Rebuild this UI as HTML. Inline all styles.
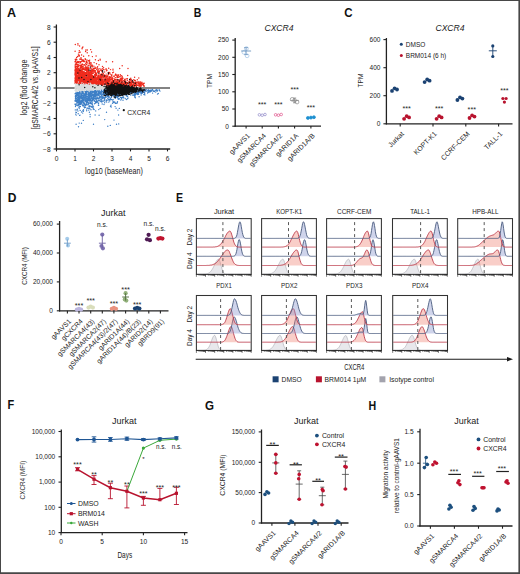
<!DOCTYPE html>
<html><head><meta charset="utf-8"><style>
html,body{margin:0;padding:0;background:#fff;}
svg{display:block;font-family:"Liberation Sans", sans-serif;}
</style></head><body>
<svg width="520" height="574" viewBox="0 0 520 574" fill="#222">
<rect x="0" y="0" width="520" height="574" fill="#fff"/>
<text x="7" y="17" font-size="12.2" font-weight="bold" fill="#111" textLength="9.1" lengthAdjust="spacingAndGlyphs">A</text>
<line x1="56.4" y1="88" x2="170" y2="88" stroke="#5a5a5a" stroke-width="1.4"/>
<path d="M85.6 75.9h0M77 70.3h0M95.9 83.4h0M94.3 82.9h0M76 79.4h0M77.6 81.8h0M90 82.5h0M81.9 79.2h0M101.9 76.3h0M88.7 80.6h0M76.3 77.5h0M79.2 76.7h0M78.4 76.3h0M80.4 65.4h0M98.7 80.5h0M96.6 79.1h0M76.8 76.4h0M106 84.5h0M90.2 79.9h0M91.4 73.7h0M84.7 79.9h0M82.6 68.5h0M98.2 68.9h0M110.6 84.2h0M84.2 79.1h0M89.7 84.1h0M113.5 82.2h0M76.1 72.7h0M105 85.4h0M131.7 81.5h0M85.2 79.7h0M98.6 75.2h0M91.6 73.1h0M92.5 66.6h0M104.7 75.5h0M103.3 81.7h0M121.9 85.2h0M105.1 79.2h0M75.6 76.6h0M78.4 82h0M76.7 82.8h0M82.7 78.6h0M88.5 81.9h0M91.2 82.1h0M96.7 73.7h0M129.3 81.3h0M83.9 75.8h0M133.7 84.7h0M79.5 80.2h0M82.2 77.2h0M93.1 79.1h0M75.1 78.5h0M89.8 76.4h0M106.9 79.6h0M94.7 75.5h0M76.5 72.1h0M137.5 85.2h0M118.5 75.3h0M88.6 81h0M102.4 83.8h0M76.7 76.4h0M79.8 80.7h0M86.3 84.2h0M79.5 83.6h0M77.9 81.9h0M131.4 85.7h0M100.9 82.2h0M86.6 78.4h0M87.3 70.9h0M92.1 72.6h0M93 81.5h0M86.4 82h0M83.4 81.2h0M75.6 77.4h0M95.4 78.7h0M75.7 72h0M95.4 68.2h0M107.4 84.4h0M83.2 79.9h0M115.2 83.6h0M95.7 83.9h0M81.9 74.7h0M120.4 76.1h0M119.6 85.3h0M121.4 86.1h0M94.8 79h0M87 82.2h0M83.9 83.7h0M83.2 74.9h0M91.1 63.2h0M87.3 83.2h0M81 76.4h0M81.2 67.7h0M124.9 79.3h0M92.8 75.8h0M77.4 67.2h0M104.4 75.2h0M112.7 80.4h0M92.7 78.1h0M86 68.5h0M118.9 80.9h0M89 83h0M110.1 84.6h0M79.5 78.8h0M139 85.8h0M122.7 83.7h0M104.1 80.6h0M78.8 72.5h0M75.4 67.1h0M95.3 83h0M90.5 72.7h0M81.4 69.6h0M82.9 82h0M99 79.8h0M83.2 79.3h0M140.5 85.7h0M86.9 71.9h0M138.8 85.4h0M89.8 75.1h0M95.6 80.3h0M95.2 76h0M80.5 82.5h0M75.1 81.1h0M92.5 79.7h0M110.1 80.8h0M94.9 82.5h0M97.1 84.6h0M97.4 81.6h0M82.8 81h0M94.3 70.2h0M97.4 84.3h0M90.9 64.4h0M100.8 76.3h0M107.1 86h0M91.4 74.6h0M107.7 84.7h0M131.9 83.6h0M97.3 83.2h0M124.9 84.8h0M90.9 81.3h0M77 83.2h0M105.1 83.4h0M116.7 83.7h0M109.3 84h0M104.4 76.6h0M81.7 66.9h0M88.8 55.7h0M123.6 85.2h0M79.8 71.9h0M86.3 79.4h0M80.9 76.7h0M75.5 66.8h0M97 83.9h0M86 83.7h0M101.6 83.1h0M117.2 86.2h0M78 83.3h0M116.1 84.7h0M83.6 76.7h0M140.9 84.4h0M121.5 86.2h0M143.4 85.1h0M98 84.4h0M76.6 78.8h0M106.7 83.9h0M102.4 84.6h0M119 77h0M76.9 72.4h0M129 82.8h0M96.9 83.2h0M83.5 75.4h0M82.4 74.7h0M78.2 81.7h0M81.1 81h0M85.2 78.5h0M84.3 68h0M93.9 81.5h0M75.5 73.9h0M82.8 67.3h0M96.8 84.1h0M80.7 59.2h0M78.1 79.5h0M121.5 80.9h0M124 84h0M88.6 70h0M86.4 83.8h0M123.6 84.5h0M89.1 71.6h0M86.6 79.5h0M77 81.5h0M111.7 86.2h0M77.4 76.9h0M125.1 81.6h0M84 73.1h0M82.5 80.9h0M79.7 72.2h0M91.1 82.9h0M96.5 63.7h0M82.6 75.3h0M87 82.6h0M75 73.7h0M94 78.3h0M81.1 82.8h0M83.3 84.1h0M77.6 80.9h0M75.6 81.4h0M84.9 82.8h0M95.5 73.9h0M112.8 80.8h0M132.5 81.5h0M88.4 71.8h0M79.4 55.9h0M110 85.1h0M124.1 85.2h0M135.5 82.7h0M120.5 80.2h0M79.1 70.9h0M124 85.5h0M119.4 83h0M135.8 82.6h0M106.2 84.5h0M75.9 75.7h0M78.9 80.4h0M124.2 84.6h0M97.2 77.3h0M106.1 79h0M93.3 69.1h0M112.5 86.1h0M94 72.5h0M76.9 79.9h0M111.3 86.3h0M83.4 80h0M110.6 83.3h0M93.5 71h0M88.1 70h0M114.6 85.1h0M101.1 83.9h0M79.3 80.3h0M83 83.7h0M97.8 78.4h0M75.3 74.9h0M105.3 84.1h0M107.1 83.7h0M94.8 78.7h0M92 80.5h0M136 86h0M81 59.2h0M75.5 79.7h0M91.7 74.7h0M91.2 62.9h0M83.5 77.9h0M81.4 59.2h0M98.7 79.3h0M78.9 73.3h0M121.7 75.7h0M108.1 85.5h0M82.2 74.3h0M75.7 75.5h0M75.1 70.8h0M84.8 83.7h0M79.1 78.4h0M124.9 83h0M75 83.2h0M78.5 62.6h0M109 81.7h0M87.7 79.9h0M88.6 71.8h0M87.2 84.4h0M90.2 84.3h0M77.9 80.1h0M124 83.8h0M82.8 60.3h0M83.4 77.4h0M87.7 84.1h0M133.7 84.5h0M141.6 83.2h0M96.7 84.9h0M110.9 84.3h0M91.3 84.7h0M84.2 69.5h0M76.4 78.1h0M92.4 82.9h0M86.5 79.6h0M83.2 67.9h0M104 83.1h0M88.6 73h0M80 79.9h0M139.3 84.8h0M93.7 81.5h0M91.3 65.1h0M79.1 82h0M86.4 80.4h0M77.6 82.9h0M97.9 79.1h0M134.4 86.3h0M89.5 74.9h0M95.2 79.6h0M76.7 76.3h0M83.8 78.9h0M94 84.2h0M102 82.4h0M83.6 78.7h0M82.8 74.9h0M126.4 83.5h0M131.1 85.4h0M108.6 86.1h0M136.5 82.3h0M75 80.7h0M88.5 68.5h0M127.6 82.8h0M82.8 79.4h0M95.1 82.1h0M106.2 75.6h0M103.4 81.7h0M114.4 78.9h0M76.1 79.6h0M116.5 84.9h0M103.2 69.1h0M84.9 78.9h0M102.5 81.8h0M107.6 84.3h0M95.2 83.1h0M98.8 81.2h0M100 82h0M75.3 79.3h0M103.1 78h0M133.6 83.8h0M82.7 82.9h0M108.2 85.8h0M93.8 83.4h0M105.5 81.4h0M104.9 83.5h0M82 74.6h0M89.8 82.9h0M106.2 82.2h0M111.6 75.4h0M94.1 78.7h0M85.2 58.7h0M121.7 85.9h0M113.9 82h0M84.5 72.9h0M80.6 80.1h0M81.9 70.5h0M79.3 75.7h0M88.6 78.6h0M79.2 55.1h0M76.4 73h0M137.1 85.2h0M133.5 85h0M85.9 50h0M80.6 67.5h0M75.9 76h0M104.7 81h0M86 77.7h0M80 75.1h0M86.8 84.3h0M78.6 76.3h0M87 83h0M121.9 84h0M76.4 72.6h0M92.5 70.8h0M80.8 66.7h0M87.3 82.6h0M89.4 83.3h0M120.4 86.2h0M76 80.1h0M76.8 75.9h0M112.4 84h0M137.3 85.1h0M101.1 80.5h0M83.3 82.2h0M83.8 75.4h0M75.1 82.4h0M102.3 68.8h0M75.7 82h0M88.3 73.7h0M82.9 73.1h0M80.5 78.5h0M119.1 85.6h0M115.3 75.3h0M100.4 82.5h0M87.2 76.9h0M116.5 82.9h0M113 84.3h0M82.7 81.5h0M96.9 84.6h0M85.7 63.8h0M83.4 81.5h0M77.4 72.8h0M108.7 81.7h0M91.1 83.9h0M101.3 77.8h0M105.5 86.1h0M104.7 71.9h0M78.5 78.7h0M97.8 79.7h0M87.7 84h0M82.7 77.1h0M82.7 71.7h0M98.5 71.5h0M85.7 59.5h0M94.3 68.4h0M82.2 78.5h0M77.9 68.6h0M92.5 77.7h0M141.9 82.2h0M76.1 81.8h0M80.7 78.7h0M98.8 78.5h0M129.7 84.7h0M91.2 83.9h0M78 64.5h0M99.7 81.6h0M87.5 79.8h0M79.1 81.3h0M99.9 79.8h0M103.7 85.8h0M85.8 82.9h0M105.9 83.8h0M81.2 75.5h0M118.2 84.4h0M77.9 82.4h0M88.7 71.6h0M77.6 78.6h0M79.9 80h0M84.1 74.3h0M85 75.9h0M97.7 83.4h0M87 67.5h0M87.3 74.7h0M81 82.9h0M75.2 75.6h0M138.1 81.6h0M89.2 76.5h0M133.3 84.3h0M75.4 81.7h0M96.8 73.6h0M77.5 64.7h0M101.5 79.5h0M79.3 74.4h0M84.1 61.1h0M78.1 80.3h0M93.3 77.2h0M81 57.7h0M78.7 55.7h0M92.9 76.5h0M76.5 73.5h0M138.8 85.1h0M101.3 83.8h0M116.9 83.3h0M81.8 67.1h0M123.1 81h0M80.5 81.7h0M94.8 76.6h0M88.2 79.4h0M110.1 82.8h0M136.9 82.6h0M113.5 84.3h0M76.1 80.4h0M99.9 82.3h0M96.7 80.4h0M89.8 79h0M98.8 74.9h0M91.1 78.8h0M90.7 72h0M93.3 83.3h0M82.3 82.4h0M91.7 69h0M80.4 78.8h0M78.7 82.8h0M90.3 76.3h0M94.4 80h0M76.1 80.3h0M111 84.3h0M115.9 84.4h0M94.1 84.9h0M87.9 79.6h0M127.9 85.6h0M110.8 84.6h0M93.4 79.7h0M142.4 84.3h0M76.8 66.5h0M86.8 84.2h0M136.7 84.5h0M83.7 81.8h0M94 80.6h0M143.7 85.9h0M94.2 78.5h0M85.5 78.1h0M79.8 82.2h0M106 82.8h0M116.8 84.2h0M78.3 68.3h0M87.1 81.8h0M131.1 81.6h0M133.3 84.7h0M78 68h0M88.6 84h0M118.5 84.8h0M98.4 60.5h0M87.2 83.5h0M80.3 72.3h0M112 75h0M83 78.3h0M102.7 75.9h0M104.6 85.2h0M85.2 81.6h0M79.4 83.7h0M101 77.2h0M136.5 84.8h0M78.9 81.4h0M75.6 67h0M75.1 80h0M87 80.8h0M81.9 71.8h0M81.2 76.8h0M101.6 81.7h0M82.6 83.1h0M79.4 71h0M130.8 83.2h0M116.5 82.6h0M75.3 78.1h0M103.2 79.5h0M103.2 83.4h0M91 70.9h0M82.8 77.5h0M138.6 83h0M89.2 81.5h0M82.4 67.1h0M75.3 76.2h0M96.8 81h0M81.1 81.7h0M100.5 74.4h0M120.7 86h0M80.2 80.5h0M76.4 74.5h0M134.9 85.2h0M75.2 65.6h0M125.6 86.2h0M111.8 79.1h0M91.4 84.2h0M82.2 79.1h0M76.1 73.8h0M107.3 76.2h0M125.8 85.5h0M97 79h0M90.6 82.1h0M83.4 71.9h0M102.9 80.8h0M132.7 85.8h0M75.4 82.8h0M112.1 81.6h0M112.3 80.2h0M85.8 66.2h0M82.4 71.7h0M107.1 80.8h0M104.8 78h0M124.8 85.6h0M107.5 81.6h0M110.1 80.7h0M98 83.5h0M101.5 80.8h0M77.2 78.2h0M75.7 80h0M78.1 74.4h0M79.2 79.4h0M75.8 66.5h0M102.3 82.9h0M107.5 86.1h0M99.3 82.7h0M87.3 77h0M135.4 80.9h0M76.9 66.7h0M78.1 65.5h0M81.3 81.8h0M126.2 85.6h0M120.5 79.8h0M102.2 75.2h0M84.2 80.4h0M113.5 84.7h0M81.2 79.2h0M75.6 72.5h0M83.1 80.7h0M87.5 69.4h0M85.5 72.8h0M126.9 85.2h0M101.2 77.9h0M90.6 83h0M115.3 81h0M96 74.3h0M81.6 80.9h0M121.6 84.6h0M80.1 76.5h0M114.1 86.3h0M75.1 70h0M118.4 85.9h0M80.5 74h0M123.5 86.2h0M83.2 76.2h0M81.6 80.9h0M107.7 82.9h0M102.5 86h0M77.3 79.4h0M117.1 77.7h0M101.9 81.1h0M88.7 77h0M135.2 80.5h0M75.7 71.1h0M81.3 82h0M93.9 66.1h0M88 79.3h0M91.8 80.5h0M95.6 84.9h0M103.3 73.4h0M86.7 81.8h0M125.4 84h0M104.5 86h0M90.7 79.2h0M115.4 83.6h0M91.9 82.7h0M133.9 86.2h0M84.8 77.7h0M108 84.1h0M79.6 78.5h0M82.7 78.2h0M79.8 72.1h0M85.8 74.2h0M110.5 69.6h0M77.9 78.6h0M88.2 83.5h0M118.1 85.7h0M80.9 72.6h0M102.6 81.9h0M88.4 80.5h0M75.9 67.2h0M107.2 78.9h0M93.9 78.5h0M79.2 74.7h0M100.2 74.9h0M139.9 83.9h0M90.3 70.9h0M89.9 77.7h0M82.1 80.2h0M115.5 74.3h0M107.8 80h0M102.9 76.8h0M91.5 79.9h0M77.8 69.2h0M89.8 81.7h0M102 73.9h0M82.8 73.9h0M101.4 81.9h0M89.3 74.8h0M80.5 61.8h0M103.9 84.8h0M93.3 76.3h0M76.1 76.9h0M116.4 85.4h0M94.9 76.1h0M96.2 78.7h0M109.4 76.7h0M123 85.8h0M95.1 67.3h0M81.4 70.2h0M106.4 76.8h0M78.6 72h0M86.9 77.1h0M88.9 82h0M75.4 72.9h0M107.6 82.7h0M86.8 83.8h0M111.8 81.8h0M95.4 82.3h0M88.5 67.7h0M81.5 71.3h0M120.1 79.7h0M102.4 76.2h0M82 81.4h0M86.9 72.8h0M121.1 79h0M92.2 81.8h0M78.6 70.4h0M123.8 80.6h0M83.5 68.2h0M87.8 84.3h0M80.6 72.6h0M75.1 81.6h0M82.6 75.7h0M84.8 73.6h0M102.6 85h0M104.3 75h0M127.4 78.8h0M76.6 72h0M116.7 75.3h0M79.1 76.1h0M75.4 69.2h0M75.3 67.4h0M82.8 79.5h0M77.9 78.5h0M115.7 83h0M86.6 72.1h0M117.7 76.3h0M80 72.3h0M116.4 81.3h0M105 76.1h0M124.7 81.2h0M81 79.3h0M111.8 78.9h0M90.7 76.1h0M83.4 75.3h0M82.3 76.2h0M76.6 73.4h0M92.1 78.4h0M93.8 77h0M96.1 84.7h0M125 85.9h0M92.2 72.5h0M125 83.7h0M87.8 63h0M77.1 69.6h0M102.6 84.8h0M100.6 84.4h0M106.2 80.5h0M94.4 81.9h0M93 83.2h0M109.5 85.3h0M101.7 77.7h0M87.4 68h0M92.5 69.7h0M81.4 81h0M90.5 74.3h0M122.7 83.4h0M84.4 79.4h0M94.1 77.2h0M83.6 56.2h0M103.9 85.3h0M117.7 83.9h0M84.7 76.5h0M99 76.2h0M76.1 68.6h0M109.9 80h0M76.4 74.1h0M84.7 77.7h0M144.2 86.3h0M100.5 78.1h0M140.5 82.6h0M100.7 77.5h0M107.4 79.7h0M99.7 83.4h0M104.9 81.6h0M91.7 84.6h0M80.4 78.9h0M76 79.5h0M104 69.7h0M87.5 77h0M97.5 72.3h0M83.1 80.6h0M85.4 74.4h0M90.3 71.1h0M76.5 63.1h0M97.8 81.5h0M120.2 85.7h0M98.3 77.7h0M75.4 77.2h0M88.3 65.6h0M92.6 73.4h0M89.5 73.8h0M81.5 74.8h0M79.5 82.7h0M106.3 86.3h0M78.5 79h0M130.4 86h0M78.8 66.3h0M82.5 82.2h0M111 85.5h0M115.5 84.6h0M109 79.5h0M77.4 69.3h0M101.9 83.7h0M83 72.9h0M109.4 85.2h0M103.6 86h0M121.3 82.4h0M110.6 83.6h0M79.9 75.8h0M76.7 73.5h0M87.5 75.2h0M105.7 82.8h0M79.3 80.7h0M103.2 79.1h0M102 79.3h0M117 83.5h0M116.8 81.9h0M76.7 79.6h0M108.1 83.4h0M100.3 79.4h0M123.4 83h0M90.2 80h0M134.6 82.7h0M100 77.2h0M136.6 85.4h0M75 74.5h0M83.3 72h0M121.1 83.1h0M134.4 80.2h0M120.4 83.7h0M129.9 83.5h0M126.8 84.8h0M119.8 81.6h0M86.6 64.4h0M77.4 64.8h0M81.1 77.6h0M112.7 82.1h0M100.4 83.4h0M105.8 81.5h0M83 82.5h0M112.8 84.5h0M77.5 71.6h0M119.7 85.8h0M98.6 79.7h0M136.8 83.6h0M92.6 77.7h0M99.2 83.7h0M80.4 77.3h0M107.9 80.5h0M89 75.3h0M94.8 83.7h0M87.7 82.2h0M78.1 70.5h0M79.6 69.6h0M99.7 80.2h0M75.6 71.9h0M75.9 60.7h0M93.1 84h0M97.8 84.5h0M90.1 68.5h0M114.7 79.8h0M83 59.9h0M76.1 81.2h0M77.4 76.8h0M76.4 62.1h0M91.7 78.4h0M140.5 83.2h0M88.8 79.6h0M78.5 75.4h0M97.6 83.9h0M102.8 75.1h0M88.6 80.8h0M91.2 72h0M81.8 60.9h0M76.1 83h0M138.4 83.7h0M138.9 85.9h0M117 84.8h0M108.6 74.3h0M76.6 57.4h0M79.3 82.9h0M105.7 69.1h0M84.7 69.9h0M78 73.5h0M85.6 84.1h0M92.9 80.4h0M80 83.3h0M105.8 82.3h0M75.3 81.8h0M76 76.1h0M81.8 64.6h0M134.7 83.6h0M79.1 79h0M125.2 85.6h0M101.9 79.2h0M122.1 85h0M92.7 81.5h0M81.8 79.7h0M76.6 80.2h0M79.3 70.3h0M130.7 85.9h0M79.6 72.6h0M83.6 79.2h0M80 75.5h0M93.4 77.1h0M78.3 62h0M76.6 70.2h0M81.5 74.3h0M92.7 83.4h0M81.1 75.9h0M87.3 50h0M77.8 81.3h0M84.3 81.4h0M110.3 84.9h0M84.5 82.4h0M119.8 86.2h0M86.3 84h0M123.6 86.1h0M95.3 81.6h0M141.1 83.9h0M81.7 78.8h0M80.4 81.3h0M115 85.4h0M77.2 76.3h0M77.5 73.4h0M83.7 76.6h0M81.3 71.3h0M120.4 81h0M98.8 84.7h0M110.9 84h0M89.3 84.1h0M120.3 84.6h0M86.1 73.5h0M93.5 70.1h0M75.4 72.4h0M130.9 84h0M83.4 76.5h0M87.4 67.6h0M79.9 73.7h0M75.1 72.2h0M95 75.3h0M78.5 79.2h0M109.1 80.8h0M85.5 66h0M108.8 77.9h0M76.7 70.8h0M131.1 82.1h0M94.6 82.3h0M95.6 83.6h0M81.9 83.5h0M80.5 77.3h0M121.2 84h0M75.8 68.9h0M80.9 74.5h0M75.5 71.2h0M95.1 78.6h0M108 75.1h0M109.4 78.1h0M76.3 74h0M93.9 77.9h0M83.9 76.6h0M79 76h0M99.4 82.7h0M98.1 82h0M112.3 80.2h0M88.4 69.1h0M89.8 78.6h0M88.7 74.7h0M115.8 84h0M86.1 78.1h0M90.6 68.1h0M141.4 85.8h0M120.9 85.3h0M94.8 82.9h0M82.8 71.1h0M87.3 78h0M95.6 77h0M94.1 81.2h0M75.6 64.1h0M115.8 74.3h0M102.3 80.1h0M133.8 79.7h0M76 77.8h0M105.9 81.9h0M83.7 61.6h0M101.4 81.2h0M82.8 73.1h0M84.2 82.8h0M84.9 81.2h0M99.5 82.4h0M94.6 84.1h0M95.8 75.7h0M79.4 79.6h0M84.5 80.4h0M89.2 83h0M77.5 75.5h0M96.5 79.2h0M98 75.9h0M103.6 82.5h0M91.8 71.2h0M96.6 78.1h0M85.1 76.9h0M82.5 81.8h0M88.1 73.2h0M99 78h0M128.9 86h0M82.4 72.6h0M84.1 80h0M84.5 83.4h0M76.9 76.9h0M130.8 85h0M88.4 83.3h0M90.8 84.4h0M81.9 78.9h0M111.5 83h0M86.8 77.1h0M105.6 75.7h0M121.8 79.7h0M94.8 84.2h0M113.8 76.2h0M92.5 81.9h0M142 82.8h0M78.7 82.9h0M114.5 85.9h0M99 64.7h0M98.1 85.3h0M89.7 80.7h0M100.4 69.9h0M88 74.3h0M109.9 84.1h0M84.4 74.2h0M88.2 76.8h0M85.6 79.8h0M93.8 68.3h0M91 81.7h0M79.3 75.2h0M98.3 82.5h0M143.8 85.9h0M85.6 73.8h0M81.2 67h0M90.1 83.6h0M76.3 82.5h0M97.6 66.7h0M115.4 86.1h0M96 75h0M94.8 85.1h0M106.4 81.1h0M99.6 80.8h0M86.8 70.4h0M95.3 81.1h0M77.8 75.7h0M97.4 79.5h0M98.2 70h0M93.1 69.2h0M90.8 62.9h0M86.4 61.2h0M95.5 83.2h0M85.4 78.7h0M122.6 83.9h0M136.2 86.2h0M106.9 77h0M134.6 77.2h0M89.9 80.4h0M94.5 79.1h0M94.1 83h0M102.1 81.4h0M100.1 70.3h0M102.5 66.4h0M76.2 66.5h0M85 74.9h0M106.9 80.3h0M125.2 86.2h0M99 83h0M93.7 80h0M96.9 84.2h0M95.6 72.9h0M98.2 82h0M79.6 80.8h0M113.8 84.1h0M80.1 80.7h0M95.1 79.9h0M119.7 79.7h0M76.7 64.3h0M85.6 83h0M109.2 83.8h0M83.4 79.1h0M77.8 71.5h0M86.7 77h0M91.3 82.5h0M135.2 85.6h0M98.8 77.1h0M101.3 83.8h0M82.8 61h0M127.5 83.6h0M85.3 69.4h0M84.8 73.2h0M100.1 76.7h0M82.6 81h0M88.4 83.3h0M85.1 77.3h0M131.6 79.7h0M82.6 82.2h0M80.2 79.4h0M84.3 79.1h0M97.4 77.7h0M88.3 76.7h0M89 80.2h0M122.5 85.3h0M86.8 84.2h0M84.1 77.5h0M82.4 68.9h0M86.4 81.2h0M79.6 82.4h0M83.5 79.8h0M124 82.7h0M124.2 82.6h0M119.5 83.6h0M109.9 81.1h0M87.9 78.1h0M94.1 83.6h0M82 78.6h0M108.3 85.2h0M83.2 73h0M87.5 76.9h0M82.7 78.4h0M131 84.7h0M78.6 70h0M83.6 83.1h0M115.2 79.8h0M97.8 77.4h0M85.1 81h0M80.3 80.9h0M126.8 83.5h0M78.1 68.9h0M97.5 79.1h0M84.6 75.1h0M76.9 80.4h0M78.7 76.4h0M109.3 84.9h0M140.2 83.8h0M115.6 77.6h0M78.9 69.1h0M83.8 68.9h0M104.6 84.1h0M86.8 72.1h0M107.7 81h0M82.8 78.5h0M102 80h0M80.5 66.1h0M111 76.8h0M108.9 84.4h0M79.8 83h0M81 80.5h0M76.1 72.9h0M85.1 80.2h0M124.8 84.1h0M98 84.2h0M90.5 77.8h0M106.4 86.1h0M123.9 86.1h0M115.8 85.9h0M127.4 85.1h0M100.4 80.1h0M78.2 81.2h0M117.6 83.2h0M112.7 72.7h0M77.5 79.7h0M112.5 80.4h0M123 85.9h0M90 80.8h0M107 85.4h0M101.9 71.3h0M91.4 71.5h0M90.2 79.9h0M94.5 81.1h0M114 84.9h0M76.2 77.4h0M83.2 66.2h0M96.5 73.5h0M96.4 83.1h0M82.8 74.9h0M89.4 81.4h0M81.1 81.7h0M108.4 82.8h0M105.2 85.8h0M94.7 78.7h0M91 76.9h0M84.7 80.5h0M133.8 83.5h0M86 74.4h0M121 77.9h0M80 78.3h0M104.9 79.5h0M114.5 82.4h0M123.4 83.3h0M87.2 79.1h0M81.3 75.9h0M81 80.7h0M107.9 83.1h0M85.7 82.8h0M92.2 81.4h0M77 78.3h0M75.3 64.3h0M77.4 82.6h0M109.4 77.7h0M78.1 81.8h0M93.3 79.8h0M96.3 83.2h0M75.2 68.9h0M101.9 80.5h0M103.8 86.1h0M79.1 75.5h0M75.8 80h0M84.6 65h0M80.6 70.5h0M80 67.9h0M116.8 81.7h0M85.8 70h0M80.6 79.5h0M87.5 76.9h0M96.8 74.5h0M82.4 69.6h0M76.1 68.9h0M121.6 83.4h0M108.3 72.5h0M93.6 73.1h0M93.8 81h0M98.7 79.8h0M77.3 81h0M90.9 79.7h0M77.6 72h0M80.8 81h0M109.9 73.5h0M127.6 86.2h0M117.1 82.2h0M104.5 83.4h0M94.7 78.2h0M90.7 80.8h0M104.8 78.9h0M79.9 63h0M84.5 72h0M86.6 80h0M80.9 75.8h0M91.8 80.8h0M140.1 81.7h0M101.3 69.9h0M120.3 79h0M100.6 81.4h0M84.6 61.6h0M92.8 75.4h0M103.4 84h0M133.9 83.3h0M75.8 76.9h0M91.1 71.9h0M77.4 77.8h0M98.7 78.9h0M89.7 72.7h0M88.7 82.3h0M78.3 73.8h0M96.6 69.2h0M78.2 78.1h0M77.7 77.1h0M95.6 85.2h0M97 75.6h0M82 79.3h0M94.6 83.3h0M99.2 78.3h0M77.1 78h0M90.8 77.1h0M109.1 79.8h0M113.5 72.1h0M109.8 72.8h0M77.9 78.2h0M80.1 74.4h0M97.5 84.8h0M115.7 83.2h0M76.6 82.5h0M75.4 72.4h0M99.5 84.1h0M108.4 80.7h0M90.1 74.8h0M131 82.9h0M97.5 70.8h0M80 73h0M112.2 80.4h0M106 76h0M122.5 82.9h0M111.4 81.9h0M109.8 77.5h0M77.9 79.5h0M96.7 84.1h0M105.6 82.9h0M83 80.1h0M124.5 81.5h0M98.7 84.3h0M78.2 82.1h0M118.9 83.6h0M84.3 72.3h0M106.6 83.4h0M131.7 84.9h0M96 79.6h0M75.4 64.1h0M86.4 77.6h0M131.2 82.7h0M118.8 82.9h0M121.4 85.6h0M106 79.9h0M79.7 76.1h0M125.7 79.1h0M100.7 75.8h0M77.1 79.8h0M136.1 84.4h0M99.2 80.9h0M87.2 82.9h0M92.2 77h0M86.9 79.9h0M75.2 74.2h0M75.6 78.4h0M91.7 82.1h0M79.3 83.4h0M105.2 85.4h0M93.9 78.1h0M83.3 72.6h0M75.9 77.5h0M97.4 83.3h0M115.5 74.4h0M102.3 81.1h0M84 76.9h0M118.2 77.1h0M106.1 74.1h0M84.9 82.9h0M94.3 70.8h0M102.4 80.2h0M89.2 75h0M76.7 78.3h0M92.9 78.2h0M87.5 84.2h0M86.7 77.2h0M79 61.6h0M91.4 84h0M91 77.7h0M80 79.9h0M76.9 80.4h0M110.3 80.9h0M96.8 78.3h0M144.1 85.6h0M98.8 81.1h0M98.6 83.1h0M87 82.9h0M130.2 82.2h0M76.9 59.6h0M83.8 82h0M83.1 77.9h0M83.5 83.2h0M108.2 84.9h0M81.1 73.4h0M100.1 78.1h0M81 72.3h0M111 77.7h0M77.2 80h0M120.1 82.9h0M79 76.6h0M80.7 62.6h0M102.8 82.4h0M81.5 75.8h0M103.5 74.9h0M89.1 80.9h0M76.6 74.2h0M89.6 72h0M86.1 80.4h0M93.6 79.5h0M91.9 80.9h0M75.4 70.2h0M76.6 76.9h0M100.9 84.7h0M77.7 73.8h0M79.6 72.2h0M77.6 68.7h0M120.8 80.6h0M99.2 81h0M97 79.1h0M85.9 73.1h0M111.8 85.8h0M114.2 76.7h0M115.7 82.6h0M91.4 70.1h0M83.9 60.1h0M78.8 79.9h0M75.2 66.8h0M115.5 85h0M87.2 77.5h0M113.4 86h0M77.6 77.7h0M76.7 82.4h0M94 79.9h0M87.4 82.4h0M79.4 75.9h0M144.2 83.3h0M79.8 65.3h0M82.6 80.7h0M93.8 79.8h0M118.9 82.5h0M91.8 76.1h0M78.1 62.3h0M111 77.7h0M89 79.2h0M129.3 81.5h0M89.4 80.2h0M143.4 83.5h0M81.9 78.9h0M82.9 83.2h0M82.2 72.8h0M81.2 83h0M84.6 69.7h0M81.6 78.3h0M129.1 85.3h0M130.4 85.6h0M122.1 78h0M84 78.4h0M135.3 83.1h0M79.8 77.8h0M91.4 73.6h0M98.6 81.4h0M133.5 84.7h0M87.2 80.8h0M80.5 62.8h0M129.3 82.9h0M75.7 83h0M78.2 82.1h0M141 86.3h0M79.4 83.3h0M80 78.9h0M106.2 80.8h0M143.2 85.3h0M109.3 72.4h0M75.9 62h0M82.3 79.8h0M76.1 66.7h0M94.1 84.1h0M78 71.9h0M75.5 73.4h0M132.4 86.1h0M78.5 77.7h0M90.2 84.4h0M80.4 81.4h0M111.5 83h0M93.9 78.8h0M93.7 79.7h0M143.3 85.4h0M133.4 84.3h0M110.8 85.7h0M83.4 77.7h0M76.9 70.6h0M89.3 81.6h0M97.1 84.7h0M106.7 85.5h0M103.8 77h0M106.9 83.9h0M131.4 85.6h0M85.4 74.4h0M89.8 75.5h0M88.2 83h0M89.4 63.5h0M75.1 51.3h0M100.5 80.3h0M100.7 83.1h0M87.9 84.2h0M78.4 76.3h0M125.4 84.2h0M76.4 59.3h0M107.2 81.7h0M96.7 74.5h0M85.3 83.9h0M112.3 86.3h0M127.3 80.5h0M82.3 83.1h0M102 85.6h0M108.9 79.7h0M88.6 71.6h0M105.8 84.7h0M85.6 75.7h0M81.9 74.4h0M100.8 84.2h0M92.4 65.2h0M109.8 78.8h0M81.8 82.3h0M79.2 71.7h0M95.2 80.6h0M95.4 82.8h0M80.1 76.5h0M121.9 79.3h0M122.8 84.6h0M136.1 85.7h0M88.1 82.4h0M123.5 85.3h0M79.5 78.7h0M82.9 76.3h0M119.2 83.3h0M95 81.7h0M88.7 83.4h0M107.3 78.7h0M118.6 84.4h0M113.7 80.8h0M87.4 72.6h0M95 84.6h0M86.3 74.9h0M88.1 78.1h0M98 84.9h0M76.6 75.7h0M83.7 69.4h0M85.7 83.4h0M77.6 62.5h0M102.5 82.7h0M90 79.9h0M117.8 82.3h0M76.2 76.1h0M90.9 75h0M84.5 72.3h0M89.3 74.3h0M86.8 70h0M88.2 65.3h0M80.8 72.3h0M108.9 79.3h0M85.9 73.7h0M77 83.1h0M95.3 76.8h0M93.7 72.9h0M75.7 72.2h0M99.4 76.9h0M124.8 85.1h0M89.6 65.1h0M90.8 81.6h0M93.4 68.4h0M105.2 85.2h0M111.7 84.8h0M106 85.1h0M97 83.7h0M78.4 64.9h0M81.8 66.8h0M77.9 74.1h0M77.5 83.2h0M76.5 68.9h0M106.1 84.3h0M76.5 70.9h0M107 78.1h0M121.2 83h0M130.9 84.2h0M94.9 79h0M75.2 74.2h0M83.3 83.5h0M85.2 83.7h0M97.1 68.8h0M94.5 82.7h0M84.9 82.7h0M129.8 83.8h0M83.1 64.8h0M81.1 71.4h0M87.7 80.7h0M92 72.9h0M87.4 83.6h0M119 82.6h0M97.1 67.4h0M76.4 78h0M89.3 73.9h0M97.6 82.5h0M118.3 82.3h0M84.4 79.7h0M99.4 71.5h0M91.5 75.7h0M132.2 84.7h0M76.6 68.8h0M76.4 76.9h0M129 81.4h0M80.4 77.5h0M97.4 82.4h0M105.5 78.1h0M105.6 84.9h0M124.6 83.2h0M79.3 77.3h0M77.9 79.8h0M77.7 77.7h0M89.6 62h0M104.3 85.4h0M106.5 70.8h0M79.6 68.1h0M76.2 77.3h0M124.2 85.4h0M98.7 79.9h0M85.4 78.9h0M141.1 85.8h0M85.7 81.2h0M118.7 83.7h0M88.5 75.4h0M102.9 84.5h0M81.9 79.5h0M92 83.8h0M110.4 77.3h0M78.3 76.5h0M123 78.3h0M95.3 71.6h0M84.3 74.4h0M93.7 73h0M77.7 61.5h0M99.8 84.2h0M96.2 81.4h0M83.6 81.1h0M135.8 85h0M75.9 76.6h0M99.8 78.5h0M104.1 84.7h0M76.4 77.3h0M82.7 74.2h0M111.9 81.4h0M84.6 68.1h0M77 78.8h0M96.8 84h0M117.2 81.1h0M75.9 76.2h0M94.6 74.8h0M78.9 74.6h0M98.5 80.8h0M104.6 80.5h0M79.9 71.3h0M86 63.6h0M125.3 82.6h0M79.4 74.8h0M77.7 79.5h0M93.6 82.1h0M95.9 78.2h0M79.9 75.6h0M95.9 77.1h0M81 83.4h0M89.1 83.2h0M82.5 78.8h0M130.8 78.2h0M75.4 83h0M93.2 82.1h0M106.8 77.4h0M82.1 84h0M83.3 78.1h0M75.9 72.6h0M84.4 76.6h0M135.2 82.6h0M82.2 77h0M99.6 83h0M76.7 66.2h0M82.7 59.9h0M76.1 64.6h0M101.2 80.7h0M86.4 67.4h0M120.3 74.8h0M75.3 77.2h0M89.4 81.3h0M82.6 81.6h0M111 84.7h0M86.5 79.3h0M79.1 81.2h0M85.9 77.7h0M117.7 79.8h0M116.1 85.4h0M139.9 86.3h0M81 68.8h0M101.7 78.1h0M77.6 67.5h0M109.4 84h0M105.4 82.7h0M112.2 78.4h0M139 82.5h0M112.2 80.6h0M99.3 72.9h0M90.5 77.4h0M130.7 80.3h0M84.7 72.1h0M78.3 80.3h0M117.1 86.2h0M82.2 64h0M81 76.3h0M93.5 83.4h0M139.9 84.7h0M88.5 70.7h0M116.7 84h0M122.5 79.1h0M89.2 72.9h0M124.2 82.7h0M86.3 68.8h0M117.8 80.3h0M75.1 81.2h0M78.2 83.4h0M120.5 80.1h0M91.6 78.8h0M86.1 82.3h0M125.6 82.2h0M101.3 85h0M83.6 79.9h0M107.9 76.7h0M119.8 83.5h0M78.5 82.3h0M122.1 85h0M80.5 80.2h0M87.2 60.1h0M81.9 72.8h0M136 83.6h0M88.6 60.7h0M94.2 85.1h0M80.7 80.8h0M95.4 80.8h0M75 70.8h0M91.5 65.1h0M120.1 86.3h0M77.9 73.3h0M96.9 78.8h0M87.9 75.7h0M136 85.7h0M101.6 83.2h0M91 76.4h0M104.4 84.3h0M102.2 79.3h0M105.7 80.1h0M139.7 83.8h0M76.6 83.3h0M124 83.8h0M91.2 74.1h0M112.8 78.4h0M112.7 79.9h0M76 80.6h0M135.4 84.8h0M79.2 71.5h0M76.3 75.7h0M88.5 84.4h0M84 69.5h0M114.1 84.4h0M89.9 73.3h0M103.5 82.2h0M88 70.9h0M108.6 84.3h0M79.8 75.6h0M98.3 78.8h0M86.6 68.8h0M79.1 61.5h0M79.8 81.5h0M111.5 83.6h0M76.5 74.9h0M84.6 64.6h0M80.6 65.1h0M85.1 78h0M85.5 82h0M90.7 79.2h0M88.6 79.9h0M88.2 77.2h0M81.2 82h0M140.1 81.6h0M102.6 81.5h0M116 85h0M113.5 83h0M92.3 72.3h0M113 82.9h0M83.8 69.2h0M95.5 70.6h0M84.3 78.8h0M115.1 82.9h0M76.1 76.6h0M86.9 73.2h0M83.4 83.9h0M96.6 82.2h0M113.1 83.5h0M119.9 81.4h0M78.2 78h0M102.3 75.6h0M107 85.2h0M111.9 80h0M86.4 70.4h0M86.7 73.3h0M80.6 74.7h0M95 77.5h0M105.1 83h0M86.3 81.3h0M76.9 72.2h0M127 83.6h0M105 79.6h0M98.2 81.6h0M83.7 74h0M124.6 79.5h0M79.5 75.1h0M93.9 72h0M137.2 82.4h0M121.8 81.4h0M103.5 83.2h0M108.1 83.8h0M108.1 82.1h0M76.9 77.6h0M100.2 82.9h0M81.5 76.4h0M81.9 70.8h0M119.1 81.8h0M87.1 83.3h0M124.6 84.6h0M85.7 70.3h0M79.1 83.3h0M83.8 73.8h0M97 82.1h0M119.8 76.6h0M78.2 78.5h0M81.9 77.4h0M85.9 77.8h0M97.9 82.6h0M81.4 65.5h0M124.8 84.2h0M75.8 70.2h0M116 79.5h0M90 82.8h0M76.8 71.1h0M98.9 76.1h0M88.9 71.9h0M82 82.9h0M130 79.2h0M85.9 83.9h0M77 77.5h0M91.5 84.2h0M106.2 84.3h0M86.4 73.9h0M80.7 76.7h0M80.9 78.9h0M111.2 79.4h0M81 82.7h0M108.1 84.5h0M97.4 79.2h0M107.9 74.9h0M143.7 85.7h0M109.9 85.9h0M81.3 80.1h0M75.4 71.4h0M102.1 76.6h0M83.3 80.3h0M102.2 82.3h0M84.9 78.2h0M86.9 82.8h0M137.4 85.2h0M77.9 72.1h0M78.1 72.7h0M92.3 72h0M141 85.5h0M121.9 80.8h0M78.7 72.7h0M94.3 78h0M81.4 83.9h0M140.2 85.8h0M108.7 68.2h0M90.6 76h0M110.9 77.4h0M125.1 80.7h0M78.9 76.1h0M98.9 85.2h0M88 66.3h0M117 85.7h0M92 66.5h0M95.8 80.5h0M77 76.5h0M133.9 82h0M93 81.1h0M82.6 78.6h0M139.3 85.4h0M99.3 83.1h0M78.7 79.9h0M99 77h0M102.5 83.8h0M76.9 71.9h0M110.1 79.2h0M88.9 81.1h0M105.4 85.1h0M103.5 80.6h0M107 82.5h0M140.2 86.1h0M99.9 80.2h0M82.1 81h0M88.6 80.4h0M102.3 72h0M111.8 83.5h0M119.2 85.7h0M76.1 75.4h0M81.7 81.6h0M105.3 76.8h0M143.5 85h0M83.3 83h0M113.5 85.3h0M78 66.4h0M80.6 81h0M119.8 83h0M78 72.3h0M117.1 76.5h0M75.1 67h0M126.9 78.7h0M94 79.5h0M101.3 74.2h0M77.2 72.3h0M76.5 74.5h0M88.8 82.4h0M75.2 83.2h0M123.2 85.2h0M120.4 83.7h0M103.6 85.1h0M81.3 79.3h0M96.5 83.6h0M86.8 71.2h0M126.6 82.3h0M126.3 82.9h0M84.8 78.5h0M114.1 81.3h0M114.8 79.7h0M75.2 78.3h0M107.1 84.7h0M99.8 76.9h0M89.2 83.4h0M100.7 75.3h0M110.9 74.6h0M118.3 77.3h0M109.3 79.6h0M75.8 74.1h0M90.3 68.3h0M132.3 82.6h0M90.9 64.8h0M108.4 86.2h0M86.7 76.1h0M85.7 75.4h0M103.9 81.6h0M114.1 76.1h0M113 69.1h0M83.7 84.1h0M75.6 71.6h0M82.1 66.2h0M85.8 69.6h0M115 84.4h0M118.1 74.7h0M95.7 72.6h0M85.2 72.8h0M101.8 79.4h0M79.8 73.8h0M95.6 79h0M89.2 75.1h0M141.7 84h0M77.6 56.5h0M81.5 78.6h0M75.4 59.2h0M83.2 77.4h0M80.3 52.1h0M90.7 79.3h0M112.3 77.3h0M113.1 86.3h0M75.8 74.6h0M107 84.9h0M103 80.3h0M99.3 79.6h0M107.3 78.4h0M84.9 80.8h0M75.4 81.7h0M87.2 81.5h0M93.5 81.7h0M106.6 84.5h0M80.3 65.6h0M77.9 79.8h0M106.8 79.4h0M91 84.3h0M137.3 79.8h0M116.3 81.7h0M115.8 79.4h0M119.7 68.4h0M100.7 77.3h0M75.2 78h0M129.4 80.9h0M99.9 68.6h0M100 79.3h0M78.6 80.4h0M86.2 62.7h0M94.5 78.1h0M76.5 81.8h0M119.3 80.8h0M85.5 59.5h0M78.4 54.1h0M81.7 72.8h0M92.1 80.4h0M81.6 54.9h0M82.8 72.4h0M108.5 79h0M80 77.4h0M86.2 73.4h0M98.7 71.9h0M122.1 81.6h0M100.2 60.1h0M81.2 81.6h0M88.3 80.2h0M89.2 61.2h0M77.3 79.9h0M90.1 79.1h0M81.1 70h0M77.9 81h0M85.4 69.7h0M138.8 78h0M76.7 77.1h0M106.5 70.8h0M122.2 65.7h0M120.1 81.1h0M92.2 77.6h0M79.3 50.7h0M80.5 80.7h0M82.1 48.8h0M89.3 60.4h0M76.8 68.8h0M83.8 78h0M100.1 75.2h0M77.9 43.8h0M90.2 78.9h0M75.3 59.7h0M91.7 81.7h0M89.7 60.1h0M92.8 77.8h0M91 65.8h0M99.4 80h0M112.6 61.7h0M106.2 61.7h0M85.6 51.4h0M79.6 77.1h0M96.1 55.9h0M77 77.2h0M75.8 69.3h0M78.5 78.1h0M107 70.3h0M86.9 61.8h0M75.3 44.5h0M81.1 68.6h0M91.6 52h0M90.7 49.6h0M97.4 78.5h0M116.5 79.8h0M89.1 77.7h0M84 71.7h0M84.7 61.6h0M75.5 71.8h0M79.1 52.4h0M75 61.8h0M81.9 69.6h0M94.1 62.6h0M78.4 76.6h0M78 45.1h0M78.7 79.5h0M92.1 66.9h0M125.3 81.6h0M81.2 78.8h0M95.4 71.9h0M87.2 52.7h0M100.1 59.2h0M82.2 48h0M87.1 81.4h0M131.9 81.4h0M75.4 74.8h0M82.9 47h0M122.3 76.8h0M92.4 56.6h0M113 70h0M91.6 80.3h0M81.5 61.2h0M95.4 59.7h0M128 68.4h0M79.9 80.9h0M127.7 75.4h0M79.6 59.1h0M81.8 77h0M85.5 67.7h0M101.2 81.2h0M106.3 69h0M89.8 62.9h0M112.2 81.9h0M89.9 62.7h0M103.6 67.6h0M79.6 45.9h0M110.6 78.9h0" stroke="#ee2a1c" stroke-width="1.45" stroke-linecap="round" fill="none"/>
<path d="M95.8 93.6h0M83.6 110.1h0M84.8 103.1h0M124.2 93.9h0M128.9 94.3h0M80 92.8h0M86.4 96.9h0M76.3 98.4h0M95.2 96.2h0M78 111.1h0M106.8 97.1h0M91.3 93.1h0M82.1 100.6h0M99.3 100.6h0M81.5 93.1h0M92.1 103.7h0M141.8 90.7h0M113 95.5h0M83.1 101.7h0M128.8 90.5h0M138.8 91.9h0M109 96.9h0M107.9 99.9h0M83.2 102.2h0M122.9 90.1h0M86.8 91.9h0M82 91.9h0M119 93.3h0M86.4 91.3h0M120.9 90.5h0M79.5 91.9h0M81 97.2h0M89.3 99.4h0M95 96.2h0M77.1 93h0M78.2 94h0M111.2 91.7h0M119.1 90.3h0M123.3 97.9h0M90.5 96h0M105.4 89.7h0M76.9 100.2h0M93 100.4h0M121.7 90.7h0M134.9 95.9h0M78.7 97h0M120.5 91.2h0M135.3 90.2h0M78.6 98.3h0M115.3 92.3h0M82.9 93.4h0M107.3 96.5h0M85.2 98.9h0M86.1 100.4h0M122.7 92.3h0M76.2 93.2h0M87.7 96.8h0M112.8 92.4h0M83.5 102.6h0M88.8 94.3h0M81.3 97.5h0M84.5 93.5h0M121.6 98.7h0M133.5 90.7h0M122.3 93.5h0M77.1 95.1h0M76.9 94.6h0M101.7 99.1h0M152.6 93.1h0M97.9 91.3h0M101.2 93.1h0M102.3 96.8h0M102.9 97.8h0M130.3 90.7h0M93.1 92.4h0M99.4 90.2h0M84.3 104.2h0M89.2 103.6h0M129.4 90.5h0M92.2 107.6h0M110.7 94h0M79.1 104.3h0M87.1 94.4h0M76.4 112.5h0M80.1 94.1h0M98.2 94.6h0M77.6 97.3h0M126.4 90.1h0M78.3 101.7h0M93.5 107h0M76.9 105.4h0M87.6 91.6h0M79.2 96.7h0M77.7 97.8h0M141.2 92.7h0M81.9 98.5h0M95.5 101.7h0M90.3 95.1h0M79.6 96.5h0M86.1 92.2h0M98.7 105.2h0M109.3 91.2h0M121.6 94.9h0M124 91.6h0M79.2 96.2h0M137.1 90.9h0M85.9 96.6h0M98.4 94.2h0M146.3 89.6h0M89.3 97.2h0M90.5 102.5h0M82.7 105.7h0M148.6 91.6h0M106.7 100.4h0M109.5 90.2h0M160 91.1h0M144.8 90.2h0M138.2 89.8h0M92.4 98h0M91.1 93.5h0M84.5 94.2h0M94.6 100.9h0M127.1 96.4h0M85.4 104.7h0M123.2 93.7h0M127 90.8h0M114.5 93.5h0M92.7 92.8h0M103.7 92.6h0M90.2 94h0M143.7 91.8h0M144.7 90.6h0M125.5 91.2h0M116.8 90.5h0M150.5 90.1h0M104.4 95.3h0M131.5 90.5h0M131.4 91.4h0M90.4 94.9h0M85.6 97.3h0M76 97.1h0M133.9 89.7h0M77.6 95.5h0M125 91.2h0M94 98.6h0M135 92.5h0M112 91h0M158.3 93.5h0M124 91.4h0M88.8 98.4h0M79.1 100.3h0M107.8 93.2h0M99.5 97.5h0M94.9 98.6h0M83.6 100.2h0M91.6 103.7h0M119 99.4h0M79.9 93.8h0M108.1 90.4h0M96 91.9h0M78.6 101.4h0M102.4 94.9h0M91.3 103.3h0M84.3 91.9h0M84.1 106.9h0M154.4 91.6h0M92.7 91h0M120.8 92.6h0M88.3 93.3h0M89.8 91.4h0M104.3 93.8h0M100.7 91.8h0M105.5 92.7h0M133.7 92.9h0M104.7 102.8h0M127.7 92.3h0M83.6 97.5h0M75.9 112.3h0M101.5 90h0M105.4 95.2h0M135.2 93.5h0M95.4 95h0M87 95h0M95.2 98.8h0M78.6 92.7h0M75.2 100.3h0M126.1 95.5h0M85 91.7h0M82.1 102.2h0M109.2 92.9h0M107.6 91.9h0M122.2 89.6h0M120.9 97.4h0M86.8 101.2h0M77 110.1h0M96.6 92.6h0M134 90.3h0M116.9 93.3h0M112.7 94.5h0M90.2 91.4h0M83.2 98h0M81.5 102h0M88.4 97.1h0M81.5 92.3h0M82.9 95.1h0M89 96.1h0M99.2 90.1h0M96.4 98.7h0M98.6 91.5h0M83.2 95.5h0M81.9 94.3h0M77.8 99.2h0M94.1 109.5h0M91.2 97.3h0M118.4 91.7h0M93.4 99.4h0M106.4 100h0M75.2 101.2h0M91.2 101.1h0M111.8 94.8h0M96 93.9h0M88.1 102.5h0M124.1 91.8h0M80.8 103.3h0M132.9 95.1h0M108 92h0M104.5 94.9h0M94.1 92h0M159.3 90.4h0M134.6 92.7h0M99.2 91.1h0M100.3 99.7h0M90.9 103.5h0M103.1 98.4h0M99 94.4h0M90 99.2h0M132 93h0M86.2 96.9h0M91.7 96.4h0M103.6 90.6h0M138.7 92.4h0M81.5 92.3h0M82.9 93.2h0M77.3 93.8h0M84.6 95.9h0M77.2 93.3h0M122.1 97.4h0M104.6 92.1h0M96.1 91.8h0M82.9 91.7h0M93 105.9h0M78.6 102.6h0M108.6 97h0M76.4 96.6h0M75.8 93.8h0M120.6 91.2h0M81.5 94.8h0M82.4 101.7h0M91.5 98.2h0M96.1 94.7h0M84.8 95.5h0M120.3 91h0M81.1 96.7h0M91 91h0M103 92h0M117.2 95.2h0M132.9 90.4h0M106.7 102.1h0M109 93.3h0M90.2 106.1h0M147.6 93h0M105.4 92.1h0M92.9 94.3h0M118.4 99h0M132 89.7h0M101.8 102.1h0M94.8 90.9h0M115.9 97.5h0M94.4 95.7h0M110.3 91.9h0M86.6 98.6h0M133.1 91.2h0M118.1 99h0M89.2 91.2h0M109.9 94.3h0M81.4 98.1h0M86.9 98.7h0M78.2 105.9h0M81 98h0M128 97.9h0M107.7 95.6h0M95.6 93.3h0M130.5 90.2h0M79 92.6h0M150.9 90.5h0M96.6 91.1h0M123.5 93.1h0M113.7 95h0M122.3 92.8h0M83.9 95.3h0M92.1 95.9h0M95.6 102.6h0M127.6 93h0M97.5 95h0M98.7 95.6h0M79.7 91.8h0M117.1 92.5h0M77 103.6h0M124.9 89.9h0M80.2 97.4h0M85.6 97.5h0M137.4 93.3h0M78.4 94.1h0M145.5 90.1h0M98.1 91.3h0M98.4 92.4h0M90.6 103.5h0M82.6 102.1h0M79.7 104.4h0M82.6 99.5h0M81.6 91.6h0M98.8 91.3h0M84.2 97.7h0M110.1 99.8h0M111.9 91.4h0M103.2 94.1h0M78.8 99.7h0M135.6 91.9h0M84.8 104.2h0M98 98.3h0M81.5 112h0M117.6 94.6h0M81.8 94.6h0M80.5 102h0M86.5 93h0M92 103.2h0M107.9 93.1h0M81.5 98h0M80.6 97.3h0M107.3 95.6h0M104.3 90.9h0M88.9 96.4h0M79.9 92.8h0M87.4 98.4h0M117.8 94.5h0M91.6 101.3h0M104 92.5h0M148.4 90.6h0M109.4 94.6h0M88.2 97h0M77.5 93.3h0M75.4 98.3h0M101.2 91.4h0M79.7 98.8h0M117.7 96.3h0M117 89.6h0M76.9 92.6h0M95.6 96.7h0M106.1 90.6h0M75.3 109.9h0M107.9 96.4h0M139.4 91.7h0M82.3 92h0M141.1 95.1h0M86.5 102.8h0M153.6 91.2h0M94.2 91.1h0M119.2 98.4h0M79.3 98.8h0M125.7 89.9h0M91.8 95.1h0M115.1 106.6h0M111.1 95h0M114.2 94.3h0M104.6 98.5h0M91.5 95.6h0M80.7 95.7h0M81.4 98.6h0M134.7 93.4h0M81.5 103.2h0M105.4 89.7h0M94.7 91.7h0M77.2 92.4h0M95.3 91.4h0M85.2 105.6h0M139.3 89.6h0M99 93.2h0M93.1 97.3h0M84.3 104h0M116 92.6h0M100.9 96.4h0M109.3 90.5h0M78.2 95.1h0M89.9 100.7h0M95.4 96.1h0M88.7 110.1h0M85.4 92.8h0M81.2 94.3h0M120.3 93.7h0M95.7 91.5h0M79.8 94.1h0M144.6 90.5h0M111.3 92.3h0M77.2 100.4h0M79 92.2h0M125.2 90.7h0M81.8 101.9h0M116 96.9h0M78.5 97.4h0M75.1 93.8h0M83.2 100.1h0M78.4 103.1h0M90.1 114.5h0M86.5 94h0M93.9 95.3h0M118.1 92.3h0M77.7 94.2h0M104 104.5h0M78.9 93.1h0M100.8 94.4h0M116 89.8h0M100.3 92h0M137.3 92.1h0M98.7 95.3h0M80 99.8h0M117.8 91.8h0M76.7 103.7h0M121.5 90.3h0M89.4 94.7h0M77 105h0M90.8 97.1h0M119 95h0M87 100.9h0M96.3 93.5h0M122.9 89.6h0M149 90.4h0M151.1 90.4h0M121.7 93.1h0M116.2 93.1h0M75.1 100.8h0M151.8 90h0M89.2 102.9h0M149.1 91.6h0M107.8 98.4h0M105.9 91.3h0M83.1 101.4h0M90.2 91.9h0M92.3 101h0M84.3 92.1h0M87 101h0M95.1 90.5h0M115.4 92.2h0M86.9 100.6h0M129.4 91.6h0M102 101.2h0M85.6 100.3h0M92.4 94.8h0M87.7 101.7h0M138.2 92.5h0M99.4 90.6h0M97.3 95.2h0M91.4 93.3h0M127 93.4h0M123.9 90.4h0M131.8 92.3h0M114.3 93.1h0M118.8 96.1h0M86.8 98.5h0M76.2 95.4h0M102.5 98.2h0M135.4 97.7h0M84.6 93.5h0M133.8 91.1h0M124.4 94h0M86.6 91.8h0M99.7 93.5h0M144.9 94.9h0M149.8 91.6h0M88.9 94.1h0M82.5 95.4h0M145.9 91.2h0M89.9 101h0M95.6 103h0M82.9 92.7h0M79.7 100.5h0M96.4 98.2h0M85.9 98h0M75.8 99.3h0M75.4 98.1h0M92.2 91.1h0M117.1 94.3h0M111.2 90h0M116.5 90.5h0M109.9 90.6h0M146.5 91.1h0M84.8 100.9h0M89.4 96.3h0M76.4 98.2h0M109.1 97.4h0M101.4 93.2h0M88.8 94.9h0M94.9 101h0M79.6 106.6h0M85.2 95.2h0M107.7 93.2h0M92.5 104.1h0M136.5 91h0M86.6 92.7h0M77.1 102.5h0M92.7 92.1h0M130.7 95.1h0M143.3 92.1h0M134.5 90.6h0M79.1 92.8h0M96.5 102.6h0M78.5 98h0M75.1 93.8h0M78.6 99.3h0M96 94.2h0M101.2 92.5h0M101.9 100.1h0M81.9 101.9h0M92.2 91.2h0M148.1 90.7h0M91.4 106.4h0M90.1 98.6h0M87.4 98.1h0M78.3 100.4h0M79.5 94.2h0M114.5 94.4h0M89.7 92.3h0M144 91h0M91.6 97.7h0M94 96.4h0M115.4 96.5h0M96.9 94.7h0M132.7 91.1h0M97.6 93.6h0M123.9 93.5h0M76.1 96.6h0M117.4 102.9h0M116.7 95.6h0M83.1 91.6h0M82 99.9h0M86.1 101.5h0M113.3 94.7h0M82 100.8h0M101.4 93.2h0M80.3 102.2h0M99.4 92.8h0M88.7 93.9h0M117 96.7h0M131 91.1h0M106.4 90.7h0M140.6 92.8h0M105.9 89.6h0M97 97.2h0M138.9 90.4h0M110 91.9h0M76.2 115.1h0M123.2 94.7h0M86.5 94.1h0M140.1 91.1h0M102.2 104h0M96.5 91.8h0M140.6 90.9h0M148.4 92.1h0M83.4 97.8h0M76 97.2h0M90.2 93.7h0M111.2 90.5h0M79.8 95.8h0M87.1 97h0M150.5 91.7h0M133.8 89.8h0M87.2 104.7h0M123.7 93.4h0M84.6 107.7h0M104.7 97.7h0M110.1 91.7h0M119.5 91.7h0M98.1 91.9h0M83.1 100.9h0M87.2 91.6h0M85.5 107.3h0M118.9 92.5h0M84.1 95.1h0M92 99.9h0M76 92.8h0M126.8 89.8h0M91.3 106.9h0M83.7 99.5h0M114.7 97h0M94.3 94.8h0M98.6 90.7h0M101.2 90.9h0M122.4 92.7h0M91.1 92.1h0M86.9 94.5h0M112.4 95.2h0M107 90.2h0M84.1 91.9h0M134.3 89.6h0M85.8 96.4h0M109 96.4h0M111.4 96.8h0M87.8 101.2h0M148.5 90.3h0M137.5 94.4h0M96.2 98.8h0M82.8 110.7h0M78.9 101.1h0M81 97.3h0M84.2 97.1h0M81 98.2h0M82.5 96.6h0M98.8 92.2h0M103.5 97h0M142.1 90.8h0M75.6 97.9h0M76.4 94.7h0M129 94.2h0M84.1 95.9h0M131.2 91.7h0M84.6 104.3h0M106.5 93.2h0M99.2 95.5h0M77.5 100.8h0M81.2 102.4h0M104.6 89.8h0M142.6 90.8h0M150.6 91h0M78.2 94.1h0M85.8 99.6h0M85.7 96.3h0M88.2 98.7h0M132.5 90.4h0M122.5 92.1h0M75.3 96.6h0M89.8 100.6h0M131.1 93.4h0M83.7 105.6h0M94.6 93.3h0M93.4 91.7h0M101.6 92.3h0M96.5 101.9h0M140.7 91.5h0M98.9 93.2h0M157.1 91.3h0M94.4 95.6h0M97.9 98h0M106.6 89.8h0M149 92.3h0M78.1 104.9h0M75.5 106.5h0M111.5 97.2h0M98.5 100.3h0M80.2 96.1h0M123.2 96.7h0M83.5 99.4h0M114.7 95.9h0M75.8 99.9h0M108.6 91.5h0M90.2 99.1h0M87.5 100h0M132.9 91.2h0M136.1 93.6h0M79.5 92.2h0M75.9 95.6h0M122.6 91.6h0M93.6 94.1h0M100.7 92.9h0M102.4 91.5h0M88.2 98.9h0M96.1 91.8h0M84.6 98.8h0M113.4 90.5h0M141.1 93.5h0M87.1 99.8h0M79.3 101.4h0M151.6 90.1h0M83.4 105.2h0M87 96.3h0M81.1 101h0M159.2 89.8h0M85.1 99.5h0M76.3 95.7h0M96.7 95.6h0M107.6 92.2h0M120.8 100h0M79.3 99.8h0M88.3 91.3h0M92.4 92.1h0M80 93.3h0M81.1 91.9h0M84.3 94.6h0M83 93.3h0M102 98.1h0M95 101h0M85.7 92.1h0M76.8 109.9h0M125.2 98.5h0M94.4 101h0M108.7 91.4h0M77.4 95.2h0M118.8 96.6h0M87 98.1h0M100.4 92.8h0M87.2 99.3h0M107.6 91.1h0M113.1 93.9h0M78.3 95.3h0M84.6 100.9h0M79.5 102.5h0M122 89.8h0M92.3 104.7h0M86.8 100.4h0M157.5 94.1h0M86 92.4h0M137.3 91.3h0M113.6 92h0M136.4 90.8h0M148.6 89.9h0M82.1 92.2h0M83 103.6h0M98 90.9h0M115 92h0M79.1 104.9h0M118 90.7h0M76.6 100.7h0M93.4 108.8h0M95.5 98.5h0M124.9 94.6h0M113.9 95.6h0M101.8 94.9h0M82.7 113.1h0M130.6 92.8h0M98.2 92.9h0M125.2 92.4h0M121.4 98.2h0M153.2 90.9h0M86.5 93.4h0M88.9 100h0M92 95.2h0M143.9 94.5h0M116 91.1h0M106.1 92.8h0M83.8 93.5h0M81.2 95.2h0M121.7 91.1h0M89.8 106.3h0M144.9 90.2h0M93.6 96.3h0M75.4 100.7h0M75.5 95.8h0M148.2 89.6h0M84.6 91.5h0M85.8 95.1h0M120.8 89.9h0M107.3 94.3h0M87.5 91.2h0M92.2 106.9h0M79.9 93h0M144.7 93.6h0M136.4 90.2h0M119 98.6h0M81.2 96.7h0M103.7 90.3h0M82.9 100.3h0M120.6 97.4h0M111.6 94.1h0M108.8 99.5h0M105.9 95.1h0M89.6 97.9h0M79 95.7h0M90 95.9h0M113.4 102.3h0M115.2 98.4h0M96.8 95.1h0M97.9 90.5h0M79.3 99.8h0M110.8 91.2h0M117.6 93.3h0M157.5 90.2h0M100.1 92.7h0M90.1 116.7h0M96.8 98h0M133.3 91.1h0M82.1 95.6h0M77.9 93.6h0M99.2 90.4h0M94.7 97.9h0M145.1 90.3h0M131 92h0M88.5 94.1h0M100 98h0M101 96h0M89.4 112.3h0M83.4 109.7h0M90.1 94.4h0M77.1 92.3h0M95.3 96.4h0M142.1 93.4h0M107.6 90.4h0M92.9 91.2h0M86.2 93.4h0M103.9 91.3h0M92.4 98.6h0M79 92.3h0M123.7 91.5h0M79.6 103.4h0M108.8 102.1h0M127.6 98.7h0M76.7 102h0M87 99.7h0M139.7 91.4h0M106.8 92.5h0M92.6 94.4h0M110.5 99.3h0M89.9 108.7h0M105.9 93.5h0M105.9 91.1h0M97.8 90.2h0M104.7 92h0M111.1 105.1h0M99.1 95.9h0M120.2 94.2h0M75.5 100.5h0M77.3 109.2h0M132.8 94.9h0M134.6 90.5h0M85.1 95.8h0M120.1 92h0M102.8 94.4h0M107.7 93h0M130.9 92.4h0M101.9 91.3h0M93 98.5h0M82.1 104.7h0M105.3 91.8h0M75.7 114.1h0M86.7 110.8h0M81.6 92.5h0M143 92.4h0M77.5 99h0M89.8 93.3h0M88.4 94.6h0M119.6 91.8h0M134.8 90.4h0M101.2 97.8h0M138.6 94.2h0M84 106h0M84.6 97.1h0M75 104.2h0M78.8 104.5h0M128.8 90.4h0M141.1 93.7h0M89.7 100h0M88.9 106.8h0M117.6 93.7h0M106 101.1h0M86.9 91.2h0M80.4 103h0M147.6 90.9h0M119.2 92h0M116.4 96.3h0M128.8 94.6h0M88.5 96.4h0M129.6 91.5h0M98.3 91.8h0M79.2 96.8h0M90.9 94.2h0M77.8 95.7h0M126.7 95h0M78.2 99.3h0M85.5 100.2h0M94.5 103.7h0M97.1 96.8h0M85.3 92.8h0M132.5 91h0M103.1 101.2h0M119.5 93.1h0M87.8 96.9h0M87.3 91.5h0M89.6 96.5h0M87.3 98.9h0M99.2 97.7h0M92.7 106.8h0M97.1 98.4h0M106 92.8h0M86.1 96.1h0M79 107.5h0M81.3 91.8h0M96 98.8h0M92.8 91.1h0M142.7 91.7h0M79.9 97.3h0M112.4 90.3h0M114.9 102.2h0M88.6 97.7h0M96.9 90.8h0M98.4 103.5h0M99.1 98.2h0M80.5 103h0M151.2 90.9h0M94.7 92.1h0M144.7 89.6h0M138.3 93.8h0M83.9 102.9h0M126.7 94h0M83.1 93.2h0M134.6 89.7h0M84.3 95.1h0M92.4 99.4h0M156.8 90.8h0M112.1 91.4h0M77.6 95.3h0M102.1 96.2h0M94.8 94.5h0M91 95h0M108.1 91.4h0M104 94.1h0M89 93.7h0M100.2 108.4h0M105.6 95.5h0M83.6 96.2h0M90.7 92.3h0M131.4 91.8h0M131.1 91.4h0M96.6 99.1h0M76.6 94.8h0M77.5 99h0M92.7 100.9h0M138.4 89.9h0M104.8 91.8h0M114.3 89.8h0M99.7 92.1h0M76.3 93.2h0M87.1 102.7h0M96.8 90.7h0M82.4 97.1h0M137.6 94.6h0M90.8 94.4h0M135.8 93.7h0M93.5 96.9h0M105.5 95.9h0M116.3 103.2h0M103.1 91.6h0M90.1 93.7h0M84.7 92.1h0M96.8 91.2h0M150.1 90.2h0M88.3 103.8h0M84.8 93.4h0M122.5 93.4h0M90.9 91.4h0M137.5 93.9h0M92.6 91.7h0M152.6 89.5h0M76.1 101.1h0M129.4 90.7h0M89 94.6h0M104.6 100.7h0M127.1 90.7h0M129.6 89.6h0M84.1 91.7h0M86.1 91.2h0M115.5 90.2h0M96.7 100.7h0M123.8 91.1h0M103.3 93.6h0M108.7 90.1h0M88.8 96.3h0M90.5 96.9h0M123.4 92h0M106.9 94.3h0M79.6 104.8h0M126.5 90.7h0M85.7 94.3h0M101.8 91.6h0M87.3 108.2h0M126.3 91.4h0M85.9 101.4h0M75.5 96.2h0M83.2 98.2h0M95.8 91.6h0M141.8 89.9h0M88.7 108.4h0M86.8 92.7h0M83.8 97.6h0M79.7 97.6h0M82.3 91.5h0M96.9 99.9h0M88.5 104.9h0M122.6 90.9h0M90.6 103.1h0M105.5 95.2h0M98.9 91.9h0M155.2 90.4h0M109.7 100.9h0M155.7 92.1h0M76.3 94.2h0M103.4 94.3h0M141.5 91.6h0M115.5 94.8h0M82.9 97.9h0M82.7 98.1h0M120.9 93.4h0M79.6 93.6h0M81 97.1h0M133.6 89.9h0M78.7 104.9h0M80 104.3h0M84.1 92.3h0M90.3 99.8h0M93.8 97.3h0M157 90h0M83.3 111.4h0M79.6 97.9h0M144.9 90.2h0M109 99.7h0M78.9 96h0M131.6 90h0M122.5 92.5h0M94.6 101h0M126.4 99.5h0M93 95.4h0M135.1 96h0M88.3 93.7h0M104.1 97.2h0M78.1 93.6h0M147.5 90.6h0M78.2 100.6h0M120.1 90.5h0M75.6 105h0M96.4 101.5h0M86.9 99.7h0M76.1 98.7h0M76.6 95.5h0M80.4 106.5h0M83.7 91.9h0M80.9 102.3h0M107.4 95.1h0M80.2 110.4h0M75.1 104.1h0M95.1 115h0M79.1 103h0M143.1 89.6h0M119 91h0M100.1 93.9h0M101.6 90h0M134.9 94.5h0M95.2 101.7h0M86.4 91.8h0M113.6 95.9h0M106.2 95.5h0M101.6 95.1h0M84 99.1h0M88.9 91.7h0M79.9 93.8h0M99.5 90.9h0M153.1 90.5h0M127.6 96.2h0M88.3 91.7h0M104.9 94h0M108.5 90.1h0M90.6 95.6h0M139.3 92.5h0M79.7 115.4h0M83.7 102.3h0M125.6 94h0M113.6 90.8h0M105.6 97.2h0M113.7 93.8h0M100.2 97.7h0M127.3 91.6h0M95.5 92.1h0M95.2 99.2h0M91.6 94.9h0M93.4 97.2h0M78.5 95.8h0M75.6 93.8h0M97 97.5h0M108.2 92.6h0M75.6 97.3h0M151.6 91h0M98.2 92.3h0M89.5 106.9h0M142 91.7h0M85.2 91.7h0M133.9 95.3h0M98.5 94.1h0M134.2 91.3h0M148.7 90.2h0M108.3 91.9h0M121.5 92.2h0M77.3 93.3h0M123.7 97.3h0M115.5 93.7h0M98.7 103h0M110.5 98.3h0M78.9 100h0M85.6 95.9h0M123.5 92h0M90.5 94.8h0M106.5 92.7h0M137.1 92.8h0M82.4 93h0M89.7 98h0M109.5 94.4h0M111.1 93.5h0M112.6 90.4h0M79.9 93.7h0M105.4 92.2h0M110.6 94h0M101.8 90h0M86.9 102.2h0M131.4 91.2h0M96.4 95.1h0M81.7 93.3h0M83.9 95.7h0M89.9 101.6h0M94.1 98.4h0M98.8 99.9h0M95.5 98.2h0M85.7 101.5h0M117.4 90.4h0M92.8 91.2h0M155.1 90.5h0M91.5 93.5h0M102.7 96.9h0M83.6 94.9h0M117.3 93.9h0M104 100.1h0M96 90.5h0M77.6 92.4h0M139 91.7h0M104.5 91.8h0M87.7 96.6h0M87.2 99.5h0M132.5 95.1h0M119.3 95.2h0M79.5 100.6h0M76.7 95.8h0M102.8 94.2h0M138.9 92.5h0M85.3 95.9h0M126.8 90.3h0M85.9 93.4h0M144.6 92.4h0M91.3 98.5h0M156.3 89.8h0M83.2 95.3h0M135.6 94.6h0M117.4 90.6h0M87.3 91.6h0M76.6 96h0M110.1 91.8h0M96.2 94.1h0M85.5 97.4h0M114.6 96.3h0M101.4 95.8h0M79.3 108.6h0M82.1 92.1h0M98.9 98.6h0M104.8 91.5h0M98.4 105.2h0M76.6 92.9h0M89.2 92.3h0M80.7 104.2h0M80.1 101.2h0M87.9 98.5h0M79.2 103h0M117.9 91h0M81.2 100.4h0M114.8 90.8h0M81.7 95.9h0M94.1 95.7h0M104.7 94.2h0M104.7 99.3h0M78.4 101.3h0M89.8 105.6h0M128.6 93h0M103.4 91.7h0M79.6 103.3h0M85.9 105.3h0M89.4 100.4h0M94.4 93.9h0M120.3 90.1h0M133.7 91.7h0M89.1 107h0M80.8 92.7h0M92.2 102.7h0M90.6 99.4h0M97.8 101.4h0M136.9 91.1h0M101.6 94.9h0M125.6 92.7h0M118.7 92.8h0M94.1 98.8h0M105 98h0M91.7 93.1h0M134.7 97h0M88.5 95.6h0M76.5 95.2h0M136.4 93.8h0M103.7 91.1h0M94.5 93.5h0M79 93.2h0M80.5 97.7h0M135.8 94h0M118.6 91.1h0M75.4 93.5h0M85 92.2h0M103 93.5h0M129.4 92.3h0M125.9 94.1h0M93.8 96.6h0M131.5 89.9h0M117.2 92.4h0M99.7 100.8h0M134.2 94.5h0M117.7 97.8h0M97.2 102.4h0M102.9 94.4h0M75.3 104.2h0M99.9 96.7h0M145.2 90.9h0M121.3 93.1h0M139.1 96.7h0M113.7 102.6h0M76.7 94.7h0M106.2 91.3h0M89.4 91.5h0M78 102h0M142.4 92.4h0M88.6 94.2h0M109.2 99.1h0M123 100.2h0M139.7 91h0M90.7 92.6h0M80 115.1h0M141.5 93.6h0M84.3 91.7h0M86.8 92.9h0M77.2 99.8h0M116.4 90.3h0M105.5 94h0M124.1 91.8h0M118.2 90.8h0M98.1 98.1h0M87.7 99.5h0M95.7 110.9h0M83.3 120.4h0M114 120.1h0M111.2 107h0M82.8 102.1h0M107.8 126.2h0M79.9 99.4h0M90.7 103.6h0M101.5 100h0M112.5 103.3h0M115.3 103.2h0M88.6 100.6h0M117.9 110.1h0M111.7 99.6h0M99.1 115.2h0M118.7 123.9h0M79.6 104.1h0M119.3 108.4h0M117.5 101.8h0M76.1 124.3h0M86.7 109.1h0M91 109.7h0M116.5 124.3h0M113.9 101.8h0M111.5 99.5h0M93.5 124.2h0M86.3 104h0M100.8 101.5h0M106.5 112.2h0M79.2 123.1h0M78.2 113.8h0M90.5 100.3h0M78.5 126.8h0M110.5 106.2h0M110.3 125.4h0M116.1 108.3h0M87.2 107.9h0M118.6 115h0M104.7 119.6h0M93.2 109.1h0M112.7 100.9h0M113.1 99.5h0M98.8 109.6h0M81.5 123.2h0" stroke="#3d7fc6" stroke-width="1.4" stroke-linecap="round" fill="none"/>
<path d="M105.4 88.6h0M102 88.1h0M88.6 86.7h0M99.2 88.9h0M106.2 87.1h0M98.6 89.1h0M90.5 87.6h0M93.3 89.9h0M106 86.6h0M92.9 87.9h0M92.8 87.6h0M104.2 87.3h0M83 84.5h0M97.4 87.7h0M99.4 86.1h0M76 86.1h0M82.7 89.1h0M84.7 89.8h0M80.6 88.4h0M77.2 87.1h0M87.7 85.3h0M99 87.5h0M93.5 88.5h0M79.6 89.4h0M82.4 88.9h0M96 85.5h0M92.2 84.8h0M104 87.7h0M98 88h0M94.3 88.7h0M98.9 86.3h0M96.4 86.8h0M103.6 85.3h0M88.7 83.4h0M85.8 89.6h0M81 87.3h0M79.5 85.3h0M82.5 87.4h0M94.2 87.6h0M87.8 87.7h0M90 88.4h0M81.7 84h0M86.5 87.1h0M84.3 86h0M92 87.9h0M79.4 90.5h0M100.9 86.4h0M100.7 86.8h0M76.7 88.1h0M79.1 88.7h0M86.6 88.9h0M97.4 87.1h0M88.1 85.5h0M79.4 87.2h0M100.2 88h0M98.9 88.4h0M81.4 86.7h0M79.4 88h0M92.7 88.5h0M86.6 87.5h0M99 86.8h0M88.6 85.7h0M79.8 84.4h0M82.2 86.2h0M99.5 86.3h0M76 84.7h0M101.1 88h0M88.3 88h0M83.3 87.1h0M102.4 87.8h0M101.2 85.5h0M104 86.9h0M101.2 86.7h0M84.8 87.4h0M91.8 87.1h0M92.3 87.2h0M94.9 86.5h0M80.4 86.6h0M88.2 90.2h0M79.1 88.8h0M78.3 88.1h0M97.3 88.2h0M82.8 87.9h0M97.8 86.5h0M93.4 88h0M81.9 89.6h0M84.6 86.9h0M94 87.7h0M78.7 87.5h0M88 86.3h0M93.7 86.2h0M94.7 86.2h0M99.3 88.3h0M78.6 84.4h0M93.6 89.4h0M101 88.3h0M80 88h0M90.1 87.9h0M103.1 88.8h0M91.3 86.2h0M75.6 88h0M88.4 89.8h0M82.3 88.1h0M75.8 87.6h0M101.8 88h0M92.8 86.4h0M99.3 86.5h0M82 86.8h0M79.7 87.6h0M93.7 88.1h0M104 88.3h0M81.3 85.3h0M86.1 86.8h0M87.5 89.8h0M84 85.4h0M96.8 88.2h0M103.7 87.7h0M83 87.7h0M97 86.7h0M96.8 87.7h0M93.7 86.9h0M85.6 89.5h0M75 88.3h0M76.4 85.8h0M77.7 90.8h0M82 90.3h0M84.7 86.1h0M105.1 86h0M76.8 85.1h0M93.9 85.5h0M103.7 87.6h0M86.1 84.2h0M83.6 88.4h0M99.3 86.8h0M87.3 87.9h0M99.2 89.4h0M88.6 88.8h0M89.1 86.8h0M102.5 86.8h0M83.2 85h0M92.9 88.7h0M84.5 86.6h0M101 87.4h0M105.1 86.8h0M104.5 87.5h0M88.8 89.5h0M100.8 85.9h0M96.3 87.5h0M80.8 86.6h0M83.3 86.6h0M84.9 85.5h0M81.8 86.2h0M75.1 88.7h0M75.3 87.8h0M92.5 87.5h0M75.8 90h0M92 87h0M81.8 85h0M100.6 89.5h0M104.3 86.7h0M92.1 87.6h0M88 87.2h0M82.1 88.4h0M89.2 91.5h0M85.6 88.7h0M75.1 90.5h0M78 84.9h0M91.3 89.4h0M85.3 89.1h0M94.1 84.3h0M92.8 88.4h0M85.6 88.9h0M96.4 88.8h0M96.2 88.7h0M86.1 85.8h0M82.3 85.7h0M80.4 86.1h0M83.9 87.8h0M88.1 86.1h0M105.7 88.3h0M87.6 87.7h0M92.2 86.8h0M91.1 88.9h0M86 87h0M77.8 86.2h0M83.9 85.8h0M93 87.1h0M78.6 87.3h0M94.6 88.7h0M88.5 86.8h0M78.8 90h0M92.3 87.6h0M86.7 84.9h0M82 82.6h0M78.7 86.3h0M82.9 86.9h0M87.9 87.6h0M88.6 88.4h0M105.6 88.5h0M85 86.4h0M75.2 86.7h0M83.5 89.9h0M78.1 90.1h0M83.4 85.7h0M87.6 88.6h0M77.3 86.1h0M94.4 87.1h0M76.8 90.9h0M75.1 87.5h0M84 89.3h0M98.1 86.7h0M96.3 88.3h0M94.7 87h0M89.5 85.9h0M93.4 88h0M95.9 88.7h0M95.9 87.2h0M93.9 86.4h0M90.5 87.4h0M105.6 87h0M84.6 89.2h0M80.6 89h0M88.6 86.6h0M83.1 89.5h0M78.2 87.1h0M95.7 87.6h0M82.8 88.5h0M76.2 90.2h0M88 87h0M93.5 87.7h0M76.7 87.7h0M90.9 85.5h0M89 88.4h0M83.2 85.8h0M99 86.3h0M87.4 86.4h0M97.2 87h0M99.2 89.1h0M87.3 85.6h0M75.7 86.2h0M97.2 85.2h0M77.7 87.8h0M90.1 86.1h0M75.8 85.3h0M83.3 88.3h0M76 91.5h0M97.6 88.4h0M102 86.5h0M76.8 89.4h0M84.8 88.8h0M81.8 88.3h0M77.1 85.5h0M84.4 89.2h0M89.8 86.9h0M94.8 87.9h0M82.3 84.9h0M104.8 88.2h0M87 88.7h0M86 87.5h0M105 85h0M103.6 87.9h0M90.4 89h0M88.5 90h0M103.9 87.2h0M86.3 88.6h0M96.7 87h0M81.1 86.2h0M78.4 82h0M100.8 89.1h0M90.8 87.4h0M88.9 89.5h0M91.4 86.7h0M85.8 86.6h0M86.2 88h0M82.5 88.4h0M102.5 87h0M99.5 89.6h0M81.1 90.7h0M100.4 87.3h0M82.2 89.6h0M75.3 87.1h0M82.7 87.5h0M89.1 89.5h0M93 88.5h0M77.7 87.7h0M98.3 87.2h0M99.2 88.4h0M101 88h0M105.4 88.6h0M76.3 85.4h0M99.5 87.8h0M98.2 86.3h0M77.8 85.9h0M98 87.9h0M83.6 86h0M100.5 87.9h0M98.3 88.1h0M80.8 86.6h0M99.1 88.7h0M94.4 85.6h0M89.6 87.6h0M93.6 88.3h0M84.6 87.9h0M100.1 86.4h0M96.6 90h0M90.9 89h0M95.4 86.3h0M104.7 87.4h0M83.8 89h0M76.4 87h0M87.4 88.9h0M76.7 91.5h0M83.7 87.3h0M98.4 87.3h0M93.7 89.2h0M82.8 88.4h0M105.4 88.2h0M91.2 89.1h0M94.6 85.4h0M85.7 87.9h0M80.9 88.2h0M102.8 88.9h0M81.8 86.7h0M89.8 87.2h0M93.8 85.2h0M87.4 88.1h0M81.6 86.6h0M96.7 87.6h0M87.1 86.7h0M89.2 86h0M87.7 87.5h0M105.6 87.5h0M87.5 89h0M82.1 86.3h0M95.1 86.3h0M78.3 88.5h0M93.9 87.3h0M85.8 88.7h0M87.7 89.6h0M87 86.5h0M94.5 87h0M100.4 85.7h0M103.8 85.7h0M86.5 89.6h0M85.4 88h0M86.5 87.7h0M88.7 89h0M92.7 86.3h0M84.3 86.2h0M80.3 90.1h0M91.5 87.7h0M90.7 88.1h0M105.9 88h0M81.7 85.2h0M96.9 87.3h0M87 88.5h0M82.6 86.5h0M99.9 86.9h0M92.8 88.2h0M89.5 85.9h0M91.7 85.8h0M106.2 86.1h0M83.2 89.3h0M78.5 87.1h0M96.6 87.9h0M80.5 87.6h0M77.8 88h0M102.3 88.3h0M105.6 87.5h0M99.7 87.2h0M87.1 85.1h0M89.6 87.8h0M84.5 86.3h0M83.6 86.1h0M86.9 84.6h0M92.6 86.7h0M79.9 89.9h0M105 86.1h0M85.4 88.6h0M101.1 87.5h0M86.9 87.7h0M97 89.9h0M99.9 88h0M101.3 86.6h0M103.6 87.5h0M75.1 87.1h0M90.7 87.9h0M88.9 85.6h0M99.8 86.8h0M82 87.3h0M91.6 85.2h0M75.6 89h0M83.7 83.7h0M84.1 90.6h0M100.5 86.8h0M87.1 87.6h0M77 87.8h0M86.7 87.9h0M76.3 88.2h0M101.8 87.3h0M77.7 86.8h0M77.5 87.9h0M95.6 85.9h0M84 88.8h0M93.2 87.5h0M78.4 87.4h0M104 87.4h0M81.6 88.4h0M89 87.7h0M83.3 89.2h0M101.6 88.6h0M105.6 88.3h0M86.1 86.9h0M84.1 91.7h0M76.8 87.7h0M98.5 88h0M83.4 85.4h0M97.6 88.3h0M89.1 87.4h0M75.1 83.9h0M77.6 85h0M87.5 87.6h0M104.3 87.6h0M81.5 85.6h0M93.4 87.7h0M94 86.2h0M98.6 86.8h0M99.8 87.5h0M79 90.1h0M87.9 87.8h0M99.1 87.4h0M78.2 88.7h0M80.1 87.9h0M105 88.3h0M94.1 88.7h0M92.7 87.1h0M86.9 87.8h0M81.9 88.8h0M104 87.8h0M82.3 87.8h0M97.7 85.1h0M88.5 89h0M79.7 85.3h0M97.7 87.1h0M77.3 84h0M103.8 87.3h0M80 87.7h0M103.8 87.1h0M100.2 88.1h0M93.2 87.4h0M88 85.2h0M79.5 85.7h0M82.7 89.5h0M88.4 88h0M83.1 88.8h0M91.6 86.8h0M82.9 87.6h0M90.2 83.2h0M75.3 88h0M95.2 86.9h0M79.3 86.4h0M90.7 83.9h0M86.5 87.5h0M103.3 87.5h0M103.3 87.7h0M83.6 86.5h0M103.3 87.4h0M91.1 88.2h0M90.4 87.5h0M98.9 90h0M91.8 88.6h0M103.4 86.5h0M93.9 85.9h0M102.8 87.9h0M100.6 86.5h0M83 89.6h0M95.4 85.8h0M90.4 85.1h0M88.1 87.1h0M82.5 88.1h0M101.4 87.1h0M100.1 86h0M80.1 88h0M88.3 87.3h0M85.8 87.4h0M79.7 86.7h0M94.5 86.6h0M77.1 86h0M80.4 88.8h0M78.2 89.1h0M90.8 87.6h0M78.4 88.7h0M77.6 85.6h0M90.8 86.4h0M79.1 89.4h0M94.9 86.8h0M75.3 86.8h0M91.7 86.9h0M78.8 86.1h0M103.2 86.6h0M100.4 86.3h0M89.1 88.5h0M100.7 87.8h0M96.6 85.9h0M79.4 86.1h0M90.1 86.8h0M95.6 86.2h0M98.1 87.5h0M89.2 87h0M103.8 88.4h0M99.1 87.8h0M95.1 84.7h0M98.2 88.2h0M100.4 86.9h0M97.4 86.7h0M93.3 86h0M85.4 89.4h0M80.4 87.9h0M90.6 87.9h0M83.7 89.3h0M94.9 86.4h0M94.4 85.1h0M97.2 86.5h0M103.5 88.3h0M102.9 88.2h0M98.5 87.6h0M75.8 87.8h0M97.5 86.8h0M81.6 88.8h0M88.9 86.1h0M79.1 89.9h0M81.3 86.6h0M82.9 84.7h0M102.9 87.9h0M88.1 86.9h0M79.4 87.1h0M88.1 87.6h0M86.9 86.4h0M106.1 87.3h0M102 88.9h0M103.6 86.6h0M102 87.6h0M91.1 89.1h0M97.5 89.7h0M80.7 90.2h0M103.3 87.4h0M101.7 88.3h0M84 89h0M105.5 86.8h0M82.6 86h0M103.9 88.3h0M84.4 89.1h0M102.8 88.9h0M97 86.6h0M92.4 88.9h0M81 92.1h0M104.8 87.6h0M76.3 87.9h0M101.5 86.8h0M80.7 87.3h0M85.7 88.4h0M105.6 86.7h0M83.6 85.9h0M98.8 86h0M83.1 86.4h0M105.1 87.9h0M75.9 84.8h0M104.5 88.5h0M98.4 89.1h0M76.9 87.5h0M81.3 89.1h0M103 87.8h0M77.3 88.9h0M95.4 86.6h0M76.5 86.9h0M80.4 87.4h0M106 87.9h0M83.8 86.6h0M95.2 89.2h0M94 86h0M104 86.3h0M91.7 87.2h0M83 86.7h0M105.6 87.6h0M91.5 86.4h0M76.1 86.6h0M84.7 90.1h0M75.9 84.5h0M99 88.5h0M81.6 85h0M76 88.2h0M105.9 87.5h0M103 87.9h0M93.8 87.6h0M81.7 87.7h0M99.9 86.8h0M77.2 87.3h0M93.3 86h0M89.2 85.5h0M99.6 85.2h0M81 89.8h0M86.5 87h0M104.5 88.1h0M85.6 88.2h0M97.7 88h0M83.9 89.7h0M101 86.7h0M79.4 86.8h0M99.1 86.8h0M96.2 87.8h0M82.4 90.4h0M90.6 86.1h0M93.9 87.4h0M83.2 87.1h0M88.9 88.3h0M96.5 87.1h0M87.6 85.3h0M76.5 85.2h0M100.9 86.6h0M96.4 86.3h0M99.5 88.5h0M101.4 88.3h0M80.1 88.6h0M82.4 86.7h0M87.3 87h0M84.2 90.2h0M83.5 88.6h0M103.1 87.1h0M93.5 88.1h0M81.2 86.3h0M81.4 86.9h0M75.2 83.9h0M102.2 87.1h0M102.2 87.2h0M102 87.3h0M86.8 88.7h0M91.7 85.7h0M85.4 86.9h0M97.4 87h0M103.5 86.8h0M91.5 87.2h0M83.4 89.3h0M83.3 87.3h0M78.7 90.3h0M79.4 85.8h0M91.9 86.8h0M85.9 89.2h0M104.2 86.9h0M84.4 92.7h0M90.2 89.9h0M94.5 86.7h0M92.3 90.1h0M86.1 87.7h0M79.1 86.8h0M78 86.1h0M105.7 88.6h0M89.3 88.2h0M91.4 87h0M88.2 84.4h0M87.8 87.5h0M106.4 88.8h0M90.1 89.6h0M88.4 86.2h0M81.4 88.8h0M83.1 87.2h0M99.3 88.2h0M84.5 85.6h0M78.6 86.8h0M97.2 89.2h0M94.2 86.7h0M101.2 86.4h0M99.7 88.5h0M80.4 88.7h0M76.7 87.2h0M83 87.7h0M87.6 88.1h0M102.3 88.7h0M104.2 87.5h0M78.8 86h0M85.4 84.2h0M93.1 85.5h0M90.4 84.6h0M82.7 86.1h0M99.2 87.2h0M79.3 86h0M91.8 87.7h0M97.5 86h0M82.1 86h0M87.6 86.1h0M89.1 88h0M78.9 86.6h0M97.9 88.4h0M95.1 88.7h0M91.1 86.4h0M91.8 84.7h0M89.4 87.5h0M105.8 86.7h0M87.8 87.1h0M93.8 88h0M83.5 87.3h0" stroke="#d9dcdc" stroke-width="1.3" stroke-linecap="round" fill="none"/>
<path d="M113.9 89.3h0M108.9 87.8h0M118.8 89.8h0M131.6 88.5h0M124.2 88.7h0M125.9 93.6h0M123.6 90.8h0M134.9 89.8h0M112.2 91.5h0M129.2 89.7h0M120.4 86.8h0M125.7 90.1h0M132.1 88.8h0M124.5 89h0M129.5 90.7h0M129 89h0M127.4 90.4h0M111.6 89.4h0M113.7 86.8h0M127.1 93.9h0M125.4 87.3h0M128.8 90.7h0M111.6 87.2h0M128.6 89.8h0M108.9 94.4h0M121.8 91.7h0M113.2 88.7h0M128.9 93.5h0M113.3 86.4h0M119 90.7h0M125.2 92.2h0M108.3 89.8h0M133.6 88.4h0M119.4 87.6h0M115.7 92.9h0M104.2 95.3h0M141.4 89.1h0M122.6 93.5h0M121.7 93.4h0M123 89.9h0M129 89.5h0M130.5 89.6h0M115.2 91.2h0M125.3 91.5h0M127.8 90.3h0M111 92.4h0M118.1 85.7h0M126.4 89.9h0M111.2 84.5h0M116.9 89.9h0M115.6 86.5h0M121 90.9h0M121.1 92.1h0M109.8 90.4h0M130.1 87.5h0M112 90.4h0M114.5 85h0M123.2 91.3h0M107.8 90.7h0M140.1 90.1h0M119 91.1h0M126.6 85.1h0M129.9 87.3h0M109.7 86.8h0M119.7 87h0M129 88.8h0M120.5 89.6h0M134.2 88.4h0M124.7 92.1h0M121.2 85.5h0M125.4 88.7h0M119.7 93.4h0M127.5 89.1h0M122.6 94.8h0M123.1 90.1h0M119.4 91.6h0M115.6 87.8h0M122.7 90h0M115 89.4h0M130.2 89.9h0M116.1 92.9h0M120.3 92h0M106.3 87.2h0M125.5 91h0M128.2 92.3h0M110.9 91.2h0M116 90.3h0M125.9 88.9h0M121.5 89.4h0M116.3 94h0M114.7 91.1h0M116.4 94.6h0M114.5 91.2h0M110.9 91.1h0M118.8 88.6h0M128 91.9h0M124.6 90.4h0M118.4 87h0M126.7 89.3h0M109.1 90.8h0M129.6 91.1h0M111.4 92.8h0M121.3 92h0M119.5 89.6h0M114.8 88.5h0M123.6 90.5h0M115.3 86.9h0M120.8 88.1h0M119.7 91.1h0M123.6 88.3h0M119.5 89.8h0M127.6 91.4h0M123.9 90.1h0M121 88h0M106.5 87.6h0M119.5 87.8h0M113.4 88.5h0M135.9 89.4h0M116.4 93.2h0M119.3 88.4h0M124.9 92.1h0M110 92.7h0M110.1 90.7h0M121.8 85.7h0M121.2 86.7h0M104.3 89.7h0M113.8 90.9h0M124.5 87.5h0M134.1 91.9h0M113.2 89.6h0M128.4 87.3h0M129.1 89.5h0M124 90.4h0M132.4 91.1h0M110.8 87h0M107.1 91.8h0M118.2 89.8h0M124.6 88.2h0M123.4 87.6h0M110.6 88.2h0M122.8 92.1h0M113.2 88.7h0M120.1 92.8h0M114.3 85.9h0M127.1 89.8h0M131.7 91.3h0M117.8 87.6h0M116.3 92.7h0M124.8 86.7h0M115.9 83.3h0M113.2 89.8h0M113 92.6h0M115.2 89.4h0M135.4 89.5h0M133.7 91.5h0M120.1 90.9h0M136 89.9h0M118.2 86.3h0M120 90.2h0M121.1 92.6h0M121.5 90.3h0M123.5 90.7h0M119.8 88.7h0M128.2 91.1h0M128.3 91.7h0M117.7 89.6h0M120.7 95.5h0M110.5 90.4h0M127.8 91.2h0M133.2 92.6h0M120.1 88.7h0M119.6 89.3h0M127.9 91.4h0M124.8 87.8h0M117.3 95.6h0M108.5 92.5h0M109.7 88.6h0M112 83h0M124.6 92.5h0M116.8 86.1h0M125.6 91.9h0M128.9 90.7h0M139.6 90.5h0M124.9 88.8h0M115.3 90.3h0M130 89.1h0M118.8 88.9h0M135.4 88.6h0M123.8 89.2h0M133.8 87.8h0M108.8 85.6h0M122.9 90h0M124.7 90.6h0M119.5 87.4h0M135.6 92.3h0M111.1 88h0M128 90.8h0M120.3 90.3h0M140.2 90.1h0M108.5 94.6h0M107.7 90.7h0M117.7 88.9h0M115.4 89.8h0M124.4 92.6h0M118.5 92.6h0M122 87.7h0M130.8 91.3h0M117.5 87h0M122.9 90h0M111.7 87.9h0M118.8 85.9h0M123.6 90.6h0M118.5 91h0M120.7 92.6h0M122.4 89.6h0M113.6 91.4h0M132.1 89.7h0M132.1 88.4h0M129.1 89h0M114.8 88.8h0M120.6 87.9h0M123.6 88h0M117.9 90h0M117 93h0M118.3 87.3h0M126.4 91.5h0M122.1 88.3h0M107 89.1h0M121.3 90.2h0M132.5 85.9h0M114.6 89h0M115.8 88.8h0M131.9 90h0M124.1 88.9h0M128.1 88.1h0M106.4 94.3h0M144.2 89.7h0M118.8 88h0M122.4 90.7h0M124.6 94.1h0M107.7 91.5h0M109.4 92.5h0M120.9 92.6h0M124.4 88.9h0M117.2 90.7h0M124.9 89h0M122.7 92.5h0M138.1 89.8h0M131.3 88.9h0M112.4 93.3h0M124.3 87h0M118.3 88.6h0M130.5 90.7h0M128.8 90h0M117.6 92.1h0M119 93.5h0M109.4 94h0M122.1 90.3h0M126.3 92.3h0M118.7 89.2h0M134.9 91.2h0M119.4 90h0M137 87.4h0M106.8 85.9h0M125.1 86h0M122.2 90.8h0M111.8 93.9h0M124.4 88.9h0M126.8 89.2h0M124.6 89h0M119.3 89.3h0M111.7 92.8h0M129.9 90.9h0M128.5 90.9h0M111.9 90.2h0M124.2 88h0M119.5 88.8h0M131.6 91.7h0M118.8 86.3h0M112.5 89.3h0M120.6 90.8h0M107.5 90.7h0M119.4 94.2h0M124.7 90.4h0M117.7 86.1h0M133.5 90.8h0M117.9 91.4h0M109.1 94.2h0M128.2 88.8h0M122.5 91.8h0M130.9 87.3h0M119.1 90.2h0M130.3 89.1h0M131.7 90.5h0M122.5 90.6h0M114.2 90.7h0M116.8 88.7h0M116.6 89.7h0M112 93.3h0M132.5 91.4h0M136 88.7h0M113.6 86.2h0M126.5 87.3h0M143 92.1h0M114.5 92.3h0M119.8 91.8h0M107 90.4h0M128.9 90.2h0M112.9 88.2h0M128.3 90.3h0M116.5 90.8h0M143.9 90.1h0M135.2 90.1h0M123.1 94.2h0M121 89.8h0M116.5 90.9h0M107.1 91.8h0M109.7 88h0M132.4 89h0M125.2 88.4h0M109.8 94.6h0M118.4 92.3h0M119.8 90.4h0M118.8 90.3h0M121.5 85h0M118.9 90.7h0M114.9 88.6h0M113.4 88.6h0M106.8 90h0M112.1 88.1h0M109.4 89.7h0M112 88.5h0M136.1 88.6h0M115.2 92.7h0M114.1 92.5h0M130.4 91.8h0M117.1 90h0M126 90.8h0M112 84.3h0M111.8 87.7h0M118 91.1h0M119 90.5h0M122.2 95.4h0M119.2 89.7h0M110.6 91h0M140.5 88h0M125.2 89.4h0M116.7 86.4h0M115.4 92h0M125.7 91.8h0M112.3 85.9h0M104.9 84.3h0M120.3 91.9h0M108.6 88.8h0M121.1 88.2h0M114.2 97h0M123.6 88.9h0M131.8 88h0M123.9 90h0M114 89.5h0M125.1 94.6h0M117 93h0M127 93h0M109.9 93.1h0M123.1 88.2h0M111 84.8h0M120.9 91.8h0M122.6 89.9h0M127 89.3h0M139.4 88.6h0M113.6 87.8h0M126.4 91.8h0M112.6 92.1h0M125.2 92.2h0M117.7 89h0M123.4 93.7h0M118.7 90.7h0M120.7 88.8h0M117.4 89.3h0M117.5 90.7h0M115.2 90.1h0M129.1 89.8h0M109.5 92.5h0M124 91.6h0M118.4 88.4h0M117.7 87.8h0M128 91.6h0M131.3 87.5h0M122.8 93.2h0M135.3 90.4h0M128.8 90.8h0M129.8 90.4h0M132.9 91.9h0M127.1 90.4h0M129.3 92.5h0M114.2 91.5h0M111.4 88.7h0M121.7 89.1h0M124.1 88.7h0M131.8 91.8h0M136.4 89.8h0M126.3 89.5h0M124.1 91h0M108.3 90h0M136.3 90.5h0M110.7 93.2h0M110.9 91.1h0M120.9 93.5h0M136.2 91.2h0M128.8 87.3h0M127.8 88.7h0M112.7 92.2h0M127.4 89.9h0M125.7 87.8h0M129.6 94.2h0M118 85.1h0M115 85.2h0M113.4 88.5h0M120.1 85.2h0M116.6 92.5h0M110.8 92.7h0M123.2 88.3h0M128.6 90h0M124.1 88h0M110.6 88.2h0M114 91.8h0M115.9 89h0M113.9 92h0M110 90.5h0M122.8 92.5h0M120.3 89.3h0M113.7 89h0M126.7 89.5h0M113 90.4h0M117.6 86.5h0M126.6 90.8h0M119.5 95.4h0M123.1 92h0M126.9 91.9h0M124.7 85.8h0M124.6 91.6h0M115.3 90.3h0M125.2 86.4h0M112.2 92.7h0M128.1 91.1h0M117.4 85.9h0M122.5 88.4h0M129.6 89.5h0M119.6 88.1h0M131 93.8h0M117.9 90h0M129.7 90.4h0M121.1 90.4h0M124.8 91.9h0M121.4 87.7h0M130.3 88.9h0M122.2 86.6h0M125.9 87.2h0M108.6 93.1h0M126.8 90.4h0M115.6 92.3h0M133 91.7h0M120.5 93h0M117.9 84.6h0M141.6 90.4h0M110.4 85.3h0M111.8 94.8h0M122.7 92.2h0M106.4 86.4h0M114.8 87h0M120.3 86.3h0M129.6 86.9h0M129.5 89.8h0M124.3 89.8h0M105.5 93.3h0M112.7 86.8h0M115.9 92.7h0M116.9 93.2h0M126.8 87.7h0M128.6 87.2h0M112.6 92.4h0M117.1 89h0M121.7 94.3h0M114.8 88.8h0M115 89.9h0M123.1 91h0M113.7 87.1h0M117.9 92.6h0M113.4 84.7h0M111.9 88.1h0M121.2 87.4h0M117 92.2h0M113.7 92.6h0M143 89.7h0M116.6 86.8h0M125.5 90.3h0M125.2 89.4h0M129.7 87.1h0M116.7 90h0M117.9 87h0M123 88.3h0M127.7 91h0M120.7 86.8h0M127.9 88.5h0M117 90.8h0M111.8 90.6h0M119 93.2h0M130.1 91.2h0M121.8 88.6h0M114.6 94.6h0M128.3 89.2h0M117.3 87.2h0M127.6 91.6h0M118.8 94h0M117.2 86.5h0M112 87.6h0M105.9 90.8h0M122.3 91h0M112.5 84.9h0M128.2 90.1h0M121.8 90.1h0M125.4 90.3h0M134.7 89.4h0M127.6 87.3h0M124.2 89.9h0M117 89.1h0M111 89.4h0M118.6 92.7h0M136.8 90.4h0M129.2 86.5h0M128.8 91.3h0M113.8 90.2h0M116.6 88.3h0M123.6 87.2h0M112.3 85.6h0M103.9 92.7h0M125.7 91.8h0M114.8 91.4h0M116.3 92.4h0M117.2 93.2h0M124.4 88.6h0M119.4 90.3h0M111.5 92.5h0M117.6 92.1h0M109 89.4h0M119.4 90.8h0M112.2 90h0M113.3 91h0M121.2 88.3h0M126.3 91h0M130.4 91.8h0M118 86.8h0M140.9 89.8h0M116.3 90.8h0M108.7 90.3h0M115.7 91.8h0M130.3 91.2h0M134.7 88.8h0M125.3 91h0M115 95h0M122 90.5h0M123 91.3h0M123.9 92.9h0M123.7 84.6h0M118.6 93.4h0M112.7 91.3h0M111.2 93.3h0M119.5 89.5h0M126.4 87.8h0M115.2 92.8h0M107.1 92h0M127.9 90.6h0M120.2 90h0M136.6 87.6h0M122.8 88.6h0M127.5 90.7h0M126.4 90.3h0M115.3 87.9h0M119.6 86.5h0M130 89.9h0M142.7 90.2h0M114 90.5h0M111.6 91h0M118.8 87.8h0M116.3 92.1h0M125.1 88.6h0M118.6 93h0M124 88.7h0M117.8 89.8h0M129.1 89.4h0M132.3 87.5h0M130 87.9h0M121.6 91.8h0M111.9 95.8h0M135.8 90.1h0M142.4 90.3h0M128.4 91h0M131.7 88.1h0M109.9 86.2h0M145 90.1h0M108.6 89.1h0M115.8 93.6h0M110 89.2h0M105.8 92.4h0M120.4 91.7h0M113.6 93.2h0M122.5 93.8h0M109.2 90.4h0M126.7 89.5h0M123.5 87.1h0M134.8 85.5h0M115.5 90.2h0M122.6 89.9h0M130.3 88.6h0M120.1 93.4h0M121.8 89.3h0M123.3 90.4h0M122.9 89.2h0M122.4 88.5h0M125.4 93.5h0M114.8 91.7h0M121 90.8h0M141.4 89.1h0M123.1 85.2h0M119.5 90.6h0M130.5 88.6h0M127.7 87.7h0M116.3 91.5h0M113.1 89.6h0M128.4 91.8h0M114.7 93.4h0M137.3 88.9h0M121.4 92.6h0M110.3 91.7h0M119.8 92.8h0M117.5 87h0M119.6 89.7h0M117 89.1h0M130.1 91.9h0M113.3 93.1h0M122.1 91.6h0M122.4 93.1h0M124.6 88.8h0M116 87.7h0M111.7 89.8h0M134.5 89.9h0M109.5 86.6h0M124.3 90.5h0M122.1 91.7h0M129.7 87.4h0M112 88.6h0M122.8 86.7h0M111.5 88.7h0M127.3 88.7h0M119.7 90.7h0M124.3 91h0M120.1 91.3h0M111.6 89.8h0M133.5 90.1h0M121.2 87.9h0M117.4 88h0M117.7 91.2h0M132.6 90.4h0M116.5 90.2h0M117.4 87.4h0M124.5 90h0M116.3 90.5h0M134.5 90.3h0M125.3 93h0M122.3 88.4h0M130.8 89.4h0M124.6 89.3h0M128.9 86.4h0M121.3 91.7h0M124.8 90.1h0M125.2 88.4h0M120.8 90.9h0M122.2 92.6h0M121.9 91.8h0M123.5 89.7h0M117.6 92.8h0M119.9 91.5h0M118.2 88.3h0M127.9 92.2h0M127.8 87.5h0M129.5 89.4h0M118.7 85.8h0M116.7 93.7h0M120.3 89.3h0M110.3 93.4h0M137 89.8h0M126.4 91h0M117.8 91.7h0M110.4 89.5h0M108.7 86.2h0M121.8 91.6h0M123.7 91.1h0M123.4 91.2h0M133.6 88.7h0M112.7 89.1h0M115.4 94.2h0M117.9 89.4h0M110.4 86.2h0M139.9 91.1h0M110.9 90.7h0M123.1 91.9h0M115.4 86.9h0M110.7 89.8h0M107.4 83h0M142.5 91.2h0M113.3 89.5h0M123.2 90.9h0M119.1 87.2h0M120.9 93.1h0M122.8 90.4h0M119.6 90.3h0M111.3 92.4h0M128 89.1h0M110.2 95h0M129.2 88.9h0M120.7 91h0M136.5 91.8h0M115.9 88.4h0M123.4 88.7h0M126.5 94.4h0M111.2 93.7h0M125.4 87.8h0M119.4 88.7h0M120.1 89.5h0M115.1 90.9h0M130.2 90.3h0M119 87.1h0M128.3 90.6h0M121.7 92h0M120.6 89.2h0M119.4 89.5h0M122.7 95.1h0M112 89.7h0M115 92.3h0M117.3 86h0M117.3 91.4h0M115.1 92.9h0M123.8 91.9h0M127.6 88.3h0M124.6 87.9h0M118.6 93.9h0M118.8 88.4h0M105.4 90.4h0M113.4 90.3h0M118.3 89.4h0M124.8 91.9h0M131.5 86.6h0M121.9 85.4h0M131.8 87.8h0M115.4 86.6h0M120.9 90.4h0M122 93h0M120.3 91.2h0M129.1 88.8h0M108.3 92.8h0M124.6 87.5h0M126.3 90.2h0M129.4 93.9h0M114.8 92.4h0M110.4 88.3h0M122 89.3h0M118.3 88.4h0M126.5 91h0M127.8 91.6h0M135.2 91.7h0M117 92.6h0M119.9 86.9h0M112.8 85.1h0M132.1 89.3h0M114.3 87.5h0M112.5 94.3h0M137.6 88.4h0M116.3 91.5h0M117 89.2h0M109.1 89.4h0M115.4 93h0M126.4 88.3h0M124.8 89.4h0M128.4 90.1h0M125.9 88.3h0M131.2 89.1h0M120.3 88.3h0M105.7 95.5h0M116.7 93.2h0M109.8 89.7h0M128 89.8h0M111.1 90.3h0M127.8 90h0M128.9 92.6h0M122.4 92.3h0M119.5 89.8h0M120.9 92.4h0M120 84.7h0M113.5 92.6h0M125.4 87.3h0M128.9 91h0M118.7 89.4h0M117.5 88.9h0M129.3 88.9h0M119.3 90.3h0M135.7 91.5h0M137.6 89h0M120.2 91.6h0M136.1 88.3h0M127.7 86.1h0M129.5 89.3h0M120.3 88.8h0M120.1 86.1h0M115 90.5h0M118.6 89h0M133.3 91h0M123.5 89.5h0M126.2 88.9h0M131.5 91.5h0M113.1 89.4h0M108.2 93.6h0M114.3 89.8h0M119.2 92.4h0M126.7 92.3h0M131.2 90.5h0M105.2 84.1h0M132 86.6h0M127.6 87.4h0M113.9 86.4h0M115.4 90h0M107 85.4h0M126.6 90.9h0M120.8 91.6h0M116.8 90.3h0M138.2 91.4h0M109 88.6h0M110.4 92.9h0M122.4 92.3h0M131.9 88.9h0M114.2 90.4h0M113.1 85.7h0M120.1 89.6h0M111.2 85.3h0M118.9 91.7h0M133.5 89.5h0M115.2 87.5h0M114.2 90.3h0M128.3 92.1h0M117.4 90.1h0M122.5 92.3h0M108.6 90.9h0M110.6 89.6h0M118.1 89.6h0M120.7 92.5h0M115.6 89.5h0M130.6 89.5h0M119.5 85.1h0M114.9 86.4h0M125.1 92.4h0M118.8 88.1h0M108.2 92.7h0M123 91.6h0M133.8 91.2h0M134.6 90.4h0M110.7 87.7h0M120 90.7h0M107.8 90.9h0M112.5 86.7h0M118.6 92.3h0M111.1 95.6h0M111.7 87.4h0M121.2 90.4h0M128.4 90.5h0M115 86.8h0M117.9 90.2h0M109.9 87h0M121 90.8h0M117.7 86.6h0M117.9 90.5h0M120 89.9h0M127.8 90.6h0M114.8 92h0M120.1 93.2h0M113.8 94.4h0M117.7 90.6h0M116.7 91.5h0M110.5 89.5h0M123.3 91.1h0M118.8 90.1h0M124 91.9h0M109 88.9h0M114.7 88.5h0M114.8 93.4h0M126.3 89.4h0M126.3 90.6h0M116.1 86.7h0M135.5 89.2h0M124.2 88.8h0M128.2 90.5h0M132.9 89.5h0M117.1 88.7h0M120.1 90.4h0M124 91.7h0M123.1 90.7h0M107.7 87.8h0M107.1 86.5h0M136.6 90.6h0M104.6 90.4h0M118.1 90.3h0M134.4 89.9h0M132.3 89.9h0M113.9 88.1h0M128.6 94.3h0M115.1 88.5h0M129.2 89.9h0M111.9 89h0M115.3 97.3h0M122.9 93.3h0M127.2 86.8h0M116.6 91.2h0M130.3 90.5h0M118.6 89.7h0M110.9 90.4h0M119.5 91.8h0M139.5 88.9h0M120.3 89.2h0M115.4 89.8h0M127.1 92.7h0M107.6 89.4h0M108.9 89.8h0M120.9 91.9h0M133.2 91.5h0M129.2 92.6h0M133.2 87.5h0M113.5 91.8h0M125.2 92.4h0M124.5 87.4h0M121.8 89.2h0M117.9 87.4h0M111.8 85.4h0M119.2 90.7h0M132.8 87.9h0M130 91.8h0M121.6 87.3h0M110.6 90.2h0M109.2 89.7h0M132.3 90.2h0M139.4 90.3h0M126.4 86.9h0M110.2 87.2h0M105.4 92h0M115.5 92.2h0M121.6 92.5h0M128.3 91.3h0M108.8 94.4h0M126.5 91.1h0M128.6 90.1h0M116.9 94.6h0M113.1 87.7h0M113.7 88.1h0M104.1 86.5h0M135.7 90.1h0M107.1 91.5h0M121.1 94.5h0M111.4 87.6h0M120.8 88.2h0M127.3 92.1h0M106.9 88.4h0M128.1 89.9h0M114.1 90.7h0M111.5 90.6h0M118.2 85.9h0M109.6 86.2h0M119.4 92.2h0M136.8 89.4h0M107.8 91.2h0M113.3 86.2h0M116.9 94.5h0M130.5 88.1h0M111.8 86h0M120.2 92.5h0M125.7 89.4h0M115.1 88.6h0M112.8 89.9h0M122 88.5h0M123.9 94.8h0M115.4 88.9h0M126.1 91.9h0M128.9 91.5h0M130.3 89.6h0M121.6 93h0M112.3 89.3h0M121.6 90.3h0M116.4 86.4h0M113 88.4h0M127.4 89.2h0M120.8 92.7h0M134.6 87.9h0M111.1 92.4h0M110.1 94.2h0M118.5 92.3h0M119.6 88.9h0M112.7 93.4h0M127.2 88.2h0M117.5 92.2h0M123.2 89.4h0M127.8 89.6h0M113.6 92.1h0M120.5 93.4h0M111.9 87.5h0M126.5 88.8h0M131.7 90.4h0M113.5 89.6h0M127.2 91.8h0M136.6 88.3h0M107.7 91.9h0M121 95.3h0M125 88.2h0M124.4 88.6h0M136.2 90.4h0M129.5 87.4h0M124 93.6h0M117.9 90.6h0M119.3 86.7h0M140.1 89.1h0M117.4 92.8h0M117 89.1h0M104.4 91.8h0M130.8 88.4h0M122.5 85.5h0M117.3 91.2h0M129.7 91.5h0M114.1 88.2h0M119.2 87.1h0M107.6 91h0M123.2 92.1h0M129.2 87h0M114.1 94.2h0M105.1 90.9h0M124.2 90.9h0M114.5 88.5h0M120.3 88.6h0M129.7 91.8h0M122.3 87.2h0M120.3 89.9h0M123.4 88.8h0M121.2 91h0M122.7 91.2h0M120.7 90.3h0M141 88.7h0M131 88.7h0M119.8 92.6h0M123.4 90.7h0M115.7 95.5h0M133.8 91.6h0M109.2 88.5h0M124.7 91.5h0M119.3 89.3h0M120.8 88.7h0M126.6 90.6h0M139.5 90.4h0M121.2 91.1h0M125.1 87.9h0M116.3 87.9h0M118.2 84.9h0M125.2 86.8h0M126.8 91.2h0M115.1 88.5h0M110.9 86.2h0M118.2 84.6h0M112 93h0M129.4 90.3h0M106 92h0M104.9 88.9h0M121.3 90.9h0M118.2 88.4h0M111.6 85.3h0M119 91.3h0M122 92.6h0M125 87.2h0M132.9 89.6h0M114.3 93.5h0M124.9 93.4h0M107.3 94h0M132.3 90.7h0M124.1 89.2h0M114.4 91.7h0M126.3 90.5h0M108.5 89.6h0M126.7 90.5h0M131 91.6h0M110 89.9h0M107.8 89.1h0M132.6 88.3h0M128.3 90.9h0M126.9 88.3h0M108.6 88.7h0M140.4 90.1h0M116.5 90.6h0M121.7 90.3h0M129.5 88.2h0M124.5 86.7h0M117.2 91.3h0M135.9 90.2h0M122.3 90.2h0M115.8 92.7h0M129.8 90.6h0M123.6 91h0M120.8 90.9h0M120.1 90.1h0M113.1 88.7h0M117.7 92.3h0M109.6 88.6h0M131.7 92h0M115.5 88.7h0M129.1 88.6h0M108.4 89.8h0M127.7 89.5h0M117.3 92.9h0M120.9 90.1h0M119.7 86.4h0M130.4 91.3h0M121.5 90.6h0M120.3 86.1h0M127.9 89.8h0M113.3 90.4h0M122.8 91h0M129.6 89.9h0M108.4 83.7h0M124.2 89.6h0M117.1 91.1h0M121.9 90.3h0M129.8 91.7h0M125.9 90.7h0M116.8 91.1h0M127 90.2h0M123.7 87.8h0M124.3 90.6h0M112 86.7h0M121.5 89.9h0M115.7 92.6h0M116.2 91.7h0M114.7 89.8h0M128.5 87.4h0M115.8 93.1h0M118.8 95.8h0M119.9 86.3h0M121.9 91.5h0M126 90.9h0M131.2 90.5h0M138.3 90.3h0M121.2 92h0M107.5 88.8h0M129.3 90.9h0M118.7 89h0M126.1 87.5h0M122.9 91.5h0M113 88.9h0M108.3 87.6h0M123.6 88.7h0M120.1 89.2h0M115.4 92h0M114.3 92.4h0M142.9 90.5h0M135.8 90.1h0M127.5 93.5h0M116.8 85.6h0M130.8 91h0M108.5 92.4h0M124.4 92.6h0M127.6 92.7h0M124.6 89.3h0M116.6 83.9h0M122 88.5h0M135.3 90.7h0M123.1 87.7h0M120.2 90.5h0M117.6 87.9h0M119.9 87.1h0M108.9 90h0M128.8 92.3h0M126.7 90.3h0M127.9 91.3h0M119.2 93.5h0M126 90.6h0M119.3 91.7h0M129.2 89.7h0M128.5 91.5h0M116.2 87.8h0M136.6 87.3h0M127.5 87.9h0M126 91.8h0M116.7 93.6h0M105.8 87.9h0M121.7 87.7h0M110.7 89.8h0M110.2 91.9h0M132.1 93.1h0M110.9 88.5h0M126.6 91.4h0M120.4 91h0M114.1 91.8h0M116.7 91.9h0M122.2 88.3h0M117 93.8h0M127.6 90.9h0M134.8 88.9h0M118.8 86.1h0M109.4 89.7h0M125.9 89.6h0M119.3 92.5h0M131.8 91.9h0M113.8 92.6h0M126.1 86.2h0M125.6 88.4h0M129.3 90.1h0M128.4 91.4h0M121 88.3h0M131.5 90.4h0M116.7 88.7h0M118.7 89.6h0M126.8 91.4h0M127.5 89.2h0M117 93.1h0M113.6 90h0M128.1 93.5h0M126 89.5h0M109 87.3h0M123.1 89h0M110.4 93.1h0M127.8 87.3h0M122.8 90.3h0M115.2 94.4h0M128.5 90.1h0M130.7 91.1h0M129.1 91.2h0M124.8 87.1h0M112.9 87.4h0M119.3 92.1h0M121.2 88.5h0M112.8 90.6h0M114.2 92h0M117.5 87.9h0M114.8 86.6h0M115.9 91.7h0M129.2 87.5h0M113.4 88.3h0M108.7 91.1h0M116 88.1h0M107.9 91.6h0M134.2 91.2h0M118 85.7h0M118.6 91.9h0M134.7 90.6h0M110.7 90.8h0M119.4 86.5h0M108.2 95.3h0M122.9 87.8h0M120.6 89.9h0M132.1 91.2h0M129.4 88.5h0M113.7 89.6h0M120.4 88.6h0M110.5 90.6h0M120.2 89.8h0M119.6 89.3h0M117.6 91.1h0M128.8 91h0M116.5 92.1h0M108.9 88.6h0M119 90.2h0M123.5 90.3h0M125.6 86.4h0M122.6 90.5h0M134.5 88.9h0M104.2 95.4h0M110.1 92.6h0M110.1 94.8h0M127.2 91.6h0M117.6 92.7h0M119.7 88.6h0M132.2 88.7h0M107.8 94.3h0M128.3 88.4h0M127.5 90.8h0M109 90.2h0M120.9 90.3h0M114.1 92.6h0M112.7 90.1h0M115 85.6h0M116.9 88.8h0M115.2 90.4h0M110.5 91.3h0M105.8 86.6h0M116.2 93.9h0M122.4 87.2h0M135.4 91.3h0M136.2 89.5h0M123.2 91.2h0M115.7 91.5h0M121.7 90.5h0M116.9 86.3h0M77.9 73h0M80 70.1h0M108.4 73.4h0M124.9 81.3h0M125.5 82.9h0M92.8 86.7h0M118 79.7h0M113.6 80.9h0M102.8 71.9h0M98 85.3h0M133.1 82.3h0M129.7 79.5h0M101.7 85.2h0M105.1 79.8h0M98.7 73.1h0M90.3 67h0M88 81.6h0M125.7 85.7h0M119.3 84.7h0M100 79.3h0M90.1 70.1h0M132.4 80.8h0M84.7 87.4h0M101.9 74.8h0M108.4 72.9h0M135.3 83.3h0M90.9 79.4h0M79 78h0M120.9 84.3h0M86.3 75.6h0M129.7 82.4h0M81.7 77.4h0M89 70.1h0M100.5 79.9h0M128.6 85.3h0M102.4 70.7h0M93.7 76.9h0M114.6 83.4h0M113.4 82.1h0M125.7 82.5h0M119.4 81.1h0M117.6 83.1h0M84 79.4h0M94.9 87.7h0M122 82.1h0M104.3 76h0M79.1 84.8h0M118.8 87.5h0M128.1 83.3h0" stroke="#111" stroke-width="1.45" stroke-linecap="round" fill="none"/>
<line x1="56.4" y1="24.5" x2="56.4" y2="149.6" stroke="#222" stroke-width="1.3"/>
<line x1="55.8" y1="149" x2="170.2" y2="149" stroke="#222" stroke-width="1.3"/>
<line x1="53.6" y1="149" x2="56.4" y2="149" stroke="#222" stroke-width="1.1"/>
<text x="50.6" y="151.6" font-size="6.6" text-anchor="end">−8</text>
<line x1="53.6" y1="133.8" x2="56.4" y2="133.8" stroke="#222" stroke-width="1.1"/>
<text x="50.6" y="136.4" font-size="6.6" text-anchor="end">−6</text>
<line x1="53.6" y1="118.5" x2="56.4" y2="118.5" stroke="#222" stroke-width="1.1"/>
<text x="50.6" y="121.1" font-size="6.6" text-anchor="end">−4</text>
<line x1="53.6" y1="103.3" x2="56.4" y2="103.3" stroke="#222" stroke-width="1.1"/>
<text x="50.6" y="105.8" font-size="6.6" text-anchor="end">−2</text>
<line x1="53.6" y1="88" x2="56.4" y2="88" stroke="#222" stroke-width="1.1"/>
<text x="50.6" y="90.6" font-size="6.6" text-anchor="end">0</text>
<line x1="53.6" y1="72.7" x2="56.4" y2="72.7" stroke="#222" stroke-width="1.1"/>
<text x="50.6" y="75.3" font-size="6.6" text-anchor="end">2</text>
<line x1="53.6" y1="57.5" x2="56.4" y2="57.5" stroke="#222" stroke-width="1.1"/>
<text x="50.6" y="60.1" font-size="6.6" text-anchor="end">4</text>
<line x1="53.6" y1="42.2" x2="56.4" y2="42.2" stroke="#222" stroke-width="1.1"/>
<text x="50.6" y="44.8" font-size="6.6" text-anchor="end">6</text>
<line x1="53.6" y1="27" x2="56.4" y2="27" stroke="#222" stroke-width="1.1"/>
<text x="50.6" y="29.5" font-size="6.6" text-anchor="end">8</text>
<line x1="56.5" y1="149" x2="56.5" y2="151.4" stroke="#222" stroke-width="1.1"/>
<text x="56.5" y="161.1" font-size="6.6" text-anchor="middle">0</text>
<line x1="75" y1="149" x2="75" y2="151.4" stroke="#222" stroke-width="1.1"/>
<text x="75" y="161.1" font-size="6.6" text-anchor="middle">1</text>
<line x1="93.5" y1="149" x2="93.5" y2="151.4" stroke="#222" stroke-width="1.1"/>
<text x="93.5" y="161.1" font-size="6.6" text-anchor="middle">2</text>
<line x1="112" y1="149" x2="112" y2="151.4" stroke="#222" stroke-width="1.1"/>
<text x="112" y="161.1" font-size="6.6" text-anchor="middle">3</text>
<line x1="130.5" y1="149" x2="130.5" y2="151.4" stroke="#222" stroke-width="1.1"/>
<text x="130.5" y="161.1" font-size="6.6" text-anchor="middle">4</text>
<line x1="149" y1="149" x2="149" y2="151.4" stroke="#222" stroke-width="1.1"/>
<text x="149" y="161.1" font-size="6.6" text-anchor="middle">5</text>
<line x1="167.5" y1="149" x2="167.5" y2="151.4" stroke="#222" stroke-width="1.1"/>
<text x="167.5" y="161.1" font-size="6.6" text-anchor="middle">6</text>
<text x="114" y="173.9" font-size="8.6" text-anchor="middle" textLength="57.9" lengthAdjust="spacingAndGlyphs">log10 (baseMean)</text>
<text transform="translate(26.8 87.4) rotate(-90)" text-anchor="middle" font-size="8.6" textLength="55.8" lengthAdjust="spacingAndGlyphs">log2 (flod change</text>
<text transform="translate(38.1 87.8) rotate(-90)" text-anchor="middle" font-size="9.0" textLength="83.1" lengthAdjust="spacingAndGlyphs">[gSMARCA4/2 vs. gAAVS1]</text>
<circle cx="123.8" cy="110.2" r="1.1" fill="#111"/>
<text x="127.2" y="114.8" font-size="6.8">CXCR4</text>
<text x="193.8" y="16.9" font-size="12.2" font-weight="bold" fill="#111" textLength="7.6" lengthAdjust="spacingAndGlyphs">B</text>
<text x="279" y="30.8" font-size="8.6" text-anchor="middle" font-style="italic">CXCR4</text>
<line x1="235.2" y1="38" x2="235.2" y2="126.8" stroke="#222" stroke-width="1.3"/>
<line x1="234.6" y1="126.2" x2="321" y2="126.2" stroke="#222" stroke-width="1.3"/>
<line x1="232.3" y1="126.2" x2="235.2" y2="126.2" stroke="#222" stroke-width="1.1"/>
<text x="228.9" y="128.5" font-size="6.5" text-anchor="end">0</text>
<line x1="232.3" y1="109" x2="235.2" y2="109" stroke="#222" stroke-width="1.1"/>
<text x="228.9" y="111.3" font-size="6.5" text-anchor="end">50</text>
<line x1="232.3" y1="91.8" x2="235.2" y2="91.8" stroke="#222" stroke-width="1.1"/>
<text x="228.9" y="94.1" font-size="6.5" text-anchor="end">100</text>
<line x1="232.3" y1="74.5" x2="235.2" y2="74.5" stroke="#222" stroke-width="1.1"/>
<text x="228.9" y="76.9" font-size="6.5" text-anchor="end">150</text>
<line x1="232.3" y1="57.3" x2="235.2" y2="57.3" stroke="#222" stroke-width="1.1"/>
<text x="228.9" y="59.7" font-size="6.5" text-anchor="end">200</text>
<line x1="232.3" y1="40.1" x2="235.2" y2="40.1" stroke="#222" stroke-width="1.1"/>
<text x="228.9" y="42.4" font-size="6.5" text-anchor="end">250</text>
<text transform="translate(212.2 81) rotate(-90)" text-anchor="middle" font-size="6.6">TPM</text>
<line x1="246.1" y1="126" x2="246.1" y2="128.6" stroke="#222" stroke-width="1.1"/>
<text transform="translate(250.4 136.3) rotate(-45)" text-anchor="end" font-size="7.0">gAAVS1</text>
<line x1="262.2" y1="126" x2="262.2" y2="128.6" stroke="#222" stroke-width="1.1"/>
<text transform="translate(266.5 136.3) rotate(-45)" text-anchor="end" font-size="7.0">gSMARCA4</text>
<line x1="278.4" y1="126" x2="278.4" y2="128.6" stroke="#222" stroke-width="1.1"/>
<text transform="translate(282.7 136.3) rotate(-45)" text-anchor="end" font-size="7.0">gSMARCA4/2</text>
<line x1="294.6" y1="126" x2="294.6" y2="128.6" stroke="#222" stroke-width="1.1"/>
<text transform="translate(298.9 136.3) rotate(-45)" text-anchor="end" font-size="7.0">gARID1A</text>
<line x1="310.9" y1="126" x2="310.9" y2="128.6" stroke="#222" stroke-width="1.1"/>
<text transform="translate(315.2 136.3) rotate(-45)" text-anchor="end" font-size="7.0">gARID1A/B</text>
<circle cx="246.4" cy="48.6" r="1.9" fill="none" stroke="#9fc3e6" stroke-width="0.7"/>
<circle cx="243.9" cy="52.3" r="1.9" fill="none" stroke="#9fc3e6" stroke-width="0.7"/>
<circle cx="247.1" cy="55.8" r="1.9" fill="none" stroke="#9fc3e6" stroke-width="0.7"/>
<line x1="241.1" y1="51" x2="251.1" y2="51" stroke="#6f97c0" stroke-width="0.9"/>
<line x1="246.1" y1="47.6" x2="246.1" y2="54.6" stroke="#6f97c0" stroke-width="0.8"/>
<line x1="244.1" y1="47.6" x2="248.1" y2="47.6" stroke="#6f97c0" stroke-width="0.8"/>
<line x1="244.1" y1="54.6" x2="248.1" y2="54.6" stroke="#6f97c0" stroke-width="0.8"/>
<circle cx="259.4" cy="114.8" r="1.3" fill="none" stroke="#9189c9" stroke-width="0.7"/>
<circle cx="262.2" cy="115.2" r="1.3" fill="none" stroke="#9189c9" stroke-width="0.7"/>
<circle cx="265" cy="114.5" r="1.3" fill="none" stroke="#9189c9" stroke-width="0.7"/>
<circle cx="275.6" cy="114.8" r="1.3" fill="none" stroke="#e0508a" stroke-width="0.7"/>
<circle cx="278.4" cy="115.2" r="1.3" fill="none" stroke="#e0508a" stroke-width="0.7"/>
<circle cx="281.2" cy="114.5" r="1.3" fill="none" stroke="#e0508a" stroke-width="0.7"/>
<circle cx="292.1" cy="99.3" r="1.8" fill="none" stroke="#8a8a8a" stroke-width="0.7"/>
<circle cx="294.6" cy="100.4" r="1.8" fill="none" stroke="#8a8a8a" stroke-width="0.7"/>
<circle cx="297.1" cy="102.1" r="1.8" fill="none" stroke="#8a8a8a" stroke-width="0.7"/>
<line x1="290.4" y1="100.4" x2="298.8" y2="100.4" stroke="#8a8a8a" stroke-width="0.8"/>
<line x1="294.6" y1="102.8" x2="294.6" y2="98" stroke="#8a8a8a" stroke-width="0.8"/>
<line x1="293" y1="102.8" x2="296.2" y2="102.8" stroke="#8a8a8a" stroke-width="0.8"/>
<line x1="293" y1="98" x2="296.2" y2="98" stroke="#8a8a8a" stroke-width="0.8"/>
<circle cx="307.9" cy="117.9" r="1.5" fill="#1d8fd0" stroke="#1d8fd0" stroke-width="0.7"/>
<circle cx="310.9" cy="117.6" r="1.5" fill="#1d8fd0" stroke="#1d8fd0" stroke-width="0.7"/>
<circle cx="313.9" cy="117.2" r="1.5" fill="#1d8fd0" stroke="#1d8fd0" stroke-width="0.7"/>
<text x="262.2" y="107" font-size="7.2" text-anchor="middle">***</text>
<text x="278.4" y="107" font-size="7.2" text-anchor="middle">***</text>
<text x="294.6" y="92.4" font-size="7.2" text-anchor="middle">***</text>
<text x="310.9" y="109.6" font-size="7.2" text-anchor="middle">***</text>
<text x="344.2" y="16.9" font-size="12.2" font-weight="bold" fill="#111" textLength="8.3" lengthAdjust="spacingAndGlyphs">C</text>
<text x="450" y="30.8" font-size="8.6" text-anchor="middle" font-style="italic">CXCR4</text>
<line x1="386.4" y1="38" x2="386.4" y2="124.4" stroke="#222" stroke-width="1.3"/>
<line x1="385.8" y1="123.8" x2="512.5" y2="123.8" stroke="#222" stroke-width="1.3"/>
<line x1="383.4" y1="123.8" x2="386.4" y2="123.8" stroke="#222" stroke-width="1.1"/>
<text x="380.4" y="126.1" font-size="6.5" text-anchor="end">0</text>
<line x1="383.4" y1="95.7" x2="386.4" y2="95.7" stroke="#222" stroke-width="1.1"/>
<text x="380.4" y="98.1" font-size="6.5" text-anchor="end">200</text>
<line x1="383.4" y1="67.7" x2="386.4" y2="67.7" stroke="#222" stroke-width="1.1"/>
<text x="380.4" y="70" font-size="6.5" text-anchor="end">400</text>
<line x1="383.4" y1="39.6" x2="386.4" y2="39.6" stroke="#222" stroke-width="1.1"/>
<text x="380.4" y="42" font-size="6.5" text-anchor="end">600</text>
<text transform="translate(363.2 80.5) rotate(-90)" text-anchor="middle" font-size="6.6">TPM</text>
<circle cx="401.3" cy="44.3" r="1.5" fill="#1b4272"/>
<text x="405.8" y="46.6" font-size="6.5">DMSO</text>
<circle cx="401.3" cy="55.4" r="1.5" fill="#b8132e"/>
<text x="405.8" y="57.7" font-size="6.5">BRM014 (6 h)</text>
<line x1="400.2" y1="123.8" x2="400.2" y2="126.4" stroke="#222" stroke-width="1.1"/>
<text transform="translate(404.5 134.3) rotate(-45)" text-anchor="end" font-size="7.0">Jurkat</text>
<line x1="433" y1="123.8" x2="433" y2="126.4" stroke="#222" stroke-width="1.1"/>
<text transform="translate(437.3 134.3) rotate(-45)" text-anchor="end" font-size="7.0">KOPT-K1</text>
<line x1="465.8" y1="123.8" x2="465.8" y2="126.4" stroke="#222" stroke-width="1.1"/>
<text transform="translate(470.1 134.3) rotate(-45)" text-anchor="end" font-size="7.0">CCRF-CEM</text>
<line x1="498.6" y1="123.8" x2="498.6" y2="126.4" stroke="#222" stroke-width="1.1"/>
<text transform="translate(502.9 134.3) rotate(-45)" text-anchor="end" font-size="7.0">TALL-1</text>
<circle cx="392" cy="90.9" r="1.9" fill="#1b4272"/>
<circle cx="394.6" cy="88.3" r="1.9" fill="#1b4272"/>
<circle cx="397" cy="89.5" r="1.9" fill="#1b4272"/>
<circle cx="424.6" cy="82.1" r="1.9" fill="#1b4272"/>
<circle cx="427.2" cy="79.5" r="1.9" fill="#1b4272"/>
<circle cx="429.6" cy="80.7" r="1.9" fill="#1b4272"/>
<circle cx="457.4" cy="100" r="1.9" fill="#1b4272"/>
<circle cx="460" cy="97.4" r="1.9" fill="#1b4272"/>
<circle cx="462.4" cy="98.6" r="1.9" fill="#1b4272"/>
<circle cx="404.1" cy="118.8" r="1.9" fill="#b8132e"/>
<circle cx="406.7" cy="116.2" r="1.9" fill="#b8132e"/>
<circle cx="409.1" cy="117.4" r="1.9" fill="#b8132e"/>
<circle cx="436.6" cy="118.8" r="1.9" fill="#b8132e"/>
<circle cx="439.2" cy="116.2" r="1.9" fill="#b8132e"/>
<circle cx="441.6" cy="117.4" r="1.9" fill="#b8132e"/>
<circle cx="469.5" cy="118" r="1.9" fill="#b8132e"/>
<circle cx="472.1" cy="115.4" r="1.9" fill="#b8132e"/>
<circle cx="474.5" cy="116.6" r="1.9" fill="#b8132e"/>
<circle cx="492.8" cy="45.9" r="1.6" fill="#1b4272"/>
<circle cx="492.8" cy="56.5" r="1.6" fill="#1b4272"/>
<line x1="488.8" y1="50.8" x2="496.8" y2="50.8" stroke="#1b4272" stroke-width="0.9"/>
<line x1="492.8" y1="56.5" x2="492.8" y2="45.2" stroke="#1b4272" stroke-width="0.9"/>
<circle cx="502.9" cy="98.5" r="1.6" fill="#b8132e"/>
<circle cx="506.1" cy="98.5" r="1.6" fill="#b8132e"/>
<circle cx="504.4" cy="102.1" r="1.6" fill="#b8132e"/>
<text x="406.7" y="110.7" font-size="7.2" text-anchor="middle">***</text>
<text x="439.2" y="110.7" font-size="7.2" text-anchor="middle">***</text>
<text x="471.8" y="112.1" font-size="7.2" text-anchor="middle">***</text>
<text x="504.4" y="92.9" font-size="7.2" text-anchor="middle">***</text>
<text x="7.7" y="201.7" font-size="12.2" font-weight="bold" fill="#111" textLength="8.7" lengthAdjust="spacingAndGlyphs">D</text>
<text x="113.3" y="215.9" font-size="9" text-anchor="middle">Jurkat</text>
<line x1="59.6" y1="221" x2="59.6" y2="311.4" stroke="#222" stroke-width="1.3"/>
<line x1="59" y1="310.8" x2="168.5" y2="310.8" stroke="#222" stroke-width="1.3"/>
<line x1="56.8" y1="310.8" x2="59.6" y2="310.8" stroke="#222" stroke-width="1.1"/>
<text x="52.9" y="313.1" font-size="6.5" text-anchor="end">0</text>
<line x1="56.8" y1="281.9" x2="59.6" y2="281.9" stroke="#222" stroke-width="1.1"/>
<text x="52.9" y="284.2" font-size="6.5" text-anchor="end">20,000</text>
<line x1="56.8" y1="253" x2="59.6" y2="253" stroke="#222" stroke-width="1.1"/>
<text x="52.9" y="255.3" font-size="6.5" text-anchor="end">40,000</text>
<line x1="56.8" y1="224.1" x2="59.6" y2="224.1" stroke="#222" stroke-width="1.1"/>
<text x="52.9" y="226.4" font-size="6.5" text-anchor="end">60,000</text>
<text transform="translate(26.8 265.9) rotate(-90)" text-anchor="middle" font-size="8.0" textLength="37.6" lengthAdjust="spacingAndGlyphs">CXCR4 (MFI)</text>
<line x1="67.4" y1="310.8" x2="67.4" y2="313.4" stroke="#222" stroke-width="1.1"/>
<text transform="translate(71.7 321.8) rotate(-45)" text-anchor="end" font-size="6.9">gAAVS1</text>
<line x1="79" y1="310.8" x2="79" y2="313.4" stroke="#222" stroke-width="1.1"/>
<text transform="translate(83.3 321.8) rotate(-45)" text-anchor="end" font-size="6.9">gCXCR4</text>
<line x1="90.7" y1="310.8" x2="90.7" y2="313.4" stroke="#222" stroke-width="1.1"/>
<text transform="translate(95 321.8) rotate(-45)" text-anchor="end" font-size="6.9">gSMARCA4(43)</text>
<line x1="102.3" y1="310.8" x2="102.3" y2="313.4" stroke="#222" stroke-width="1.1"/>
<text transform="translate(106.6 321.8) rotate(-45)" text-anchor="end" font-size="6.9">gSMARCA2(47)</text>
<line x1="113.9" y1="310.8" x2="113.9" y2="313.4" stroke="#222" stroke-width="1.1"/>
<text transform="translate(118.2 321.8) rotate(-45)" text-anchor="end" font-size="6.9">gSMARCA4(43)/2(47)</text>
<line x1="125.6" y1="310.8" x2="125.6" y2="313.4" stroke="#222" stroke-width="1.1"/>
<text transform="translate(129.9 321.8) rotate(-45)" text-anchor="end" font-size="6.9">gARID1A(44)</text>
<line x1="137.2" y1="310.8" x2="137.2" y2="313.4" stroke="#222" stroke-width="1.1"/>
<text transform="translate(141.5 321.8) rotate(-45)" text-anchor="end" font-size="6.9">gARID1A(44)/B(23)</text>
<line x1="148.8" y1="310.8" x2="148.8" y2="313.4" stroke="#222" stroke-width="1.1"/>
<text transform="translate(153.1 321.8) rotate(-45)" text-anchor="end" font-size="6.9">gARID2(14)</text>
<line x1="160.4" y1="310.8" x2="160.4" y2="313.4" stroke="#222" stroke-width="1.1"/>
<text transform="translate(164.7 321.8) rotate(-45)" text-anchor="end" font-size="6.9">gBRD9(91)</text>
<circle cx="67.2" cy="238.8" r="2.0" fill="#a5cbea"/>
<circle cx="68" cy="245.6" r="2.0" fill="#a5cbea"/>
<line x1="64" y1="243.2" x2="70.8" y2="243.2" stroke="#6f9dc8" stroke-width="0.9"/>
<line x1="67.4" y1="239.5" x2="67.4" y2="246.5" stroke="#6f9dc8" stroke-width="0.9"/>
<circle cx="76.9" cy="309.6" r="2.1" fill="#bcb6de"/>
<circle cx="79" cy="308.9" r="2.1" fill="#bcb6de"/>
<circle cx="81.1" cy="309.6" r="2.1" fill="#bcb6de"/>
<circle cx="88.5" cy="307.6" r="2.1" fill="#d9ddbb"/>
<circle cx="90.7" cy="306.6" r="2.1" fill="#d9ddbb"/>
<circle cx="92.9" cy="307.6" r="2.1" fill="#d9ddbb"/>
<circle cx="102.3" cy="234.6" r="2.1" fill="#7d70b0"/>
<circle cx="101.5" cy="246" r="2.1" fill="#7d70b0"/>
<circle cx="102.9" cy="248.3" r="2.1" fill="#7d70b0"/>
<line x1="98.9" y1="243.2" x2="105.7" y2="243.2" stroke="#6a5ea0" stroke-width="0.9"/>
<line x1="102.3" y1="234.6" x2="102.3" y2="248.3" stroke="#6a5ea0" stroke-width="0.9"/>
<circle cx="111.8" cy="308.8" r="2.1" fill="#e9927f"/>
<circle cx="113.9" cy="307.9" r="2.1" fill="#e9927f"/>
<circle cx="116" cy="308.8" r="2.1" fill="#e9927f"/>
<circle cx="125.6" cy="293.2" r="2.1" fill="#93b27c"/>
<circle cx="124.8" cy="299.4" r="2.1" fill="#93b27c"/>
<circle cx="126.3" cy="300.6" r="2.1" fill="#93b27c"/>
<line x1="122.2" y1="297" x2="129" y2="297" stroke="#4f6b3c" stroke-width="0.9"/>
<line x1="125.6" y1="293.2" x2="125.6" y2="300.6" stroke="#4f6b3c" stroke-width="0.9"/>
<circle cx="135" cy="308.6" r="2.1" fill="#1b4272"/>
<circle cx="137.2" cy="307.8" r="2.1" fill="#1b4272"/>
<circle cx="139.4" cy="308.6" r="2.1" fill="#1b4272"/>
<circle cx="148.6" cy="234.8" r="2.1" fill="#4f1b54"/>
<circle cx="147" cy="239.3" r="2.1" fill="#4f1b54"/>
<circle cx="149.9" cy="240.2" r="2.1" fill="#4f1b54"/>
<circle cx="158.4" cy="238.6" r="2.1" fill="#c0142e"/>
<circle cx="160.4" cy="238.2" r="2.1" fill="#c0142e"/>
<circle cx="162.4" cy="238.6" r="2.1" fill="#c0142e"/>
<text x="79" y="308.4" font-size="7.3" text-anchor="middle">***</text>
<text x="90.7" y="303" font-size="7.3" text-anchor="middle">***</text>
<text x="102.3" y="227.2" font-size="6.6" text-anchor="middle">n.s.</text>
<text x="113.9" y="305.6" font-size="7.3" text-anchor="middle">***</text>
<text x="125.6" y="291.8" font-size="7.3" text-anchor="middle">***</text>
<text x="137.2" y="306.7" font-size="7.3" text-anchor="middle">***</text>
<text x="148.8" y="226.2" font-size="6.6" text-anchor="middle">n.s.</text>
<text x="160.4" y="230.7" font-size="6.6" text-anchor="middle">n.s.</text>
<text x="176" y="201.7" font-size="12.2" font-weight="bold" fill="#111" textLength="7.1" lengthAdjust="spacingAndGlyphs">E</text>
<text x="224" y="213.9" font-size="7.3" text-anchor="middle" textLength="20.2" lengthAdjust="spacingAndGlyphs">Jurkat</text>
<path d="M197 274L197 274L197.5 274L198 274L198.5 274L198.9 274L199.4 274L199.9 274L200.4 274L200.9 274L201.4 274L201.9 274L202.4 274L202.8 274L203.3 274L203.8 274L204.3 274L204.8 273.9L205.3 273.9L205.8 273.9L206.3 273.8L206.7 273.7L207.2 273.6L207.7 273.5L208.2 273.3L208.7 273.1L209.2 272.8L209.7 272.5L210.2 272L210.6 271.5L211.1 271L211.6 270.3L212.1 269.5L212.6 268.7L213.1 267.8L213.6 266.8L214.1 265.8L214.5 264.7L215 263.7L215.5 262.7L216 261.8L216.5 260.9L217 260.3L217.5 259.7L218 259.4L218.4 259.2L218.9 259.3L219.4 260.1L219.9 261.4L220.4 263.1L220.9 264.9L221.4 266.8L221.9 268.5L222.3 270L222.8 271.3L223.3 272.2L223.8 272.9L224.3 273.3L224.8 273.6L225.3 273.8L225.7 273.9L226.2 273.9L226.7 274L227.2 274L227.7 274L228.2 274L228.7 274L229.2 274L229.6 274L230.1 274L230.6 274L231.1 274L231.6 274L232.1 274L232.6 274L233.1 274L233.5 274L234 274L234.5 274L235 274L235.5 274L236 274L236.5 274L237 274L237.4 274L237.9 274L238.4 274L238.9 274L239.4 274L239.9 274L240.4 274L240.9 274L241.3 274L241.8 274L242.3 274L242.8 274L243.3 274L243.8 274L244.3 274L244.8 274L245.2 274L245.7 274L246.2 274L246.7 274L247.2 274L247.7 274L248.2 274L248.7 274L249.1 274L249.6 274L250.1 274L250.6 274L250.6 274Z" fill="rgba(210,210,218,0.5)" stroke="none"/>
<path d="M197 274L197.5 274L198 274L198.5 274L198.9 274L199.4 274L199.9 274L200.4 274L200.9 274L201.4 274L201.9 274L202.4 274L202.8 274L203.3 274L203.8 274L204.3 274L204.8 273.9L205.3 273.9L205.8 273.9L206.3 273.8L206.7 273.7L207.2 273.6L207.7 273.5L208.2 273.3L208.7 273.1L209.2 272.8L209.7 272.5L210.2 272L210.6 271.5L211.1 271L211.6 270.3L212.1 269.5L212.6 268.7L213.1 267.8L213.6 266.8L214.1 265.8L214.5 264.7L215 263.7L215.5 262.7L216 261.8L216.5 260.9L217 260.3L217.5 259.7L218 259.4L218.4 259.2L218.9 259.3L219.4 260.1L219.9 261.4L220.4 263.1L220.9 264.9L221.4 266.8L221.9 268.5L222.3 270L222.8 271.3L223.3 272.2L223.8 272.9L224.3 273.3L224.8 273.6L225.3 273.8L225.7 273.9L226.2 273.9L226.7 274L227.2 274L227.7 274L228.2 274L228.7 274L229.2 274L229.6 274L230.1 274L230.6 274L231.1 274L231.6 274L232.1 274L232.6 274L233.1 274L233.5 274L234 274L234.5 274L235 274L235.5 274L236 274L236.5 274L237 274L237.4 274L237.9 274L238.4 274L238.9 274L239.4 274L239.9 274L240.4 274L240.9 274L241.3 274L241.8 274L242.3 274L242.8 274L243.3 274L243.8 274L244.3 274L244.8 274L245.2 274L245.7 274L246.2 274L246.7 274L247.2 274L247.7 274L248.2 274L248.7 274L249.1 274L249.6 274L250.1 274L250.6 274" fill="none" stroke="#aaaab2" stroke-width="0.6" stroke-linejoin="round"/>
<path d="M197 265.5L197 265.5L197.5 265.5L198 265.5L198.5 265.5L198.9 265.5L199.4 265.5L199.9 265.5L200.4 265.5L200.9 265.5L201.4 265.5L201.9 265.5L202.4 265.5L202.8 265.5L203.3 265.5L203.8 265.5L204.3 265.5L204.8 265.5L205.3 265.5L205.8 265.5L206.3 265.5L206.7 265.4L207.2 265.4L207.7 265.4L208.2 265.4L208.7 265.4L209.2 265.3L209.7 265.3L210.2 265.2L210.6 265.1L211.1 265.1L211.6 265L212.1 264.8L212.6 264.7L213.1 264.5L213.6 264.3L214.1 264.1L214.5 263.9L215 263.6L215.5 263.3L216 262.9L216.5 262.5L217 262L217.5 261.5L218 261L218.4 260.4L218.9 259.8L219.4 259.2L219.9 258.5L220.4 257.8L220.9 257L221.4 256.3L221.9 255.6L222.3 254.8L222.8 254.1L223.3 253.4L223.8 252.8L224.3 252.2L224.8 251.6L225.3 251.2L225.7 250.7L226.2 250.4L226.7 250.2L227.2 250L227.7 250L228.2 250.2L228.7 250.7L229.2 251.4L229.6 252.5L230.1 253.7L230.6 255L231.1 256.4L231.6 257.8L232.1 259.1L232.6 260.3L233.1 261.4L233.5 262.3L234 263L234.5 263.7L235 264.2L235.5 264.5L236 264.8L236.5 265L237 265.2L237.4 265.3L237.9 265.4L238.4 265.4L238.9 265.5L239.4 265.5L239.9 265.5L240.4 265.5L240.9 265.5L241.3 265.5L241.8 265.5L242.3 265.5L242.8 265.5L243.3 265.5L243.8 265.5L244.3 265.5L244.8 265.5L245.2 265.5L245.7 265.5L246.2 265.5L246.7 265.5L247.2 265.5L247.7 265.5L248.2 265.5L248.7 265.5L249.1 265.5L249.6 265.5L250.1 265.5L250.6 265.5L250.6 265.5Z" fill="rgba(238,125,110,0.38)" stroke="none"/>
<path d="M197 265.5L197.5 265.5L198 265.5L198.5 265.5L198.9 265.5L199.4 265.5L199.9 265.5L200.4 265.5L200.9 265.5L201.4 265.5L201.9 265.5L202.4 265.5L202.8 265.5L203.3 265.5L203.8 265.5L204.3 265.5L204.8 265.5L205.3 265.5L205.8 265.5L206.3 265.5L206.7 265.4L207.2 265.4L207.7 265.4L208.2 265.4L208.7 265.4L209.2 265.3L209.7 265.3L210.2 265.2L210.6 265.1L211.1 265.1L211.6 265L212.1 264.8L212.6 264.7L213.1 264.5L213.6 264.3L214.1 264.1L214.5 263.9L215 263.6L215.5 263.3L216 262.9L216.5 262.5L217 262L217.5 261.5L218 261L218.4 260.4L218.9 259.8L219.4 259.2L219.9 258.5L220.4 257.8L220.9 257L221.4 256.3L221.9 255.6L222.3 254.8L222.8 254.1L223.3 253.4L223.8 252.8L224.3 252.2L224.8 251.6L225.3 251.2L225.7 250.7L226.2 250.4L226.7 250.2L227.2 250L227.7 250L228.2 250.2L228.7 250.7L229.2 251.4L229.6 252.5L230.1 253.7L230.6 255L231.1 256.4L231.6 257.8L232.1 259.1L232.6 260.3L233.1 261.4L233.5 262.3L234 263L234.5 263.7L235 264.2L235.5 264.5L236 264.8L236.5 265L237 265.2L237.4 265.3L237.9 265.4L238.4 265.4L238.9 265.5L239.4 265.5L239.9 265.5L240.4 265.5L240.9 265.5L241.3 265.5L241.8 265.5L242.3 265.5L242.8 265.5L243.3 265.5L243.8 265.5L244.3 265.5L244.8 265.5L245.2 265.5L245.7 265.5L246.2 265.5L246.7 265.5L247.2 265.5L247.7 265.5L248.2 265.5L248.7 265.5L249.1 265.5L249.6 265.5L250.1 265.5L250.6 265.5" fill="none" stroke="#bb3848" stroke-width="0.9" stroke-linejoin="round"/>
<path d="M197 256.3L197 256.3L197.5 256.3L198 256.3L198.5 256.3L198.9 256.3L199.4 256.3L199.9 256.3L200.4 256.3L200.9 256.3L201.4 256.3L201.9 256.3L202.4 256.3L202.8 256.3L203.3 256.3L203.8 256.3L204.3 256.3L204.8 256.3L205.3 256.3L205.8 256.3L206.3 256.3L206.7 256.3L207.2 256.3L207.7 256.3L208.2 256.3L208.7 256.3L209.2 256.3L209.7 256.3L210.2 256.3L210.6 256.3L211.1 256.3L211.6 256.3L212.1 256.3L212.6 256.3L213.1 256.3L213.6 256.3L214.1 256.3L214.5 256.3L215 256.3L215.5 256.3L216 256.3L216.5 256.3L217 256.3L217.5 256.3L218 256.3L218.4 256.3L218.9 256.3L219.4 256.3L219.9 256.3L220.4 256.3L220.9 256.3L221.4 256.3L221.9 256.3L222.3 256.3L222.8 256.3L223.3 256.3L223.8 256.3L224.3 256.3L224.8 256.3L225.3 256.3L225.7 256.3L226.2 256.3L226.7 256.3L227.2 256.3L227.7 256.3L228.2 256.3L228.7 256.3L229.2 256.3L229.6 256.3L230.1 256.3L230.6 256.3L231.1 256.3L231.6 256.3L232.1 256.3L232.6 256.3L233.1 256.3L233.5 256.2L234 256.1L234.5 255.9L235 255.5L235.5 254.7L236 253.5L236.5 251.7L237 249.3L237.4 246.5L237.9 243.7L238.4 241.3L238.9 239.8L239.4 239.7L239.9 240.9L240.4 243.1L240.9 245.9L241.3 248.7L241.8 251.2L242.3 253.2L242.8 254.5L243.3 255.4L243.8 255.9L244.3 256.1L244.8 256.2L245.2 256.3L245.7 256.3L246.2 256.3L246.7 256.3L247.2 256.3L247.7 256.3L248.2 256.3L248.7 256.3L249.1 256.3L249.6 256.3L250.1 256.3L250.6 256.3L250.6 256.3Z" fill="rgba(135,148,205,0.40)" stroke="none"/>
<path d="M197 256.3L197.5 256.3L198 256.3L198.5 256.3L198.9 256.3L199.4 256.3L199.9 256.3L200.4 256.3L200.9 256.3L201.4 256.3L201.9 256.3L202.4 256.3L202.8 256.3L203.3 256.3L203.8 256.3L204.3 256.3L204.8 256.3L205.3 256.3L205.8 256.3L206.3 256.3L206.7 256.3L207.2 256.3L207.7 256.3L208.2 256.3L208.7 256.3L209.2 256.3L209.7 256.3L210.2 256.3L210.6 256.3L211.1 256.3L211.6 256.3L212.1 256.3L212.6 256.3L213.1 256.3L213.6 256.3L214.1 256.3L214.5 256.3L215 256.3L215.5 256.3L216 256.3L216.5 256.3L217 256.3L217.5 256.3L218 256.3L218.4 256.3L218.9 256.3L219.4 256.3L219.9 256.3L220.4 256.3L220.9 256.3L221.4 256.3L221.9 256.3L222.3 256.3L222.8 256.3L223.3 256.3L223.8 256.3L224.3 256.3L224.8 256.3L225.3 256.3L225.7 256.3L226.2 256.3L226.7 256.3L227.2 256.3L227.7 256.3L228.2 256.3L228.7 256.3L229.2 256.3L229.6 256.3L230.1 256.3L230.6 256.3L231.1 256.3L231.6 256.3L232.1 256.3L232.6 256.3L233.1 256.3L233.5 256.2L234 256.1L234.5 255.9L235 255.5L235.5 254.7L236 253.5L236.5 251.7L237 249.3L237.4 246.5L237.9 243.7L238.4 241.3L238.9 239.8L239.4 239.7L239.9 240.9L240.4 243.1L240.9 245.9L241.3 248.7L241.8 251.2L242.3 253.2L242.8 254.5L243.3 255.4L243.8 255.9L244.3 256.1L244.8 256.2L245.2 256.3L245.7 256.3L246.2 256.3L246.7 256.3L247.2 256.3L247.7 256.3L248.2 256.3L248.7 256.3L249.1 256.3L249.6 256.3L250.1 256.3L250.6 256.3" fill="none" stroke="#485a7e" stroke-width="0.9" stroke-linejoin="round"/>
<path d="M197 247.1L197 247.1L197.5 247.1L198 247.1L198.5 247.1L198.9 247.1L199.4 247.1L199.9 247.1L200.4 247.1L200.9 247.1L201.4 247.1L201.9 247.1L202.4 247.1L202.8 247.1L203.3 247.1L203.8 247.1L204.3 247.1L204.8 247.1L205.3 247.1L205.8 247.1L206.3 247.1L206.7 247.1L207.2 247.1L207.7 247.1L208.2 247.1L208.7 247.1L209.2 247.1L209.7 247.1L210.2 247.1L210.6 247.1L211.1 247.1L211.6 247.1L212.1 247.1L212.6 247.1L213.1 247L213.6 247L214.1 247L214.5 247L215 246.9L215.5 246.8L216 246.8L216.5 246.7L217 246.5L217.5 246.4L218 246.2L218.4 245.9L218.9 245.7L219.4 245.3L219.9 244.9L220.4 244.5L220.9 244L221.4 243.4L221.9 242.7L222.3 242L222.8 241.2L223.3 240.4L223.8 239.5L224.3 238.6L224.8 237.6L225.3 236.7L225.7 235.7L226.2 234.9L226.7 234L227.2 233.2L227.7 232.6L228.2 232L228.7 231.6L229.2 231.3L229.6 231.1L230.1 231.1L230.6 231.7L231.1 232.7L231.6 234.2L232.1 235.8L232.6 237.6L233.1 239.4L233.5 241.1L234 242.6L234.5 243.8L235 244.8L235.5 245.5L236 246.1L236.5 246.4L237 246.7L237.4 246.9L237.9 247L238.4 247L238.9 247.1L239.4 247.1L239.9 247.1L240.4 247.1L240.9 247.1L241.3 247.1L241.8 247.1L242.3 247.1L242.8 247.1L243.3 247.1L243.8 247.1L244.3 247.1L244.8 247.1L245.2 247.1L245.7 247.1L246.2 247.1L246.7 247.1L247.2 247.1L247.7 247.1L248.2 247.1L248.7 247.1L249.1 247.1L249.6 247.1L250.1 247.1L250.6 247.1L250.6 247.1Z" fill="rgba(238,125,110,0.38)" stroke="none"/>
<path d="M197 247.1L197.5 247.1L198 247.1L198.5 247.1L198.9 247.1L199.4 247.1L199.9 247.1L200.4 247.1L200.9 247.1L201.4 247.1L201.9 247.1L202.4 247.1L202.8 247.1L203.3 247.1L203.8 247.1L204.3 247.1L204.8 247.1L205.3 247.1L205.8 247.1L206.3 247.1L206.7 247.1L207.2 247.1L207.7 247.1L208.2 247.1L208.7 247.1L209.2 247.1L209.7 247.1L210.2 247.1L210.6 247.1L211.1 247.1L211.6 247.1L212.1 247.1L212.6 247.1L213.1 247L213.6 247L214.1 247L214.5 247L215 246.9L215.5 246.8L216 246.8L216.5 246.7L217 246.5L217.5 246.4L218 246.2L218.4 245.9L218.9 245.7L219.4 245.3L219.9 244.9L220.4 244.5L220.9 244L221.4 243.4L221.9 242.7L222.3 242L222.8 241.2L223.3 240.4L223.8 239.5L224.3 238.6L224.8 237.6L225.3 236.7L225.7 235.7L226.2 234.9L226.7 234L227.2 233.2L227.7 232.6L228.2 232L228.7 231.6L229.2 231.3L229.6 231.1L230.1 231.1L230.6 231.7L231.1 232.7L231.6 234.2L232.1 235.8L232.6 237.6L233.1 239.4L233.5 241.1L234 242.6L234.5 243.8L235 244.8L235.5 245.5L236 246.1L236.5 246.4L237 246.7L237.4 246.9L237.9 247L238.4 247L238.9 247.1L239.4 247.1L239.9 247.1L240.4 247.1L240.9 247.1L241.3 247.1L241.8 247.1L242.3 247.1L242.8 247.1L243.3 247.1L243.8 247.1L244.3 247.1L244.8 247.1L245.2 247.1L245.7 247.1L246.2 247.1L246.7 247.1L247.2 247.1L247.7 247.1L248.2 247.1L248.7 247.1L249.1 247.1L249.6 247.1L250.1 247.1L250.6 247.1" fill="none" stroke="#bb3848" stroke-width="0.9" stroke-linejoin="round"/>
<path d="M197 238.4L197 238.4L197.5 238.4L198 238.4L198.5 238.4L198.9 238.4L199.4 238.4L199.9 238.4L200.4 238.4L200.9 238.4L201.4 238.4L201.9 238.4L202.4 238.4L202.8 238.4L203.3 238.4L203.8 238.4L204.3 238.4L204.8 238.4L205.3 238.4L205.8 238.4L206.3 238.4L206.7 238.4L207.2 238.4L207.7 238.4L208.2 238.4L208.7 238.4L209.2 238.4L209.7 238.4L210.2 238.4L210.6 238.4L211.1 238.4L211.6 238.4L212.1 238.4L212.6 238.4L213.1 238.4L213.6 238.4L214.1 238.4L214.5 238.4L215 238.4L215.5 238.4L216 238.4L216.5 238.4L217 238.4L217.5 238.4L218 238.4L218.4 238.4L218.9 238.4L219.4 238.4L219.9 238.4L220.4 238.4L220.9 238.4L221.4 238.4L221.9 238.4L222.3 238.4L222.8 238.4L223.3 238.4L223.8 238.4L224.3 238.4L224.8 238.4L225.3 238.4L225.7 238.4L226.2 238.4L226.7 238.4L227.2 238.4L227.7 238.4L228.2 238.4L228.7 238.4L229.2 238.4L229.6 238.4L230.1 238.4L230.6 238.4L231.1 238.4L231.6 238.4L232.1 238.4L232.6 238.4L233.1 238.4L233.5 238.4L234 238.4L234.5 238.3L235 238.1L235.5 237.8L236 237.2L236.5 236.2L237 234.7L237.4 232.6L237.9 229.9L238.4 227L238.9 224.4L239.4 222.5L239.9 221.8L240.4 222.4L240.9 224.2L241.3 226.8L241.8 229.7L242.3 232.4L242.8 234.5L243.3 236.1L243.8 237.2L244.3 237.8L244.8 238.1L245.2 238.3L245.7 238.4L246.2 238.4L246.7 238.4L247.2 238.4L247.7 238.4L248.2 238.4L248.7 238.4L249.1 238.4L249.6 238.4L250.1 238.4L250.6 238.4L250.6 238.4Z" fill="rgba(135,148,205,0.40)" stroke="none"/>
<path d="M197 238.4L197.5 238.4L198 238.4L198.5 238.4L198.9 238.4L199.4 238.4L199.9 238.4L200.4 238.4L200.9 238.4L201.4 238.4L201.9 238.4L202.4 238.4L202.8 238.4L203.3 238.4L203.8 238.4L204.3 238.4L204.8 238.4L205.3 238.4L205.8 238.4L206.3 238.4L206.7 238.4L207.2 238.4L207.7 238.4L208.2 238.4L208.7 238.4L209.2 238.4L209.7 238.4L210.2 238.4L210.6 238.4L211.1 238.4L211.6 238.4L212.1 238.4L212.6 238.4L213.1 238.4L213.6 238.4L214.1 238.4L214.5 238.4L215 238.4L215.5 238.4L216 238.4L216.5 238.4L217 238.4L217.5 238.4L218 238.4L218.4 238.4L218.9 238.4L219.4 238.4L219.9 238.4L220.4 238.4L220.9 238.4L221.4 238.4L221.9 238.4L222.3 238.4L222.8 238.4L223.3 238.4L223.8 238.4L224.3 238.4L224.8 238.4L225.3 238.4L225.7 238.4L226.2 238.4L226.7 238.4L227.2 238.4L227.7 238.4L228.2 238.4L228.7 238.4L229.2 238.4L229.6 238.4L230.1 238.4L230.6 238.4L231.1 238.4L231.6 238.4L232.1 238.4L232.6 238.4L233.1 238.4L233.5 238.4L234 238.4L234.5 238.3L235 238.1L235.5 237.8L236 237.2L236.5 236.2L237 234.7L237.4 232.6L237.9 229.9L238.4 227L238.9 224.4L239.4 222.5L239.9 221.8L240.4 222.4L240.9 224.2L241.3 226.8L241.8 229.7L242.3 232.4L242.8 234.5L243.3 236.1L243.8 237.2L244.3 237.8L244.8 238.1L245.2 238.3L245.7 238.4L246.2 238.4L246.7 238.4L247.2 238.4L247.7 238.4L248.2 238.4L248.7 238.4L249.1 238.4L249.6 238.4L250.1 238.4L250.6 238.4" fill="none" stroke="#485a7e" stroke-width="0.9" stroke-linejoin="round"/>
<line x1="222.9" y1="222.1" x2="222.9" y2="274.4" stroke="#505050" stroke-width="0.95" stroke-dasharray="3 3"/>
<rect x="196.4" y="218.6" width="54.8" height="55.8" fill="none" stroke="#333" stroke-width="1.05"/>
<path d="M196.4 274.4v2.4M199.1 274.4v1.3M200.8 274.4v1.3M201.9 274.4v1.3M202.8 274.4v1.3M203.5 274.4v1.3M204.1 274.4v1.3M204.6 274.4v1.3M205.1 274.4v1.3M205.5 274.4v2.4M208.3 274.4v1.3M209.9 274.4v1.3M211 274.4v1.3M211.9 274.4v1.3M212.6 274.4v1.3M213.3 274.4v1.3M213.8 274.4v1.3M214.2 274.4v1.3M214.7 274.4v2.4M217.4 274.4v1.3M219 274.4v1.3M220.2 274.4v1.3M221.1 274.4v1.3M221.8 274.4v1.3M222.4 274.4v1.3M222.9 274.4v1.3M223.4 274.4v1.3M223.8 274.4v2.4M226.5 274.4v1.3M228.2 274.4v1.3M229.3 274.4v1.3M230.2 274.4v1.3M230.9 274.4v1.3M231.5 274.4v1.3M232 274.4v1.3M232.5 274.4v1.3M232.9 274.4v2.4M235.7 274.4v1.3M237.3 274.4v1.3M238.4 274.4v1.3M239.3 274.4v1.3M240 274.4v1.3M240.7 274.4v1.3M241.2 274.4v1.3M241.6 274.4v1.3M242.1 274.4v2.4M244.8 274.4v1.3M246.4 274.4v1.3M247.6 274.4v1.3M248.5 274.4v1.3M249.2 274.4v1.3M249.8 274.4v1.3M250.3 274.4v1.3M250.8 274.4v1.3M251.2 274.4v2.4" stroke="#222" stroke-width="0.6" fill="none"/>
<text x="289.2" y="213.9" font-size="7.3" text-anchor="middle" textLength="25.9" lengthAdjust="spacingAndGlyphs">KOPT-K1</text>
<path d="M262.2 274L262.2 274L262.7 274L263.2 274L263.7 274L264.1 274L264.6 274L265.1 274L265.6 274L266.1 274L266.6 274L267.1 274L267.6 274L268 273.9L268.5 273.9L269 273.9L269.5 273.8L270 273.8L270.5 273.7L271 273.6L271.5 273.4L271.9 273.2L272.4 273L272.9 272.7L273.4 272.4L273.9 272L274.4 271.5L274.9 271L275.4 270.4L275.8 269.7L276.3 268.9L276.8 268.1L277.3 267.2L277.8 266.2L278.3 265.3L278.8 264.3L279.3 263.3L279.7 262.4L280.2 261.6L280.7 260.8L281.2 260.2L281.7 259.7L282.2 259.4L282.7 259.2L283.2 259.3L283.6 259.9L284.1 261L284.6 262.5L285.1 264.3L285.6 266.1L286.1 267.8L286.6 269.4L287.1 270.7L287.5 271.7L288 272.5L288.5 273L289 273.4L289.5 273.7L290 273.8L290.5 273.9L290.9 273.9L291.4 274L291.9 274L292.4 274L292.9 274L293.4 274L293.9 274L294.4 274L294.8 274L295.3 274L295.8 274L296.3 274L296.8 274L297.3 274L297.8 274L298.3 274L298.7 274L299.2 274L299.7 274L300.2 274L300.7 274L301.2 274L301.7 274L302.2 274L302.6 274L303.1 274L303.6 274L304.1 274L304.6 274L305.1 274L305.6 274L306.1 274L306.5 274L307 274L307.5 274L308 274L308.5 274L309 274L309.5 274L310 274L310.4 274L310.9 274L311.4 274L311.9 274L312.4 274L312.9 274L313.4 274L313.9 274L314.3 274L314.8 274L315.3 274L315.8 274L315.8 274Z" fill="rgba(210,210,218,0.5)" stroke="none"/>
<path d="M262.2 274L262.7 274L263.2 274L263.7 274L264.1 274L264.6 274L265.1 274L265.6 274L266.1 274L266.6 274L267.1 274L267.6 274L268 273.9L268.5 273.9L269 273.9L269.5 273.8L270 273.8L270.5 273.7L271 273.6L271.5 273.4L271.9 273.2L272.4 273L272.9 272.7L273.4 272.4L273.9 272L274.4 271.5L274.9 271L275.4 270.4L275.8 269.7L276.3 268.9L276.8 268.1L277.3 267.2L277.8 266.2L278.3 265.3L278.8 264.3L279.3 263.3L279.7 262.4L280.2 261.6L280.7 260.8L281.2 260.2L281.7 259.7L282.2 259.4L282.7 259.2L283.2 259.3L283.6 259.9L284.1 261L284.6 262.5L285.1 264.3L285.6 266.1L286.1 267.8L286.6 269.4L287.1 270.7L287.5 271.7L288 272.5L288.5 273L289 273.4L289.5 273.7L290 273.8L290.5 273.9L290.9 273.9L291.4 274L291.9 274L292.4 274L292.9 274L293.4 274L293.9 274L294.4 274L294.8 274L295.3 274L295.8 274L296.3 274L296.8 274L297.3 274L297.8 274L298.3 274L298.7 274L299.2 274L299.7 274L300.2 274L300.7 274L301.2 274L301.7 274L302.2 274L302.6 274L303.1 274L303.6 274L304.1 274L304.6 274L305.1 274L305.6 274L306.1 274L306.5 274L307 274L307.5 274L308 274L308.5 274L309 274L309.5 274L310 274L310.4 274L310.9 274L311.4 274L311.9 274L312.4 274L312.9 274L313.4 274L313.9 274L314.3 274L314.8 274L315.3 274L315.8 274" fill="none" stroke="#aaaab2" stroke-width="0.6" stroke-linejoin="round"/>
<path d="M262.2 265.5L262.2 265.5L262.7 265.5L263.2 265.5L263.7 265.5L264.1 265.5L264.6 265.5L265.1 265.5L265.6 265.5L266.1 265.5L266.6 265.5L267.1 265.5L267.6 265.5L268 265.5L268.5 265.5L269 265.5L269.5 265.5L270 265.5L270.5 265.5L271 265.5L271.5 265.5L271.9 265.5L272.4 265.5L272.9 265.5L273.4 265.5L273.9 265.5L274.4 265.5L274.9 265.5L275.4 265.5L275.8 265.5L276.3 265.5L276.8 265.5L277.3 265.5L277.8 265.5L278.3 265.4L278.8 265.4L279.3 265.4L279.7 265.4L280.2 265.3L280.7 265.3L281.2 265.2L281.7 265.1L282.2 265L282.7 264.9L283.2 264.8L283.6 264.6L284.1 264.4L284.6 264.2L285.1 263.9L285.6 263.6L286.1 263.2L286.6 262.8L287.1 262.3L287.5 261.7L288 261.2L288.5 260.5L289 259.8L289.5 259.1L290 258.3L290.5 257.5L290.9 256.7L291.4 255.9L291.9 255L292.4 254.2L292.9 253.4L293.4 252.7L293.9 252L294.4 251.5L294.8 250.9L295.3 250.5L295.8 250.2L296.3 250.1L296.8 250L297.3 250.4L297.8 251.4L298.3 253.1L298.7 255L299.2 257.1L299.7 259.1L300.2 260.8L300.7 262.3L301.2 263.4L301.7 264.2L302.2 264.7L302.6 265L303.1 265.3L303.6 265.4L304.1 265.4L304.6 265.5L305.1 265.5L305.6 265.5L306.1 265.5L306.5 265.5L307 265.5L307.5 265.5L308 265.5L308.5 265.5L309 265.5L309.5 265.5L310 265.5L310.4 265.5L310.9 265.5L311.4 265.5L311.9 265.5L312.4 265.5L312.9 265.5L313.4 265.5L313.9 265.5L314.3 265.5L314.8 265.5L315.3 265.5L315.8 265.5L315.8 265.5Z" fill="rgba(238,125,110,0.38)" stroke="none"/>
<path d="M262.2 265.5L262.7 265.5L263.2 265.5L263.7 265.5L264.1 265.5L264.6 265.5L265.1 265.5L265.6 265.5L266.1 265.5L266.6 265.5L267.1 265.5L267.6 265.5L268 265.5L268.5 265.5L269 265.5L269.5 265.5L270 265.5L270.5 265.5L271 265.5L271.5 265.5L271.9 265.5L272.4 265.5L272.9 265.5L273.4 265.5L273.9 265.5L274.4 265.5L274.9 265.5L275.4 265.5L275.8 265.5L276.3 265.5L276.8 265.5L277.3 265.5L277.8 265.5L278.3 265.4L278.8 265.4L279.3 265.4L279.7 265.4L280.2 265.3L280.7 265.3L281.2 265.2L281.7 265.1L282.2 265L282.7 264.9L283.2 264.8L283.6 264.6L284.1 264.4L284.6 264.2L285.1 263.9L285.6 263.6L286.1 263.2L286.6 262.8L287.1 262.3L287.5 261.7L288 261.2L288.5 260.5L289 259.8L289.5 259.1L290 258.3L290.5 257.5L290.9 256.7L291.4 255.9L291.9 255L292.4 254.2L292.9 253.4L293.4 252.7L293.9 252L294.4 251.5L294.8 250.9L295.3 250.5L295.8 250.2L296.3 250.1L296.8 250L297.3 250.4L297.8 251.4L298.3 253.1L298.7 255L299.2 257.1L299.7 259.1L300.2 260.8L300.7 262.3L301.2 263.4L301.7 264.2L302.2 264.7L302.6 265L303.1 265.3L303.6 265.4L304.1 265.4L304.6 265.5L305.1 265.5L305.6 265.5L306.1 265.5L306.5 265.5L307 265.5L307.5 265.5L308 265.5L308.5 265.5L309 265.5L309.5 265.5L310 265.5L310.4 265.5L310.9 265.5L311.4 265.5L311.9 265.5L312.4 265.5L312.9 265.5L313.4 265.5L313.9 265.5L314.3 265.5L314.8 265.5L315.3 265.5L315.8 265.5" fill="none" stroke="#bb3848" stroke-width="0.9" stroke-linejoin="round"/>
<path d="M262.2 256.3L262.2 256.3L262.7 256.3L263.2 256.3L263.7 256.3L264.1 256.3L264.6 256.3L265.1 256.3L265.6 256.3L266.1 256.3L266.6 256.3L267.1 256.3L267.6 256.3L268 256.3L268.5 256.3L269 256.3L269.5 256.3L270 256.3L270.5 256.3L271 256.3L271.5 256.3L271.9 256.3L272.4 256.3L272.9 256.3L273.4 256.3L273.9 256.3L274.4 256.3L274.9 256.3L275.4 256.3L275.8 256.3L276.3 256.3L276.8 256.3L277.3 256.3L277.8 256.3L278.3 256.3L278.8 256.3L279.3 256.3L279.7 256.3L280.2 256.3L280.7 256.3L281.2 256.3L281.7 256.3L282.2 256.3L282.7 256.3L283.2 256.3L283.6 256.3L284.1 256.3L284.6 256.3L285.1 256.3L285.6 256.3L286.1 256.3L286.6 256.3L287.1 256.3L287.5 256.3L288 256.3L288.5 256.3L289 256.3L289.5 256.3L290 256.3L290.5 256.3L290.9 256.3L291.4 256.3L291.9 256.3L292.4 256.3L292.9 256.3L293.4 256.3L293.9 256.3L294.4 256.3L294.8 256.3L295.3 256.3L295.8 256.3L296.3 256.3L296.8 256.3L297.3 256.3L297.8 256.3L298.3 256.3L298.7 256.2L299.2 256.1L299.7 255.8L300.2 255.3L300.7 254.5L301.2 253.3L301.7 251.5L302.2 249.2L302.6 246.5L303.1 243.9L303.6 241.6L304.1 240.1L304.6 239.7L305.1 240.5L305.6 242.4L306.1 244.9L306.5 247.6L307 250.1L307.5 252.2L308 253.8L308.5 254.9L309 255.5L309.5 255.9L310 256.1L310.4 256.2L310.9 256.3L311.4 256.3L311.9 256.3L312.4 256.3L312.9 256.3L313.4 256.3L313.9 256.3L314.3 256.3L314.8 256.3L315.3 256.3L315.8 256.3L315.8 256.3Z" fill="rgba(135,148,205,0.40)" stroke="none"/>
<path d="M262.2 256.3L262.7 256.3L263.2 256.3L263.7 256.3L264.1 256.3L264.6 256.3L265.1 256.3L265.6 256.3L266.1 256.3L266.6 256.3L267.1 256.3L267.6 256.3L268 256.3L268.5 256.3L269 256.3L269.5 256.3L270 256.3L270.5 256.3L271 256.3L271.5 256.3L271.9 256.3L272.4 256.3L272.9 256.3L273.4 256.3L273.9 256.3L274.4 256.3L274.9 256.3L275.4 256.3L275.8 256.3L276.3 256.3L276.8 256.3L277.3 256.3L277.8 256.3L278.3 256.3L278.8 256.3L279.3 256.3L279.7 256.3L280.2 256.3L280.7 256.3L281.2 256.3L281.7 256.3L282.2 256.3L282.7 256.3L283.2 256.3L283.6 256.3L284.1 256.3L284.6 256.3L285.1 256.3L285.6 256.3L286.1 256.3L286.6 256.3L287.1 256.3L287.5 256.3L288 256.3L288.5 256.3L289 256.3L289.5 256.3L290 256.3L290.5 256.3L290.9 256.3L291.4 256.3L291.9 256.3L292.4 256.3L292.9 256.3L293.4 256.3L293.9 256.3L294.4 256.3L294.8 256.3L295.3 256.3L295.8 256.3L296.3 256.3L296.8 256.3L297.3 256.3L297.8 256.3L298.3 256.3L298.7 256.2L299.2 256.1L299.7 255.8L300.2 255.3L300.7 254.5L301.2 253.3L301.7 251.5L302.2 249.2L302.6 246.5L303.1 243.9L303.6 241.6L304.1 240.1L304.6 239.7L305.1 240.5L305.6 242.4L306.1 244.9L306.5 247.6L307 250.1L307.5 252.2L308 253.8L308.5 254.9L309 255.5L309.5 255.9L310 256.1L310.4 256.2L310.9 256.3L311.4 256.3L311.9 256.3L312.4 256.3L312.9 256.3L313.4 256.3L313.9 256.3L314.3 256.3L314.8 256.3L315.3 256.3L315.8 256.3" fill="none" stroke="#485a7e" stroke-width="0.9" stroke-linejoin="round"/>
<path d="M262.2 247.1L262.2 247.1L262.7 247.1L263.2 247.1L263.7 247.1L264.1 247.1L264.6 247.1L265.1 247.1L265.6 247.1L266.1 247.1L266.6 247.1L267.1 247.1L267.6 247.1L268 247.1L268.5 247.1L269 247.1L269.5 247.1L270 247.1L270.5 247.1L271 247.1L271.5 247.1L271.9 247.1L272.4 247.1L272.9 247.1L273.4 247.1L273.9 247.1L274.4 247.1L274.9 247.1L275.4 247.1L275.8 247.1L276.3 247.1L276.8 247.1L277.3 247.1L277.8 247.1L278.3 247.1L278.8 247.1L279.3 247.1L279.7 247.1L280.2 247.1L280.7 247.1L281.2 247.1L281.7 247L282.2 247L282.7 247L283.2 246.9L283.6 246.9L284.1 246.8L284.6 246.7L285.1 246.6L285.6 246.4L286.1 246.2L286.6 245.9L287.1 245.6L287.5 245.2L288 244.7L288.5 244.2L289 243.5L289.5 242.8L290 242L290.5 241.2L290.9 240.2L291.4 239.2L291.9 238.2L292.4 237.2L292.9 236.1L293.4 235.1L293.9 234.2L294.4 233.3L294.8 232.5L295.3 231.9L295.8 231.5L296.3 231.2L296.8 231.1L297.3 231.5L297.8 232.6L298.3 234.3L298.7 236.3L299.2 238.4L299.7 240.5L300.2 242.3L300.7 243.8L301.2 244.9L301.7 245.7L302.2 246.3L302.6 246.6L303.1 246.8L303.6 247L304.1 247L304.6 247.1L305.1 247.1L305.6 247.1L306.1 247.1L306.5 247.1L307 247.1L307.5 247.1L308 247.1L308.5 247.1L309 247.1L309.5 247.1L310 247.1L310.4 247.1L310.9 247.1L311.4 247.1L311.9 247.1L312.4 247.1L312.9 247.1L313.4 247.1L313.9 247.1L314.3 247.1L314.8 247.1L315.3 247.1L315.8 247.1L315.8 247.1Z" fill="rgba(238,125,110,0.38)" stroke="none"/>
<path d="M262.2 247.1L262.7 247.1L263.2 247.1L263.7 247.1L264.1 247.1L264.6 247.1L265.1 247.1L265.6 247.1L266.1 247.1L266.6 247.1L267.1 247.1L267.6 247.1L268 247.1L268.5 247.1L269 247.1L269.5 247.1L270 247.1L270.5 247.1L271 247.1L271.5 247.1L271.9 247.1L272.4 247.1L272.9 247.1L273.4 247.1L273.9 247.1L274.4 247.1L274.9 247.1L275.4 247.1L275.8 247.1L276.3 247.1L276.8 247.1L277.3 247.1L277.8 247.1L278.3 247.1L278.8 247.1L279.3 247.1L279.7 247.1L280.2 247.1L280.7 247.1L281.2 247.1L281.7 247L282.2 247L282.7 247L283.2 246.9L283.6 246.9L284.1 246.8L284.6 246.7L285.1 246.6L285.6 246.4L286.1 246.2L286.6 245.9L287.1 245.6L287.5 245.2L288 244.7L288.5 244.2L289 243.5L289.5 242.8L290 242L290.5 241.2L290.9 240.2L291.4 239.2L291.9 238.2L292.4 237.2L292.9 236.1L293.4 235.1L293.9 234.2L294.4 233.3L294.8 232.5L295.3 231.9L295.8 231.5L296.3 231.2L296.8 231.1L297.3 231.5L297.8 232.6L298.3 234.3L298.7 236.3L299.2 238.4L299.7 240.5L300.2 242.3L300.7 243.8L301.2 244.9L301.7 245.7L302.2 246.3L302.6 246.6L303.1 246.8L303.6 247L304.1 247L304.6 247.1L305.1 247.1L305.6 247.1L306.1 247.1L306.5 247.1L307 247.1L307.5 247.1L308 247.1L308.5 247.1L309 247.1L309.5 247.1L310 247.1L310.4 247.1L310.9 247.1L311.4 247.1L311.9 247.1L312.4 247.1L312.9 247.1L313.4 247.1L313.9 247.1L314.3 247.1L314.8 247.1L315.3 247.1L315.8 247.1" fill="none" stroke="#bb3848" stroke-width="0.9" stroke-linejoin="round"/>
<path d="M262.2 238.4L262.2 238.4L262.7 238.4L263.2 238.4L263.7 238.4L264.1 238.4L264.6 238.4L265.1 238.4L265.6 238.4L266.1 238.4L266.6 238.4L267.1 238.4L267.6 238.4L268 238.4L268.5 238.4L269 238.4L269.5 238.4L270 238.4L270.5 238.4L271 238.4L271.5 238.4L271.9 238.4L272.4 238.4L272.9 238.4L273.4 238.4L273.9 238.4L274.4 238.4L274.9 238.4L275.4 238.4L275.8 238.4L276.3 238.4L276.8 238.4L277.3 238.4L277.8 238.4L278.3 238.4L278.8 238.4L279.3 238.4L279.7 238.4L280.2 238.4L280.7 238.4L281.2 238.4L281.7 238.4L282.2 238.4L282.7 238.4L283.2 238.4L283.6 238.4L284.1 238.4L284.6 238.4L285.1 238.4L285.6 238.4L286.1 238.4L286.6 238.4L287.1 238.4L287.5 238.4L288 238.4L288.5 238.4L289 238.4L289.5 238.4L290 238.4L290.5 238.4L290.9 238.4L291.4 238.4L291.9 238.4L292.4 238.4L292.9 238.4L293.4 238.4L293.9 238.4L294.4 238.4L294.8 238.4L295.3 238.4L295.8 238.4L296.3 238.4L296.8 238.4L297.3 238.4L297.8 238.3L298.3 238.2L298.7 237.9L299.2 237.4L299.7 236.6L300.2 235.3L300.7 233.5L301.2 231.1L301.7 228.5L302.2 225.8L302.6 223.5L303.1 222.1L303.6 221.8L304.1 222.7L304.6 224.6L305.1 227.1L305.6 229.8L306.1 232.3L306.5 234.4L307 236L307.5 237L308 237.7L308.5 238L309 238.2L309.5 238.3L310 238.4L310.4 238.4L310.9 238.4L311.4 238.4L311.9 238.4L312.4 238.4L312.9 238.4L313.4 238.4L313.9 238.4L314.3 238.4L314.8 238.4L315.3 238.4L315.8 238.4L315.8 238.4Z" fill="rgba(135,148,205,0.40)" stroke="none"/>
<path d="M262.2 238.4L262.7 238.4L263.2 238.4L263.7 238.4L264.1 238.4L264.6 238.4L265.1 238.4L265.6 238.4L266.1 238.4L266.6 238.4L267.1 238.4L267.6 238.4L268 238.4L268.5 238.4L269 238.4L269.5 238.4L270 238.4L270.5 238.4L271 238.4L271.5 238.4L271.9 238.4L272.4 238.4L272.9 238.4L273.4 238.4L273.9 238.4L274.4 238.4L274.9 238.4L275.4 238.4L275.8 238.4L276.3 238.4L276.8 238.4L277.3 238.4L277.8 238.4L278.3 238.4L278.8 238.4L279.3 238.4L279.7 238.4L280.2 238.4L280.7 238.4L281.2 238.4L281.7 238.4L282.2 238.4L282.7 238.4L283.2 238.4L283.6 238.4L284.1 238.4L284.6 238.4L285.1 238.4L285.6 238.4L286.1 238.4L286.6 238.4L287.1 238.4L287.5 238.4L288 238.4L288.5 238.4L289 238.4L289.5 238.4L290 238.4L290.5 238.4L290.9 238.4L291.4 238.4L291.9 238.4L292.4 238.4L292.9 238.4L293.4 238.4L293.9 238.4L294.4 238.4L294.8 238.4L295.3 238.4L295.8 238.4L296.3 238.4L296.8 238.4L297.3 238.4L297.8 238.3L298.3 238.2L298.7 237.9L299.2 237.4L299.7 236.6L300.2 235.3L300.7 233.5L301.2 231.1L301.7 228.5L302.2 225.8L302.6 223.5L303.1 222.1L303.6 221.8L304.1 222.7L304.6 224.6L305.1 227.1L305.6 229.8L306.1 232.3L306.5 234.4L307 236L307.5 237L308 237.7L308.5 238L309 238.2L309.5 238.3L310 238.4L310.4 238.4L310.9 238.4L311.4 238.4L311.9 238.4L312.4 238.4L312.9 238.4L313.4 238.4L313.9 238.4L314.3 238.4L314.8 238.4L315.3 238.4L315.8 238.4" fill="none" stroke="#485a7e" stroke-width="0.9" stroke-linejoin="round"/>
<line x1="288.5" y1="222.1" x2="288.5" y2="274.4" stroke="#505050" stroke-width="0.95" stroke-dasharray="3 3"/>
<rect x="261.6" y="218.6" width="54.8" height="55.8" fill="none" stroke="#333" stroke-width="1.05"/>
<path d="M261.6 274.4v2.4M264.3 274.4v1.3M266 274.4v1.3M267.1 274.4v1.3M268 274.4v1.3M268.7 274.4v1.3M269.3 274.4v1.3M269.8 274.4v1.3M270.3 274.4v1.3M270.7 274.4v2.4M273.5 274.4v1.3M275.1 274.4v1.3M276.2 274.4v1.3M277.1 274.4v1.3M277.8 274.4v1.3M278.5 274.4v1.3M279 274.4v1.3M279.4 274.4v1.3M279.9 274.4v2.4M282.6 274.4v1.3M284.2 274.4v1.3M285.4 274.4v1.3M286.3 274.4v1.3M287 274.4v1.3M287.6 274.4v1.3M288.1 274.4v1.3M288.6 274.4v1.3M289 274.4v2.4M291.7 274.4v1.3M293.4 274.4v1.3M294.5 274.4v1.3M295.4 274.4v1.3M296.1 274.4v1.3M296.7 274.4v1.3M297.2 274.4v1.3M297.7 274.4v1.3M298.1 274.4v2.4M300.9 274.4v1.3M302.5 274.4v1.3M303.6 274.4v1.3M304.5 274.4v1.3M305.2 274.4v1.3M305.9 274.4v1.3M306.4 274.4v1.3M306.8 274.4v1.3M307.3 274.4v2.4M310 274.4v1.3M311.6 274.4v1.3M312.8 274.4v1.3M313.7 274.4v1.3M314.4 274.4v1.3M315 274.4v1.3M315.5 274.4v1.3M316 274.4v1.3M316.4 274.4v2.4" stroke="#222" stroke-width="0.6" fill="none"/>
<text x="354.2" y="213.9" font-size="7.3" text-anchor="middle" textLength="34.3" lengthAdjust="spacingAndGlyphs">CCRF-CEM</text>
<path d="M327.2 274L327.2 274L327.7 274L328.2 274L328.7 274L329.1 274L329.6 274L330.1 274L330.6 274L331.1 274L331.6 274L332.1 274L332.6 274L333 274L333.5 274L334 274L334.5 273.9L335 273.9L335.5 273.9L336 273.8L336.5 273.8L336.9 273.7L337.4 273.6L337.9 273.4L338.4 273.2L338.9 273L339.4 272.7L339.9 272.3L340.4 271.8L340.8 271.3L341.3 270.7L341.8 270L342.3 269.2L342.8 268.3L343.3 267.4L343.8 266.4L344.3 265.3L344.7 264.3L345.2 263.3L345.7 262.3L346.2 261.4L346.7 260.7L347.2 260L347.7 259.6L348.2 259.3L348.6 259.2L349.1 259.6L349.6 260.6L350.1 262L350.6 263.8L351.1 265.7L351.6 267.5L352.1 269.2L352.5 270.6L353 271.7L353.5 272.5L354 273.1L354.5 273.4L355 273.7L355.5 273.8L355.9 273.9L356.4 274L356.9 274L357.4 274L357.9 274L358.4 274L358.9 274L359.4 274L359.8 274L360.3 274L360.8 274L361.3 274L361.8 274L362.3 274L362.8 274L363.3 274L363.7 274L364.2 274L364.7 274L365.2 274L365.7 274L366.2 274L366.7 274L367.2 274L367.6 274L368.1 274L368.6 274L369.1 274L369.6 274L370.1 274L370.6 274L371.1 274L371.5 274L372 274L372.5 274L373 274L373.5 274L374 274L374.5 274L375 274L375.4 274L375.9 274L376.4 274L376.9 274L377.4 274L377.9 274L378.4 274L378.9 274L379.3 274L379.8 274L380.3 274L380.8 274L380.8 274Z" fill="rgba(210,210,218,0.5)" stroke="none"/>
<path d="M327.2 274L327.7 274L328.2 274L328.7 274L329.1 274L329.6 274L330.1 274L330.6 274L331.1 274L331.6 274L332.1 274L332.6 274L333 274L333.5 274L334 274L334.5 273.9L335 273.9L335.5 273.9L336 273.8L336.5 273.8L336.9 273.7L337.4 273.6L337.9 273.4L338.4 273.2L338.9 273L339.4 272.7L339.9 272.3L340.4 271.8L340.8 271.3L341.3 270.7L341.8 270L342.3 269.2L342.8 268.3L343.3 267.4L343.8 266.4L344.3 265.3L344.7 264.3L345.2 263.3L345.7 262.3L346.2 261.4L346.7 260.7L347.2 260L347.7 259.6L348.2 259.3L348.6 259.2L349.1 259.6L349.6 260.6L350.1 262L350.6 263.8L351.1 265.7L351.6 267.5L352.1 269.2L352.5 270.6L353 271.7L353.5 272.5L354 273.1L354.5 273.4L355 273.7L355.5 273.8L355.9 273.9L356.4 274L356.9 274L357.4 274L357.9 274L358.4 274L358.9 274L359.4 274L359.8 274L360.3 274L360.8 274L361.3 274L361.8 274L362.3 274L362.8 274L363.3 274L363.7 274L364.2 274L364.7 274L365.2 274L365.7 274L366.2 274L366.7 274L367.2 274L367.6 274L368.1 274L368.6 274L369.1 274L369.6 274L370.1 274L370.6 274L371.1 274L371.5 274L372 274L372.5 274L373 274L373.5 274L374 274L374.5 274L375 274L375.4 274L375.9 274L376.4 274L376.9 274L377.4 274L377.9 274L378.4 274L378.9 274L379.3 274L379.8 274L380.3 274L380.8 274" fill="none" stroke="#aaaab2" stroke-width="0.6" stroke-linejoin="round"/>
<path d="M327.2 265.5L327.2 265.5L327.7 265.5L328.2 265.5L328.7 265.5L329.1 265.5L329.6 265.5L330.1 265.5L330.6 265.5L331.1 265.5L331.6 265.5L332.1 265.5L332.6 265.5L333 265.5L333.5 265.5L334 265.5L334.5 265.5L335 265.5L335.5 265.5L336 265.5L336.5 265.5L336.9 265.5L337.4 265.5L337.9 265.5L338.4 265.5L338.9 265.5L339.4 265.5L339.9 265.5L340.4 265.5L340.8 265.5L341.3 265.5L341.8 265.5L342.3 265.5L342.8 265.5L343.3 265.5L343.8 265.5L344.3 265.5L344.7 265.5L345.2 265.5L345.7 265.5L346.2 265.5L346.7 265.5L347.2 265.5L347.7 265.5L348.2 265.5L348.6 265.5L349.1 265.5L349.6 265.5L350.1 265.5L350.6 265.4L351.1 265.4L351.6 265.4L352.1 265.3L352.5 265.2L353 265L353.5 264.8L354 264.6L354.5 264.3L355 263.9L355.5 263.5L355.9 263L356.4 262.4L356.9 261.8L357.4 261.2L357.9 260.6L358.4 260L358.9 259.5L359.4 259.1L359.8 258.7L360.3 258.5L360.8 258.3L361.3 258.1L361.8 257.9L362.3 257.6L362.8 257.2L363.3 256.5L363.7 255.7L364.2 254.6L364.7 253.5L365.2 252.3L365.7 251.2L366.2 250.4L366.7 250L367.2 250L367.6 250.6L368.1 251.7L368.6 253.2L369.1 254.9L369.6 256.8L370.1 258.6L370.6 260.3L371.1 261.7L371.5 262.8L372 263.7L372.5 264.3L373 264.8L373.5 265.1L374 265.3L374.5 265.4L375 265.4L375.4 265.5L375.9 265.5L376.4 265.5L376.9 265.5L377.4 265.5L377.9 265.5L378.4 265.5L378.9 265.5L379.3 265.5L379.8 265.5L380.3 265.5L380.8 265.5L380.8 265.5Z" fill="rgba(238,125,110,0.38)" stroke="none"/>
<path d="M327.2 265.5L327.7 265.5L328.2 265.5L328.7 265.5L329.1 265.5L329.6 265.5L330.1 265.5L330.6 265.5L331.1 265.5L331.6 265.5L332.1 265.5L332.6 265.5L333 265.5L333.5 265.5L334 265.5L334.5 265.5L335 265.5L335.5 265.5L336 265.5L336.5 265.5L336.9 265.5L337.4 265.5L337.9 265.5L338.4 265.5L338.9 265.5L339.4 265.5L339.9 265.5L340.4 265.5L340.8 265.5L341.3 265.5L341.8 265.5L342.3 265.5L342.8 265.5L343.3 265.5L343.8 265.5L344.3 265.5L344.7 265.5L345.2 265.5L345.7 265.5L346.2 265.5L346.7 265.5L347.2 265.5L347.7 265.5L348.2 265.5L348.6 265.5L349.1 265.5L349.6 265.5L350.1 265.5L350.6 265.4L351.1 265.4L351.6 265.4L352.1 265.3L352.5 265.2L353 265L353.5 264.8L354 264.6L354.5 264.3L355 263.9L355.5 263.5L355.9 263L356.4 262.4L356.9 261.8L357.4 261.2L357.9 260.6L358.4 260L358.9 259.5L359.4 259.1L359.8 258.7L360.3 258.5L360.8 258.3L361.3 258.1L361.8 257.9L362.3 257.6L362.8 257.2L363.3 256.5L363.7 255.7L364.2 254.6L364.7 253.5L365.2 252.3L365.7 251.2L366.2 250.4L366.7 250L367.2 250L367.6 250.6L368.1 251.7L368.6 253.2L369.1 254.9L369.6 256.8L370.1 258.6L370.6 260.3L371.1 261.7L371.5 262.8L372 263.7L372.5 264.3L373 264.8L373.5 265.1L374 265.3L374.5 265.4L375 265.4L375.4 265.5L375.9 265.5L376.4 265.5L376.9 265.5L377.4 265.5L377.9 265.5L378.4 265.5L378.9 265.5L379.3 265.5L379.8 265.5L380.3 265.5L380.8 265.5" fill="none" stroke="#bb3848" stroke-width="0.9" stroke-linejoin="round"/>
<path d="M327.2 256.3L327.2 256.3L327.7 256.3L328.2 256.3L328.7 256.3L329.1 256.3L329.6 256.3L330.1 256.3L330.6 256.3L331.1 256.3L331.6 256.3L332.1 256.3L332.6 256.3L333 256.3L333.5 256.3L334 256.3L334.5 256.3L335 256.3L335.5 256.3L336 256.3L336.5 256.3L336.9 256.3L337.4 256.3L337.9 256.3L338.4 256.3L338.9 256.3L339.4 256.3L339.9 256.3L340.4 256.3L340.8 256.3L341.3 256.3L341.8 256.3L342.3 256.3L342.8 256.3L343.3 256.3L343.8 256.3L344.3 256.3L344.7 256.3L345.2 256.3L345.7 256.3L346.2 256.3L346.7 256.3L347.2 256.3L347.7 256.3L348.2 256.3L348.6 256.3L349.1 256.3L349.6 256.3L350.1 256.3L350.6 256.3L351.1 256.3L351.6 256.3L352.1 256.3L352.5 256.3L353 256.3L353.5 256.3L354 256.3L354.5 256.3L355 256.3L355.5 256.3L355.9 256.3L356.4 256.3L356.9 256.3L357.4 256.3L357.9 256.3L358.4 256.3L358.9 256.3L359.4 256.3L359.8 256.3L360.3 256.3L360.8 256.3L361.3 256.3L361.8 256.3L362.3 256.3L362.8 256.3L363.3 256.3L363.7 256.3L364.2 256.3L364.7 256.3L365.2 256.3L365.7 256.3L366.2 256.3L366.7 256.3L367.2 256.3L367.6 256.3L368.1 256.2L368.6 256.1L369.1 255.7L369.6 255L370.1 253.8L370.6 251.8L371.1 249.1L371.5 246L372 242.8L372.5 240.5L373 239.7L373.5 240.6L374 242.9L374.5 246L375 249.2L375.4 251.9L375.9 253.8L376.4 255.1L376.9 255.7L377.4 256.1L377.9 256.2L378.4 256.3L378.9 256.3L379.3 256.3L379.8 256.3L380.3 256.3L380.8 256.3L380.8 256.3Z" fill="rgba(135,148,205,0.40)" stroke="none"/>
<path d="M327.2 256.3L327.7 256.3L328.2 256.3L328.7 256.3L329.1 256.3L329.6 256.3L330.1 256.3L330.6 256.3L331.1 256.3L331.6 256.3L332.1 256.3L332.6 256.3L333 256.3L333.5 256.3L334 256.3L334.5 256.3L335 256.3L335.5 256.3L336 256.3L336.5 256.3L336.9 256.3L337.4 256.3L337.9 256.3L338.4 256.3L338.9 256.3L339.4 256.3L339.9 256.3L340.4 256.3L340.8 256.3L341.3 256.3L341.8 256.3L342.3 256.3L342.8 256.3L343.3 256.3L343.8 256.3L344.3 256.3L344.7 256.3L345.2 256.3L345.7 256.3L346.2 256.3L346.7 256.3L347.2 256.3L347.7 256.3L348.2 256.3L348.6 256.3L349.1 256.3L349.6 256.3L350.1 256.3L350.6 256.3L351.1 256.3L351.6 256.3L352.1 256.3L352.5 256.3L353 256.3L353.5 256.3L354 256.3L354.5 256.3L355 256.3L355.5 256.3L355.9 256.3L356.4 256.3L356.9 256.3L357.4 256.3L357.9 256.3L358.4 256.3L358.9 256.3L359.4 256.3L359.8 256.3L360.3 256.3L360.8 256.3L361.3 256.3L361.8 256.3L362.3 256.3L362.8 256.3L363.3 256.3L363.7 256.3L364.2 256.3L364.7 256.3L365.2 256.3L365.7 256.3L366.2 256.3L366.7 256.3L367.2 256.3L367.6 256.3L368.1 256.2L368.6 256.1L369.1 255.7L369.6 255L370.1 253.8L370.6 251.8L371.1 249.1L371.5 246L372 242.8L372.5 240.5L373 239.7L373.5 240.6L374 242.9L374.5 246L375 249.2L375.4 251.9L375.9 253.8L376.4 255.1L376.9 255.7L377.4 256.1L377.9 256.2L378.4 256.3L378.9 256.3L379.3 256.3L379.8 256.3L380.3 256.3L380.8 256.3" fill="none" stroke="#485a7e" stroke-width="0.9" stroke-linejoin="round"/>
<path d="M327.2 247.1L327.2 247.1L327.7 247.1L328.2 247.1L328.7 247.1L329.1 247.1L329.6 247.1L330.1 247.1L330.6 247.1L331.1 247.1L331.6 247.1L332.1 247.1L332.6 247.1L333 247.1L333.5 247.1L334 247.1L334.5 247.1L335 247.1L335.5 247.1L336 247.1L336.5 247.1L336.9 247.1L337.4 247.1L337.9 247.1L338.4 247.1L338.9 247.1L339.4 247.1L339.9 247.1L340.4 247.1L340.8 247.1L341.3 247.1L341.8 247.1L342.3 247.1L342.8 247.1L343.3 247.1L343.8 247.1L344.3 247.1L344.7 247.1L345.2 247.1L345.7 247.1L346.2 247.1L346.7 247.1L347.2 247.1L347.7 247.1L348.2 247.1L348.6 247.1L349.1 247.1L349.6 247.1L350.1 247.1L350.6 247.1L351.1 247.1L351.6 247.1L352.1 247.1L352.5 247.1L353 247.1L353.5 247.1L354 247L354.5 247L355 247L355.5 246.9L355.9 246.8L356.4 246.7L356.9 246.6L357.4 246.4L357.9 246.1L358.4 245.8L358.9 245.4L359.4 245L359.8 244.4L360.3 243.7L360.8 243L361.3 242.1L361.8 241.1L362.3 240L362.8 238.9L363.3 237.7L363.7 236.5L364.2 235.4L364.7 234.3L365.2 233.3L365.7 232.5L366.2 231.8L366.7 231.3L367.2 231.1L367.6 231.2L368.1 232.1L368.6 233.8L369.1 236L369.6 238.3L370.1 240.6L370.6 242.5L371.1 244.1L371.5 245.2L372 246L372.5 246.5L373 246.8L373.5 246.9L374 247L374.5 247.1L375 247.1L375.4 247.1L375.9 247.1L376.4 247.1L376.9 247.1L377.4 247.1L377.9 247.1L378.4 247.1L378.9 247.1L379.3 247.1L379.8 247.1L380.3 247.1L380.8 247.1L380.8 247.1Z" fill="rgba(238,125,110,0.38)" stroke="none"/>
<path d="M327.2 247.1L327.7 247.1L328.2 247.1L328.7 247.1L329.1 247.1L329.6 247.1L330.1 247.1L330.6 247.1L331.1 247.1L331.6 247.1L332.1 247.1L332.6 247.1L333 247.1L333.5 247.1L334 247.1L334.5 247.1L335 247.1L335.5 247.1L336 247.1L336.5 247.1L336.9 247.1L337.4 247.1L337.9 247.1L338.4 247.1L338.9 247.1L339.4 247.1L339.9 247.1L340.4 247.1L340.8 247.1L341.3 247.1L341.8 247.1L342.3 247.1L342.8 247.1L343.3 247.1L343.8 247.1L344.3 247.1L344.7 247.1L345.2 247.1L345.7 247.1L346.2 247.1L346.7 247.1L347.2 247.1L347.7 247.1L348.2 247.1L348.6 247.1L349.1 247.1L349.6 247.1L350.1 247.1L350.6 247.1L351.1 247.1L351.6 247.1L352.1 247.1L352.5 247.1L353 247.1L353.5 247.1L354 247L354.5 247L355 247L355.5 246.9L355.9 246.8L356.4 246.7L356.9 246.6L357.4 246.4L357.9 246.1L358.4 245.8L358.9 245.4L359.4 245L359.8 244.4L360.3 243.7L360.8 243L361.3 242.1L361.8 241.1L362.3 240L362.8 238.9L363.3 237.7L363.7 236.5L364.2 235.4L364.7 234.3L365.2 233.3L365.7 232.5L366.2 231.8L366.7 231.3L367.2 231.1L367.6 231.2L368.1 232.1L368.6 233.8L369.1 236L369.6 238.3L370.1 240.6L370.6 242.5L371.1 244.1L371.5 245.2L372 246L372.5 246.5L373 246.8L373.5 246.9L374 247L374.5 247.1L375 247.1L375.4 247.1L375.9 247.1L376.4 247.1L376.9 247.1L377.4 247.1L377.9 247.1L378.4 247.1L378.9 247.1L379.3 247.1L379.8 247.1L380.3 247.1L380.8 247.1" fill="none" stroke="#bb3848" stroke-width="0.9" stroke-linejoin="round"/>
<path d="M327.2 238.4L327.2 238.4L327.7 238.4L328.2 238.4L328.7 238.4L329.1 238.4L329.6 238.4L330.1 238.4L330.6 238.4L331.1 238.4L331.6 238.4L332.1 238.4L332.6 238.4L333 238.4L333.5 238.4L334 238.4L334.5 238.4L335 238.4L335.5 238.4L336 238.4L336.5 238.4L336.9 238.4L337.4 238.4L337.9 238.4L338.4 238.4L338.9 238.4L339.4 238.4L339.9 238.4L340.4 238.4L340.8 238.4L341.3 238.4L341.8 238.4L342.3 238.4L342.8 238.4L343.3 238.4L343.8 238.4L344.3 238.4L344.7 238.4L345.2 238.4L345.7 238.4L346.2 238.4L346.7 238.4L347.2 238.4L347.7 238.4L348.2 238.4L348.6 238.4L349.1 238.4L349.6 238.4L350.1 238.4L350.6 238.4L351.1 238.4L351.6 238.4L352.1 238.4L352.5 238.4L353 238.4L353.5 238.4L354 238.4L354.5 238.4L355 238.4L355.5 238.4L355.9 238.4L356.4 238.4L356.9 238.4L357.4 238.4L357.9 238.4L358.4 238.4L358.9 238.4L359.4 238.4L359.8 238.4L360.3 238.4L360.8 238.4L361.3 238.4L361.8 238.4L362.3 238.4L362.8 238.4L363.3 238.4L363.7 238.4L364.2 238.4L364.7 238.4L365.2 238.4L365.7 238.4L366.2 238.4L366.7 238.4L367.2 238.4L367.6 238.4L368.1 238.4L368.6 238.3L369.1 238.1L369.6 237.7L370.1 237L370.6 235.6L371.1 233.5L371.5 230.7L372 227.4L372.5 224.4L373 222.3L373.5 221.8L374 223L374.5 225.5L375 228.7L375.4 231.8L375.9 234.4L376.4 236.2L376.9 237.3L377.4 237.9L377.9 238.2L378.4 238.3L378.9 238.4L379.3 238.4L379.8 238.4L380.3 238.4L380.8 238.4L380.8 238.4Z" fill="rgba(135,148,205,0.40)" stroke="none"/>
<path d="M327.2 238.4L327.7 238.4L328.2 238.4L328.7 238.4L329.1 238.4L329.6 238.4L330.1 238.4L330.6 238.4L331.1 238.4L331.6 238.4L332.1 238.4L332.6 238.4L333 238.4L333.5 238.4L334 238.4L334.5 238.4L335 238.4L335.5 238.4L336 238.4L336.5 238.4L336.9 238.4L337.4 238.4L337.9 238.4L338.4 238.4L338.9 238.4L339.4 238.4L339.9 238.4L340.4 238.4L340.8 238.4L341.3 238.4L341.8 238.4L342.3 238.4L342.8 238.4L343.3 238.4L343.8 238.4L344.3 238.4L344.7 238.4L345.2 238.4L345.7 238.4L346.2 238.4L346.7 238.4L347.2 238.4L347.7 238.4L348.2 238.4L348.6 238.4L349.1 238.4L349.6 238.4L350.1 238.4L350.6 238.4L351.1 238.4L351.6 238.4L352.1 238.4L352.5 238.4L353 238.4L353.5 238.4L354 238.4L354.5 238.4L355 238.4L355.5 238.4L355.9 238.4L356.4 238.4L356.9 238.4L357.4 238.4L357.9 238.4L358.4 238.4L358.9 238.4L359.4 238.4L359.8 238.4L360.3 238.4L360.8 238.4L361.3 238.4L361.8 238.4L362.3 238.4L362.8 238.4L363.3 238.4L363.7 238.4L364.2 238.4L364.7 238.4L365.2 238.4L365.7 238.4L366.2 238.4L366.7 238.4L367.2 238.4L367.6 238.4L368.1 238.4L368.6 238.3L369.1 238.1L369.6 237.7L370.1 237L370.6 235.6L371.1 233.5L371.5 230.7L372 227.4L372.5 224.4L373 222.3L373.5 221.8L374 223L374.5 225.5L375 228.7L375.4 231.8L375.9 234.4L376.4 236.2L376.9 237.3L377.4 237.9L377.9 238.2L378.4 238.3L378.9 238.4L379.3 238.4L379.8 238.4L380.3 238.4L380.8 238.4" fill="none" stroke="#485a7e" stroke-width="0.9" stroke-linejoin="round"/>
<line x1="354.6" y1="222.1" x2="354.6" y2="274.4" stroke="#505050" stroke-width="0.95" stroke-dasharray="3 3"/>
<rect x="326.6" y="218.6" width="54.8" height="55.8" fill="none" stroke="#333" stroke-width="1.05"/>
<path d="M326.6 274.4v2.4M329.3 274.4v1.3M331 274.4v1.3M332.1 274.4v1.3M333 274.4v1.3M333.7 274.4v1.3M334.3 274.4v1.3M334.8 274.4v1.3M335.3 274.4v1.3M335.7 274.4v2.4M338.5 274.4v1.3M340.1 274.4v1.3M341.2 274.4v1.3M342.1 274.4v1.3M342.8 274.4v1.3M343.5 274.4v1.3M344 274.4v1.3M344.4 274.4v1.3M344.9 274.4v2.4M347.6 274.4v1.3M349.2 274.4v1.3M350.4 274.4v1.3M351.3 274.4v1.3M352 274.4v1.3M352.6 274.4v1.3M353.1 274.4v1.3M353.6 274.4v1.3M354 274.4v2.4M356.7 274.4v1.3M358.4 274.4v1.3M359.5 274.4v1.3M360.4 274.4v1.3M361.1 274.4v1.3M361.7 274.4v1.3M362.2 274.4v1.3M362.7 274.4v1.3M363.1 274.4v2.4M365.9 274.4v1.3M367.5 274.4v1.3M368.6 274.4v1.3M369.5 274.4v1.3M370.2 274.4v1.3M370.9 274.4v1.3M371.4 274.4v1.3M371.8 274.4v1.3M372.3 274.4v2.4M375 274.4v1.3M376.6 274.4v1.3M377.8 274.4v1.3M378.7 274.4v1.3M379.4 274.4v1.3M380 274.4v1.3M380.5 274.4v1.3M381 274.4v1.3M381.4 274.4v2.4" stroke="#222" stroke-width="0.6" fill="none"/>
<text x="420.1" y="213.9" font-size="7.3" text-anchor="middle" textLength="19.8" lengthAdjust="spacingAndGlyphs">TALL-1</text>
<path d="M393.1 274L393.1 274L393.6 274L394.1 274L394.6 274L395 274L395.5 274L396 274L396.5 274L397 274L397.5 274L398 274L398.5 274L398.9 274L399.4 273.9L399.9 273.9L400.4 273.9L400.9 273.8L401.4 273.8L401.9 273.7L402.4 273.6L402.8 273.4L403.3 273.2L403.8 273L404.3 272.7L404.8 272.4L405.3 272L405.8 271.5L406.3 271L406.7 270.4L407.2 269.7L407.7 268.9L408.2 268.1L408.7 267.2L409.2 266.2L409.7 265.3L410.2 264.3L410.6 263.3L411.1 262.4L411.6 261.6L412.1 260.8L412.6 260.2L413.1 259.7L413.6 259.4L414.1 259.2L414.5 259.2L415 259.8L415.5 260.8L416 262.2L416.5 263.9L417 265.6L417.5 267.3L418 268.9L418.4 270.2L418.9 271.3L419.4 272.2L419.9 272.8L420.4 273.2L420.9 273.5L421.4 273.7L421.8 273.8L422.3 273.9L422.8 274L423.3 274L423.8 274L424.3 274L424.8 274L425.3 274L425.7 274L426.2 274L426.7 274L427.2 274L427.7 274L428.2 274L428.7 274L429.2 274L429.6 274L430.1 274L430.6 274L431.1 274L431.6 274L432.1 274L432.6 274L433.1 274L433.5 274L434 274L434.5 274L435 274L435.5 274L436 274L436.5 274L437 274L437.4 274L437.9 274L438.4 274L438.9 274L439.4 274L439.9 274L440.4 274L440.9 274L441.3 274L441.8 274L442.3 274L442.8 274L443.3 274L443.8 274L444.3 274L444.8 274L445.2 274L445.7 274L446.2 274L446.7 274L446.7 274Z" fill="rgba(210,210,218,0.5)" stroke="none"/>
<path d="M393.1 274L393.6 274L394.1 274L394.6 274L395 274L395.5 274L396 274L396.5 274L397 274L397.5 274L398 274L398.5 274L398.9 274L399.4 273.9L399.9 273.9L400.4 273.9L400.9 273.8L401.4 273.8L401.9 273.7L402.4 273.6L402.8 273.4L403.3 273.2L403.8 273L404.3 272.7L404.8 272.4L405.3 272L405.8 271.5L406.3 271L406.7 270.4L407.2 269.7L407.7 268.9L408.2 268.1L408.7 267.2L409.2 266.2L409.7 265.3L410.2 264.3L410.6 263.3L411.1 262.4L411.6 261.6L412.1 260.8L412.6 260.2L413.1 259.7L413.6 259.4L414.1 259.2L414.5 259.2L415 259.8L415.5 260.8L416 262.2L416.5 263.9L417 265.6L417.5 267.3L418 268.9L418.4 270.2L418.9 271.3L419.4 272.2L419.9 272.8L420.4 273.2L420.9 273.5L421.4 273.7L421.8 273.8L422.3 273.9L422.8 274L423.3 274L423.8 274L424.3 274L424.8 274L425.3 274L425.7 274L426.2 274L426.7 274L427.2 274L427.7 274L428.2 274L428.7 274L429.2 274L429.6 274L430.1 274L430.6 274L431.1 274L431.6 274L432.1 274L432.6 274L433.1 274L433.5 274L434 274L434.5 274L435 274L435.5 274L436 274L436.5 274L437 274L437.4 274L437.9 274L438.4 274L438.9 274L439.4 274L439.9 274L440.4 274L440.9 274L441.3 274L441.8 274L442.3 274L442.8 274L443.3 274L443.8 274L444.3 274L444.8 274L445.2 274L445.7 274L446.2 274L446.7 274" fill="none" stroke="#aaaab2" stroke-width="0.6" stroke-linejoin="round"/>
<path d="M393.1 265.5L393.1 265.5L393.6 265.5L394.1 265.5L394.6 265.5L395 265.5L395.5 265.5L396 265.5L396.5 265.5L397 265.5L397.5 265.5L398 265.5L398.5 265.5L398.9 265.5L399.4 265.5L399.9 265.5L400.4 265.5L400.9 265.5L401.4 265.5L401.9 265.5L402.4 265.5L402.8 265.5L403.3 265.5L403.8 265.5L404.3 265.5L404.8 265.5L405.3 265.5L405.8 265.5L406.3 265.5L406.7 265.5L407.2 265.5L407.7 265.5L408.2 265.5L408.7 265.5L409.2 265.4L409.7 265.4L410.2 265.4L410.6 265.4L411.1 265.3L411.6 265.3L412.1 265.2L412.6 265.1L413.1 265L413.6 264.9L414.1 264.8L414.5 264.6L415 264.5L415.5 264.2L416 264L416.5 263.7L417 263.3L417.5 263L418 262.5L418.4 262.1L418.9 261.5L419.4 261L419.9 260.3L420.4 259.7L420.9 259L421.4 258.2L421.8 257.5L422.3 256.7L422.8 255.9L423.3 255.1L423.8 254.3L424.3 253.6L424.8 252.9L425.3 252.2L425.7 251.6L426.2 251.1L426.7 250.7L427.2 250.4L427.7 250.1L428.2 250L428.7 250L429.2 250.4L429.6 251.2L430.1 252.4L430.6 253.8L431.1 255.4L431.6 257.1L432.1 258.7L432.6 260.1L433.1 261.4L433.5 262.4L434 263.3L434.5 264L435 264.5L435.5 264.8L436 265.1L436.5 265.2L437 265.3L437.4 265.4L437.9 265.4L438.4 265.5L438.9 265.5L439.4 265.5L439.9 265.5L440.4 265.5L440.9 265.5L441.3 265.5L441.8 265.5L442.3 265.5L442.8 265.5L443.3 265.5L443.8 265.5L444.3 265.5L444.8 265.5L445.2 265.5L445.7 265.5L446.2 265.5L446.7 265.5L446.7 265.5Z" fill="rgba(238,125,110,0.38)" stroke="none"/>
<path d="M393.1 265.5L393.6 265.5L394.1 265.5L394.6 265.5L395 265.5L395.5 265.5L396 265.5L396.5 265.5L397 265.5L397.5 265.5L398 265.5L398.5 265.5L398.9 265.5L399.4 265.5L399.9 265.5L400.4 265.5L400.9 265.5L401.4 265.5L401.9 265.5L402.4 265.5L402.8 265.5L403.3 265.5L403.8 265.5L404.3 265.5L404.8 265.5L405.3 265.5L405.8 265.5L406.3 265.5L406.7 265.5L407.2 265.5L407.7 265.5L408.2 265.5L408.7 265.5L409.2 265.4L409.7 265.4L410.2 265.4L410.6 265.4L411.1 265.3L411.6 265.3L412.1 265.2L412.6 265.1L413.1 265L413.6 264.9L414.1 264.8L414.5 264.6L415 264.5L415.5 264.2L416 264L416.5 263.7L417 263.3L417.5 263L418 262.5L418.4 262.1L418.9 261.5L419.4 261L419.9 260.3L420.4 259.7L420.9 259L421.4 258.2L421.8 257.5L422.3 256.7L422.8 255.9L423.3 255.1L423.8 254.3L424.3 253.6L424.8 252.9L425.3 252.2L425.7 251.6L426.2 251.1L426.7 250.7L427.2 250.4L427.7 250.1L428.2 250L428.7 250L429.2 250.4L429.6 251.2L430.1 252.4L430.6 253.8L431.1 255.4L431.6 257.1L432.1 258.7L432.6 260.1L433.1 261.4L433.5 262.4L434 263.3L434.5 264L435 264.5L435.5 264.8L436 265.1L436.5 265.2L437 265.3L437.4 265.4L437.9 265.4L438.4 265.5L438.9 265.5L439.4 265.5L439.9 265.5L440.4 265.5L440.9 265.5L441.3 265.5L441.8 265.5L442.3 265.5L442.8 265.5L443.3 265.5L443.8 265.5L444.3 265.5L444.8 265.5L445.2 265.5L445.7 265.5L446.2 265.5L446.7 265.5" fill="none" stroke="#bb3848" stroke-width="0.9" stroke-linejoin="round"/>
<path d="M393.1 256.3L393.1 256.3L393.6 256.3L394.1 256.3L394.6 256.3L395 256.3L395.5 256.3L396 256.3L396.5 256.3L397 256.3L397.5 256.3L398 256.3L398.5 256.3L398.9 256.3L399.4 256.3L399.9 256.3L400.4 256.3L400.9 256.3L401.4 256.3L401.9 256.3L402.4 256.3L402.8 256.3L403.3 256.3L403.8 256.3L404.3 256.3L404.8 256.3L405.3 256.3L405.8 256.3L406.3 256.3L406.7 256.3L407.2 256.3L407.7 256.3L408.2 256.3L408.7 256.3L409.2 256.3L409.7 256.3L410.2 256.3L410.6 256.3L411.1 256.3L411.6 256.3L412.1 256.3L412.6 256.3L413.1 256.3L413.6 256.3L414.1 256.3L414.5 256.3L415 256.3L415.5 256.3L416 256.3L416.5 256.3L417 256.3L417.5 256.3L418 256.3L418.4 256.3L418.9 256.3L419.4 256.3L419.9 256.3L420.4 256.3L420.9 256.3L421.4 256.3L421.8 256.3L422.3 256.3L422.8 256.3L423.3 256.3L423.8 256.3L424.3 256.3L424.8 256.3L425.3 256.3L425.7 256.3L426.2 256.3L426.7 256.3L427.2 256.3L427.7 256.3L428.2 256.3L428.7 256.3L429.2 256.3L429.6 256.3L430.1 256.3L430.6 256.2L431.1 256.1L431.6 256L432.1 255.6L432.6 254.9L433.1 253.9L433.5 252.4L434 250.3L434.5 247.8L435 245.1L435.5 242.5L436 240.6L436.5 239.7L437 240L437.4 241.4L437.9 243.6L438.4 246.3L438.9 249L439.4 251.3L439.9 253.1L440.4 254.4L440.9 255.3L441.3 255.8L441.8 256.1L442.3 256.2L442.8 256.3L443.3 256.3L443.8 256.3L444.3 256.3L444.8 256.3L445.2 256.3L445.7 256.3L446.2 256.3L446.7 256.3L446.7 256.3Z" fill="rgba(135,148,205,0.40)" stroke="none"/>
<path d="M393.1 256.3L393.6 256.3L394.1 256.3L394.6 256.3L395 256.3L395.5 256.3L396 256.3L396.5 256.3L397 256.3L397.5 256.3L398 256.3L398.5 256.3L398.9 256.3L399.4 256.3L399.9 256.3L400.4 256.3L400.9 256.3L401.4 256.3L401.9 256.3L402.4 256.3L402.8 256.3L403.3 256.3L403.8 256.3L404.3 256.3L404.8 256.3L405.3 256.3L405.8 256.3L406.3 256.3L406.7 256.3L407.2 256.3L407.7 256.3L408.2 256.3L408.7 256.3L409.2 256.3L409.7 256.3L410.2 256.3L410.6 256.3L411.1 256.3L411.6 256.3L412.1 256.3L412.6 256.3L413.1 256.3L413.6 256.3L414.1 256.3L414.5 256.3L415 256.3L415.5 256.3L416 256.3L416.5 256.3L417 256.3L417.5 256.3L418 256.3L418.4 256.3L418.9 256.3L419.4 256.3L419.9 256.3L420.4 256.3L420.9 256.3L421.4 256.3L421.8 256.3L422.3 256.3L422.8 256.3L423.3 256.3L423.8 256.3L424.3 256.3L424.8 256.3L425.3 256.3L425.7 256.3L426.2 256.3L426.7 256.3L427.2 256.3L427.7 256.3L428.2 256.3L428.7 256.3L429.2 256.3L429.6 256.3L430.1 256.3L430.6 256.2L431.1 256.1L431.6 256L432.1 255.6L432.6 254.9L433.1 253.9L433.5 252.4L434 250.3L434.5 247.8L435 245.1L435.5 242.5L436 240.6L436.5 239.7L437 240L437.4 241.4L437.9 243.6L438.4 246.3L438.9 249L439.4 251.3L439.9 253.1L440.4 254.4L440.9 255.3L441.3 255.8L441.8 256.1L442.3 256.2L442.8 256.3L443.3 256.3L443.8 256.3L444.3 256.3L444.8 256.3L445.2 256.3L445.7 256.3L446.2 256.3L446.7 256.3" fill="none" stroke="#485a7e" stroke-width="0.9" stroke-linejoin="round"/>
<path d="M393.1 247.1L393.1 247.1L393.6 247.1L394.1 247.1L394.6 247.1L395 247.1L395.5 247.1L396 247.1L396.5 247.1L397 247.1L397.5 247.1L398 247.1L398.5 247.1L398.9 247.1L399.4 247.1L399.9 247.1L400.4 247.1L400.9 247.1L401.4 247.1L401.9 247.1L402.4 247.1L402.8 247.1L403.3 247.1L403.8 247.1L404.3 247.1L404.8 247.1L405.3 247.1L405.8 247.1L406.3 247.1L406.7 247.1L407.2 247.1L407.7 247.1L408.2 247.1L408.7 247.1L409.2 247.1L409.7 247.1L410.2 247.1L410.6 247.1L411.1 247.1L411.6 247.1L412.1 247.1L412.6 247.1L413.1 247.1L413.6 247.1L414.1 247.1L414.5 247.1L415 247.1L415.5 247.1L416 247.1L416.5 247L417 247L417.5 247L418 246.9L418.4 246.9L418.9 246.8L419.4 246.7L419.9 246.5L420.4 246.3L420.9 246.1L421.4 245.8L421.8 245.4L422.3 245L422.8 244.5L423.3 243.9L423.8 243.2L424.3 242.4L424.8 241.5L425.3 240.5L425.7 239.5L426.2 238.4L426.7 237.3L427.2 236.2L427.7 235.2L428.2 234.2L428.7 233.3L429.2 232.5L429.6 231.9L430.1 231.4L430.6 231.1L431.1 231.1L431.6 231.7L432.1 233.1L432.6 235L433.1 237.2L433.5 239.4L434 241.4L434.5 243.2L435 244.5L435.5 245.5L436 246.1L436.5 246.6L437 246.8L437.4 247L437.9 247L438.4 247.1L438.9 247.1L439.4 247.1L439.9 247.1L440.4 247.1L440.9 247.1L441.3 247.1L441.8 247.1L442.3 247.1L442.8 247.1L443.3 247.1L443.8 247.1L444.3 247.1L444.8 247.1L445.2 247.1L445.7 247.1L446.2 247.1L446.7 247.1L446.7 247.1Z" fill="rgba(238,125,110,0.38)" stroke="none"/>
<path d="M393.1 247.1L393.6 247.1L394.1 247.1L394.6 247.1L395 247.1L395.5 247.1L396 247.1L396.5 247.1L397 247.1L397.5 247.1L398 247.1L398.5 247.1L398.9 247.1L399.4 247.1L399.9 247.1L400.4 247.1L400.9 247.1L401.4 247.1L401.9 247.1L402.4 247.1L402.8 247.1L403.3 247.1L403.8 247.1L404.3 247.1L404.8 247.1L405.3 247.1L405.8 247.1L406.3 247.1L406.7 247.1L407.2 247.1L407.7 247.1L408.2 247.1L408.7 247.1L409.2 247.1L409.7 247.1L410.2 247.1L410.6 247.1L411.1 247.1L411.6 247.1L412.1 247.1L412.6 247.1L413.1 247.1L413.6 247.1L414.1 247.1L414.5 247.1L415 247.1L415.5 247.1L416 247.1L416.5 247L417 247L417.5 247L418 246.9L418.4 246.9L418.9 246.8L419.4 246.7L419.9 246.5L420.4 246.3L420.9 246.1L421.4 245.8L421.8 245.4L422.3 245L422.8 244.5L423.3 243.9L423.8 243.2L424.3 242.4L424.8 241.5L425.3 240.5L425.7 239.5L426.2 238.4L426.7 237.3L427.2 236.2L427.7 235.2L428.2 234.2L428.7 233.3L429.2 232.5L429.6 231.9L430.1 231.4L430.6 231.1L431.1 231.1L431.6 231.7L432.1 233.1L432.6 235L433.1 237.2L433.5 239.4L434 241.4L434.5 243.2L435 244.5L435.5 245.5L436 246.1L436.5 246.6L437 246.8L437.4 247L437.9 247L438.4 247.1L438.9 247.1L439.4 247.1L439.9 247.1L440.4 247.1L440.9 247.1L441.3 247.1L441.8 247.1L442.3 247.1L442.8 247.1L443.3 247.1L443.8 247.1L444.3 247.1L444.8 247.1L445.2 247.1L445.7 247.1L446.2 247.1L446.7 247.1" fill="none" stroke="#bb3848" stroke-width="0.9" stroke-linejoin="round"/>
<path d="M393.1 238.4L393.1 238.4L393.6 238.4L394.1 238.4L394.6 238.4L395 238.4L395.5 238.4L396 238.4L396.5 238.4L397 238.4L397.5 238.4L398 238.4L398.5 238.4L398.9 238.4L399.4 238.4L399.9 238.4L400.4 238.4L400.9 238.4L401.4 238.4L401.9 238.4L402.4 238.4L402.8 238.4L403.3 238.4L403.8 238.4L404.3 238.4L404.8 238.4L405.3 238.4L405.8 238.4L406.3 238.4L406.7 238.4L407.2 238.4L407.7 238.4L408.2 238.4L408.7 238.4L409.2 238.4L409.7 238.4L410.2 238.4L410.6 238.4L411.1 238.4L411.6 238.4L412.1 238.4L412.6 238.4L413.1 238.4L413.6 238.4L414.1 238.4L414.5 238.4L415 238.4L415.5 238.4L416 238.4L416.5 238.4L417 238.4L417.5 238.4L418 238.4L418.4 238.4L418.9 238.4L419.4 238.4L419.9 238.4L420.4 238.4L420.9 238.4L421.4 238.4L421.8 238.4L422.3 238.4L422.8 238.4L423.3 238.4L423.8 238.4L424.3 238.4L424.8 238.4L425.3 238.4L425.7 238.4L426.2 238.4L426.7 238.4L427.2 238.4L427.7 238.4L428.2 238.4L428.7 238.4L429.2 238.4L429.6 238.4L430.1 238.4L430.6 238.4L431.1 238.3L431.6 238.2L432.1 237.9L432.6 237.5L433.1 236.7L433.5 235.5L434 233.7L434.5 231.5L435 228.9L435.5 226.2L436 223.8L436.5 222.3L437 221.8L437.4 222.5L437.9 224.3L438.4 226.8L438.9 229.5L439.4 232L439.9 234.2L440.4 235.8L440.9 236.9L441.3 237.6L441.8 238L442.3 238.2L442.8 238.3L443.3 238.4L443.8 238.4L444.3 238.4L444.8 238.4L445.2 238.4L445.7 238.4L446.2 238.4L446.7 238.4L446.7 238.4Z" fill="rgba(135,148,205,0.40)" stroke="none"/>
<path d="M393.1 238.4L393.6 238.4L394.1 238.4L394.6 238.4L395 238.4L395.5 238.4L396 238.4L396.5 238.4L397 238.4L397.5 238.4L398 238.4L398.5 238.4L398.9 238.4L399.4 238.4L399.9 238.4L400.4 238.4L400.9 238.4L401.4 238.4L401.9 238.4L402.4 238.4L402.8 238.4L403.3 238.4L403.8 238.4L404.3 238.4L404.8 238.4L405.3 238.4L405.8 238.4L406.3 238.4L406.7 238.4L407.2 238.4L407.7 238.4L408.2 238.4L408.7 238.4L409.2 238.4L409.7 238.4L410.2 238.4L410.6 238.4L411.1 238.4L411.6 238.4L412.1 238.4L412.6 238.4L413.1 238.4L413.6 238.4L414.1 238.4L414.5 238.4L415 238.4L415.5 238.4L416 238.4L416.5 238.4L417 238.4L417.5 238.4L418 238.4L418.4 238.4L418.9 238.4L419.4 238.4L419.9 238.4L420.4 238.4L420.9 238.4L421.4 238.4L421.8 238.4L422.3 238.4L422.8 238.4L423.3 238.4L423.8 238.4L424.3 238.4L424.8 238.4L425.3 238.4L425.7 238.4L426.2 238.4L426.7 238.4L427.2 238.4L427.7 238.4L428.2 238.4L428.7 238.4L429.2 238.4L429.6 238.4L430.1 238.4L430.6 238.4L431.1 238.3L431.6 238.2L432.1 237.9L432.6 237.5L433.1 236.7L433.5 235.5L434 233.7L434.5 231.5L435 228.9L435.5 226.2L436 223.8L436.5 222.3L437 221.8L437.4 222.5L437.9 224.3L438.4 226.8L438.9 229.5L439.4 232L439.9 234.2L440.4 235.8L440.9 236.9L441.3 237.6L441.8 238L442.3 238.2L442.8 238.3L443.3 238.4L443.8 238.4L444.3 238.4L444.8 238.4L445.2 238.4L445.7 238.4L446.2 238.4L446.7 238.4" fill="none" stroke="#485a7e" stroke-width="0.9" stroke-linejoin="round"/>
<line x1="420.6" y1="222.1" x2="420.6" y2="274.4" stroke="#505050" stroke-width="0.95" stroke-dasharray="3 3"/>
<rect x="392.5" y="218.6" width="54.8" height="55.8" fill="none" stroke="#333" stroke-width="1.05"/>
<path d="M392.5 274.4v2.4M395.2 274.4v1.3M396.9 274.4v1.3M398 274.4v1.3M398.9 274.4v1.3M399.6 274.4v1.3M400.2 274.4v1.3M400.7 274.4v1.3M401.2 274.4v1.3M401.6 274.4v2.4M404.4 274.4v1.3M406 274.4v1.3M407.1 274.4v1.3M408 274.4v1.3M408.7 274.4v1.3M409.4 274.4v1.3M409.9 274.4v1.3M410.3 274.4v1.3M410.8 274.4v2.4M413.5 274.4v1.3M415.1 274.4v1.3M416.3 274.4v1.3M417.2 274.4v1.3M417.9 274.4v1.3M418.5 274.4v1.3M419 274.4v1.3M419.5 274.4v1.3M419.9 274.4v2.4M422.6 274.4v1.3M424.3 274.4v1.3M425.4 274.4v1.3M426.3 274.4v1.3M427 274.4v1.3M427.6 274.4v1.3M428.1 274.4v1.3M428.6 274.4v1.3M429 274.4v2.4M431.8 274.4v1.3M433.4 274.4v1.3M434.5 274.4v1.3M435.4 274.4v1.3M436.1 274.4v1.3M436.8 274.4v1.3M437.3 274.4v1.3M437.7 274.4v1.3M438.2 274.4v2.4M440.9 274.4v1.3M442.5 274.4v1.3M443.7 274.4v1.3M444.6 274.4v1.3M445.3 274.4v1.3M445.9 274.4v1.3M446.4 274.4v1.3M446.9 274.4v1.3M447.3 274.4v2.4" stroke="#222" stroke-width="0.6" fill="none"/>
<text x="485.3" y="213.9" font-size="7.3" text-anchor="middle" textLength="26.2" lengthAdjust="spacingAndGlyphs">HPB-ALL</text>
<path d="M458.3 274L458.3 274L458.8 274L459.3 274L459.8 274L460.2 274L460.7 274L461.2 274L461.7 274L462.2 274L462.7 274L463.2 274L463.7 274L464.1 274L464.6 274L465.1 273.9L465.6 273.9L466.1 273.9L466.6 273.8L467.1 273.7L467.6 273.6L468 273.5L468.5 273.3L469 273L469.5 272.7L470 272.3L470.5 271.8L471 271.2L471.5 270.5L471.9 269.7L472.4 268.7L472.9 267.7L473.4 266.6L473.9 265.5L474.4 264.4L474.9 263.2L475.4 262.2L475.8 261.2L476.3 260.4L476.8 259.8L477.3 259.4L477.8 259.2L478.3 259.4L478.8 260.3L479.3 261.7L479.7 263.6L480.2 265.5L480.7 267.5L481.2 269.2L481.7 270.6L482.2 271.8L482.7 272.6L483.2 273.1L483.6 273.5L484.1 273.7L484.6 273.9L485.1 273.9L485.6 274L486.1 274L486.6 274L487 274L487.5 274L488 274L488.5 274L489 274L489.5 274L490 274L490.5 274L490.9 274L491.4 274L491.9 274L492.4 274L492.9 274L493.4 274L493.9 274L494.4 274L494.8 274L495.3 274L495.8 274L496.3 274L496.8 274L497.3 274L497.8 274L498.3 274L498.7 274L499.2 274L499.7 274L500.2 274L500.7 274L501.2 274L501.7 274L502.2 274L502.6 274L503.1 274L503.6 274L504.1 274L504.6 274L505.1 274L505.6 274L506.1 274L506.5 274L507 274L507.5 274L508 274L508.5 274L509 274L509.5 274L510 274L510.4 274L510.9 274L511.4 274L511.9 274L511.9 274Z" fill="rgba(210,210,218,0.5)" stroke="none"/>
<path d="M458.3 274L458.8 274L459.3 274L459.8 274L460.2 274L460.7 274L461.2 274L461.7 274L462.2 274L462.7 274L463.2 274L463.7 274L464.1 274L464.6 274L465.1 273.9L465.6 273.9L466.1 273.9L466.6 273.8L467.1 273.7L467.6 273.6L468 273.5L468.5 273.3L469 273L469.5 272.7L470 272.3L470.5 271.8L471 271.2L471.5 270.5L471.9 269.7L472.4 268.7L472.9 267.7L473.4 266.6L473.9 265.5L474.4 264.4L474.9 263.2L475.4 262.2L475.8 261.2L476.3 260.4L476.8 259.8L477.3 259.4L477.8 259.2L478.3 259.4L478.8 260.3L479.3 261.7L479.7 263.6L480.2 265.5L480.7 267.5L481.2 269.2L481.7 270.6L482.2 271.8L482.7 272.6L483.2 273.1L483.6 273.5L484.1 273.7L484.6 273.9L485.1 273.9L485.6 274L486.1 274L486.6 274L487 274L487.5 274L488 274L488.5 274L489 274L489.5 274L490 274L490.5 274L490.9 274L491.4 274L491.9 274L492.4 274L492.9 274L493.4 274L493.9 274L494.4 274L494.8 274L495.3 274L495.8 274L496.3 274L496.8 274L497.3 274L497.8 274L498.3 274L498.7 274L499.2 274L499.7 274L500.2 274L500.7 274L501.2 274L501.7 274L502.2 274L502.6 274L503.1 274L503.6 274L504.1 274L504.6 274L505.1 274L505.6 274L506.1 274L506.5 274L507 274L507.5 274L508 274L508.5 274L509 274L509.5 274L510 274L510.4 274L510.9 274L511.4 274L511.9 274" fill="none" stroke="#aaaab2" stroke-width="0.6" stroke-linejoin="round"/>
<path d="M458.3 265.5L458.3 265.5L458.8 265.5L459.3 265.5L459.8 265.5L460.2 265.5L460.7 265.5L461.2 265.5L461.7 265.5L462.2 265.5L462.7 265.5L463.2 265.5L463.7 265.5L464.1 265.5L464.6 265.5L465.1 265.5L465.6 265.5L466.1 265.5L466.6 265.5L467.1 265.5L467.6 265.5L468 265.5L468.5 265.5L469 265.5L469.5 265.5L470 265.5L470.5 265.4L471 265.4L471.5 265.4L471.9 265.3L472.4 265.3L472.9 265.2L473.4 265.1L473.9 264.9L474.4 264.8L474.9 264.6L475.4 264.4L475.8 264.2L476.3 263.9L476.8 263.6L477.3 263.2L477.8 262.8L478.3 262.5L478.8 262L479.3 261.6L479.7 261.2L480.2 260.7L480.7 260.3L481.2 259.9L481.7 259.5L482.2 259.1L482.7 258.6L483.2 258.2L483.6 257.8L484.1 257.5L484.6 257.1L485.1 256.7L485.6 256.3L486.1 255.9L486.6 255.5L487 255.2L487.5 254.9L488 254.6L488.5 254.4L489 254.2L489.5 254L490 253.9L490.5 253.9L490.9 253.8L491.4 253.8L491.9 253.8L492.4 253.7L492.9 253.5L493.4 253.3L493.9 252.9L494.4 252.5L494.8 252L495.3 251.4L495.8 250.9L496.3 250.4L496.8 250.1L497.3 250L497.8 250.1L498.3 250.5L498.7 251.6L499.2 253.3L499.7 255.4L500.2 257.6L500.7 259.6L501.2 261.4L501.7 262.8L502.2 263.8L502.6 264.5L503.1 264.9L503.6 265.2L504.1 265.3L504.6 265.4L505.1 265.5L505.6 265.5L506.1 265.5L506.5 265.5L507 265.5L507.5 265.5L508 265.5L508.5 265.5L509 265.5L509.5 265.5L510 265.5L510.4 265.5L510.9 265.5L511.4 265.5L511.9 265.5L511.9 265.5Z" fill="rgba(238,125,110,0.38)" stroke="none"/>
<path d="M458.3 265.5L458.8 265.5L459.3 265.5L459.8 265.5L460.2 265.5L460.7 265.5L461.2 265.5L461.7 265.5L462.2 265.5L462.7 265.5L463.2 265.5L463.7 265.5L464.1 265.5L464.6 265.5L465.1 265.5L465.6 265.5L466.1 265.5L466.6 265.5L467.1 265.5L467.6 265.5L468 265.5L468.5 265.5L469 265.5L469.5 265.5L470 265.5L470.5 265.4L471 265.4L471.5 265.4L471.9 265.3L472.4 265.3L472.9 265.2L473.4 265.1L473.9 264.9L474.4 264.8L474.9 264.6L475.4 264.4L475.8 264.2L476.3 263.9L476.8 263.6L477.3 263.2L477.8 262.8L478.3 262.5L478.8 262L479.3 261.6L479.7 261.2L480.2 260.7L480.7 260.3L481.2 259.9L481.7 259.5L482.2 259.1L482.7 258.6L483.2 258.2L483.6 257.8L484.1 257.5L484.6 257.1L485.1 256.7L485.6 256.3L486.1 255.9L486.6 255.5L487 255.2L487.5 254.9L488 254.6L488.5 254.4L489 254.2L489.5 254L490 253.9L490.5 253.9L490.9 253.8L491.4 253.8L491.9 253.8L492.4 253.7L492.9 253.5L493.4 253.3L493.9 252.9L494.4 252.5L494.8 252L495.3 251.4L495.8 250.9L496.3 250.4L496.8 250.1L497.3 250L497.8 250.1L498.3 250.5L498.7 251.6L499.2 253.3L499.7 255.4L500.2 257.6L500.7 259.6L501.2 261.4L501.7 262.8L502.2 263.8L502.6 264.5L503.1 264.9L503.6 265.2L504.1 265.3L504.6 265.4L505.1 265.5L505.6 265.5L506.1 265.5L506.5 265.5L507 265.5L507.5 265.5L508 265.5L508.5 265.5L509 265.5L509.5 265.5L510 265.5L510.4 265.5L510.9 265.5L511.4 265.5L511.9 265.5" fill="none" stroke="#bb3848" stroke-width="0.9" stroke-linejoin="round"/>
<path d="M458.3 256.3L458.3 256.3L458.8 256.3L459.3 256.3L459.8 256.3L460.2 256.3L460.7 256.3L461.2 256.3L461.7 256.3L462.2 256.3L462.7 256.3L463.2 256.3L463.7 256.3L464.1 256.3L464.6 256.3L465.1 256.3L465.6 256.3L466.1 256.3L466.6 256.3L467.1 256.3L467.6 256.3L468 256.3L468.5 256.3L469 256.3L469.5 256.3L470 256.3L470.5 256.3L471 256.3L471.5 256.3L471.9 256.3L472.4 256.3L472.9 256.3L473.4 256.3L473.9 256.3L474.4 256.3L474.9 256.3L475.4 256.3L475.8 256.3L476.3 256.3L476.8 256.3L477.3 256.3L477.8 256.3L478.3 256.3L478.8 256.3L479.3 256.3L479.7 256.3L480.2 256.3L480.7 256.3L481.2 256.3L481.7 256.3L482.2 256.3L482.7 256.3L483.2 256.3L483.6 256.3L484.1 256.3L484.6 256.3L485.1 256.3L485.6 256.3L486.1 256.3L486.6 256.3L487 256.3L487.5 256.3L488 256.3L488.5 256.3L489 256.3L489.5 256.3L490 256.3L490.5 256.3L490.9 256.3L491.4 256.3L491.9 256.3L492.4 256.3L492.9 256.3L493.4 256.3L493.9 256.3L494.4 256.3L494.8 256.3L495.3 256.3L495.8 256.3L496.3 256.3L496.8 256.3L497.3 256.3L497.8 256.3L498.3 256.3L498.7 256.1L499.2 255.8L499.7 255.1L500.2 253.7L500.7 251.3L501.2 247.9L501.7 244.2L502.2 241.1L502.6 239.7L503.1 240.6L503.6 243.3L504.1 247L504.6 250.5L505.1 253.2L505.6 254.8L506.1 255.7L506.5 256.1L507 256.2L507.5 256.3L508 256.3L508.5 256.3L509 256.3L509.5 256.3L510 256.3L510.4 256.3L510.9 256.3L511.4 256.3L511.9 256.3L511.9 256.3Z" fill="rgba(135,148,205,0.40)" stroke="none"/>
<path d="M458.3 256.3L458.8 256.3L459.3 256.3L459.8 256.3L460.2 256.3L460.7 256.3L461.2 256.3L461.7 256.3L462.2 256.3L462.7 256.3L463.2 256.3L463.7 256.3L464.1 256.3L464.6 256.3L465.1 256.3L465.6 256.3L466.1 256.3L466.6 256.3L467.1 256.3L467.6 256.3L468 256.3L468.5 256.3L469 256.3L469.5 256.3L470 256.3L470.5 256.3L471 256.3L471.5 256.3L471.9 256.3L472.4 256.3L472.9 256.3L473.4 256.3L473.9 256.3L474.4 256.3L474.9 256.3L475.4 256.3L475.8 256.3L476.3 256.3L476.8 256.3L477.3 256.3L477.8 256.3L478.3 256.3L478.8 256.3L479.3 256.3L479.7 256.3L480.2 256.3L480.7 256.3L481.2 256.3L481.7 256.3L482.2 256.3L482.7 256.3L483.2 256.3L483.6 256.3L484.1 256.3L484.6 256.3L485.1 256.3L485.6 256.3L486.1 256.3L486.6 256.3L487 256.3L487.5 256.3L488 256.3L488.5 256.3L489 256.3L489.5 256.3L490 256.3L490.5 256.3L490.9 256.3L491.4 256.3L491.9 256.3L492.4 256.3L492.9 256.3L493.4 256.3L493.9 256.3L494.4 256.3L494.8 256.3L495.3 256.3L495.8 256.3L496.3 256.3L496.8 256.3L497.3 256.3L497.8 256.3L498.3 256.3L498.7 256.1L499.2 255.8L499.7 255.1L500.2 253.7L500.7 251.3L501.2 247.9L501.7 244.2L502.2 241.1L502.6 239.7L503.1 240.6L503.6 243.3L504.1 247L504.6 250.5L505.1 253.2L505.6 254.8L506.1 255.7L506.5 256.1L507 256.2L507.5 256.3L508 256.3L508.5 256.3L509 256.3L509.5 256.3L510 256.3L510.4 256.3L510.9 256.3L511.4 256.3L511.9 256.3" fill="none" stroke="#485a7e" stroke-width="0.9" stroke-linejoin="round"/>
<path d="M458.3 247.1L458.3 247.1L458.8 247.1L459.3 247.1L459.8 247.1L460.2 247.1L460.7 247.1L461.2 247.1L461.7 247.1L462.2 247.1L462.7 247.1L463.2 247.1L463.7 247.1L464.1 247.1L464.6 247.1L465.1 247.1L465.6 247.1L466.1 247.1L466.6 247.1L467.1 247.1L467.6 247.1L468 247.1L468.5 247.1L469 247.1L469.5 247.1L470 247.1L470.5 247.1L471 247.1L471.5 247.1L471.9 247.1L472.4 247L472.9 247L473.4 247L473.9 246.9L474.4 246.9L474.9 246.8L475.4 246.7L475.8 246.6L476.3 246.4L476.8 246.2L477.3 246L477.8 245.7L478.3 245.5L478.8 245.1L479.3 244.8L479.7 244.4L480.2 244L480.7 243.5L481.2 243.1L481.7 242.6L482.2 242.2L482.7 241.7L483.2 241.2L483.6 240.7L484.1 240.3L484.6 239.8L485.1 239.4L485.6 239L486.1 238.6L486.6 238.2L487 237.8L487.5 237.4L488 237.1L488.5 236.8L489 236.5L489.5 236.2L490 236L490.5 235.8L490.9 235.6L491.4 235.5L491.9 235.3L492.4 235.2L492.9 235L493.4 234.9L493.9 234.6L494.4 234.3L494.8 233.9L495.3 233.4L495.8 232.9L496.3 232.4L496.8 231.9L497.3 231.5L497.8 231.2L498.3 231.1L498.7 231.2L499.2 231.7L499.7 233L500.2 235L500.7 237.4L501.2 239.9L501.7 242L502.2 243.8L502.6 245.1L503.1 245.9L503.6 246.5L504.1 246.8L504.6 246.9L505.1 247L505.6 247.1L506.1 247.1L506.5 247.1L507 247.1L507.5 247.1L508 247.1L508.5 247.1L509 247.1L509.5 247.1L510 247.1L510.4 247.1L510.9 247.1L511.4 247.1L511.9 247.1L511.9 247.1Z" fill="rgba(238,125,110,0.38)" stroke="none"/>
<path d="M458.3 247.1L458.8 247.1L459.3 247.1L459.8 247.1L460.2 247.1L460.7 247.1L461.2 247.1L461.7 247.1L462.2 247.1L462.7 247.1L463.2 247.1L463.7 247.1L464.1 247.1L464.6 247.1L465.1 247.1L465.6 247.1L466.1 247.1L466.6 247.1L467.1 247.1L467.6 247.1L468 247.1L468.5 247.1L469 247.1L469.5 247.1L470 247.1L470.5 247.1L471 247.1L471.5 247.1L471.9 247.1L472.4 247L472.9 247L473.4 247L473.9 246.9L474.4 246.9L474.9 246.8L475.4 246.7L475.8 246.6L476.3 246.4L476.8 246.2L477.3 246L477.8 245.7L478.3 245.5L478.8 245.1L479.3 244.8L479.7 244.4L480.2 244L480.7 243.5L481.2 243.1L481.7 242.6L482.2 242.2L482.7 241.7L483.2 241.2L483.6 240.7L484.1 240.3L484.6 239.8L485.1 239.4L485.6 239L486.1 238.6L486.6 238.2L487 237.8L487.5 237.4L488 237.1L488.5 236.8L489 236.5L489.5 236.2L490 236L490.5 235.8L490.9 235.6L491.4 235.5L491.9 235.3L492.4 235.2L492.9 235L493.4 234.9L493.9 234.6L494.4 234.3L494.8 233.9L495.3 233.4L495.8 232.9L496.3 232.4L496.8 231.9L497.3 231.5L497.8 231.2L498.3 231.1L498.7 231.2L499.2 231.7L499.7 233L500.2 235L500.7 237.4L501.2 239.9L501.7 242L502.2 243.8L502.6 245.1L503.1 245.9L503.6 246.5L504.1 246.8L504.6 246.9L505.1 247L505.6 247.1L506.1 247.1L506.5 247.1L507 247.1L507.5 247.1L508 247.1L508.5 247.1L509 247.1L509.5 247.1L510 247.1L510.4 247.1L510.9 247.1L511.4 247.1L511.9 247.1" fill="none" stroke="#bb3848" stroke-width="0.9" stroke-linejoin="round"/>
<path d="M458.3 238.4L458.3 238.4L458.8 238.4L459.3 238.4L459.8 238.4L460.2 238.4L460.7 238.4L461.2 238.4L461.7 238.4L462.2 238.4L462.7 238.4L463.2 238.4L463.7 238.4L464.1 238.4L464.6 238.4L465.1 238.4L465.6 238.4L466.1 238.4L466.6 238.4L467.1 238.4L467.6 238.4L468 238.4L468.5 238.4L469 238.4L469.5 238.4L470 238.4L470.5 238.4L471 238.4L471.5 238.4L471.9 238.4L472.4 238.4L472.9 238.4L473.4 238.4L473.9 238.4L474.4 238.4L474.9 238.4L475.4 238.4L475.8 238.4L476.3 238.4L476.8 238.4L477.3 238.4L477.8 238.4L478.3 238.4L478.8 238.4L479.3 238.4L479.7 238.4L480.2 238.4L480.7 238.4L481.2 238.4L481.7 238.4L482.2 238.4L482.7 238.4L483.2 238.4L483.6 238.4L484.1 238.4L484.6 238.4L485.1 238.4L485.6 238.4L486.1 238.4L486.6 238.4L487 238.4L487.5 238.4L488 238.4L488.5 238.4L489 238.4L489.5 238.4L490 238.4L490.5 238.4L490.9 238.4L491.4 238.4L491.9 238.4L492.4 238.4L492.9 238.4L493.4 238.4L493.9 238.4L494.4 238.4L494.8 238.4L495.3 238.4L495.8 238.4L496.3 238.4L496.8 238.4L497.3 238.4L497.8 238.4L498.3 238.3L498.7 238L499.2 237.4L499.7 236.1L500.2 233.8L500.7 230.6L501.2 226.9L501.7 223.6L502.2 221.8L502.6 222.3L503.1 224.8L503.6 228.4L504.1 232L504.6 234.9L505.1 236.7L505.6 237.7L506.1 238.1L506.5 238.3L507 238.4L507.5 238.4L508 238.4L508.5 238.4L509 238.4L509.5 238.4L510 238.4L510.4 238.4L510.9 238.4L511.4 238.4L511.9 238.4L511.9 238.4Z" fill="rgba(135,148,205,0.40)" stroke="none"/>
<path d="M458.3 238.4L458.8 238.4L459.3 238.4L459.8 238.4L460.2 238.4L460.7 238.4L461.2 238.4L461.7 238.4L462.2 238.4L462.7 238.4L463.2 238.4L463.7 238.4L464.1 238.4L464.6 238.4L465.1 238.4L465.6 238.4L466.1 238.4L466.6 238.4L467.1 238.4L467.6 238.4L468 238.4L468.5 238.4L469 238.4L469.5 238.4L470 238.4L470.5 238.4L471 238.4L471.5 238.4L471.9 238.4L472.4 238.4L472.9 238.4L473.4 238.4L473.9 238.4L474.4 238.4L474.9 238.4L475.4 238.4L475.8 238.4L476.3 238.4L476.8 238.4L477.3 238.4L477.8 238.4L478.3 238.4L478.8 238.4L479.3 238.4L479.7 238.4L480.2 238.4L480.7 238.4L481.2 238.4L481.7 238.4L482.2 238.4L482.7 238.4L483.2 238.4L483.6 238.4L484.1 238.4L484.6 238.4L485.1 238.4L485.6 238.4L486.1 238.4L486.6 238.4L487 238.4L487.5 238.4L488 238.4L488.5 238.4L489 238.4L489.5 238.4L490 238.4L490.5 238.4L490.9 238.4L491.4 238.4L491.9 238.4L492.4 238.4L492.9 238.4L493.4 238.4L493.9 238.4L494.4 238.4L494.8 238.4L495.3 238.4L495.8 238.4L496.3 238.4L496.8 238.4L497.3 238.4L497.8 238.4L498.3 238.3L498.7 238L499.2 237.4L499.7 236.1L500.2 233.8L500.7 230.6L501.2 226.9L501.7 223.6L502.2 221.8L502.6 222.3L503.1 224.8L503.6 228.4L504.1 232L504.6 234.9L505.1 236.7L505.6 237.7L506.1 238.1L506.5 238.3L507 238.4L507.5 238.4L508 238.4L508.5 238.4L509 238.4L509.5 238.4L510 238.4L510.4 238.4L510.9 238.4L511.4 238.4L511.9 238.4" fill="none" stroke="#485a7e" stroke-width="0.9" stroke-linejoin="round"/>
<line x1="484.2" y1="222.1" x2="484.2" y2="274.4" stroke="#505050" stroke-width="0.95" stroke-dasharray="3 3"/>
<rect x="457.7" y="218.6" width="54.8" height="55.8" fill="none" stroke="#333" stroke-width="1.05"/>
<path d="M457.7 274.4v2.4M460.4 274.4v1.3M462.1 274.4v1.3M463.2 274.4v1.3M464.1 274.4v1.3M464.8 274.4v1.3M465.4 274.4v1.3M465.9 274.4v1.3M466.4 274.4v1.3M466.8 274.4v2.4M469.6 274.4v1.3M471.2 274.4v1.3M472.3 274.4v1.3M473.2 274.4v1.3M473.9 274.4v1.3M474.6 274.4v1.3M475.1 274.4v1.3M475.5 274.4v1.3M476 274.4v2.4M478.7 274.4v1.3M480.3 274.4v1.3M481.5 274.4v1.3M482.4 274.4v1.3M483.1 274.4v1.3M483.7 274.4v1.3M484.2 274.4v1.3M484.7 274.4v1.3M485.1 274.4v2.4M487.8 274.4v1.3M489.5 274.4v1.3M490.6 274.4v1.3M491.5 274.4v1.3M492.2 274.4v1.3M492.8 274.4v1.3M493.3 274.4v1.3M493.8 274.4v1.3M494.2 274.4v2.4M497 274.4v1.3M498.6 274.4v1.3M499.7 274.4v1.3M500.6 274.4v1.3M501.3 274.4v1.3M502 274.4v1.3M502.5 274.4v1.3M502.9 274.4v1.3M503.4 274.4v2.4M506.1 274.4v1.3M507.7 274.4v1.3M508.9 274.4v1.3M509.8 274.4v1.3M510.5 274.4v1.3M511.1 274.4v1.3M511.6 274.4v1.3M512.1 274.4v1.3M512.5 274.4v2.4" stroke="#222" stroke-width="0.6" fill="none"/>
<text x="224" y="288.1" font-size="7.3" text-anchor="middle" textLength="15.4" lengthAdjust="spacingAndGlyphs">PDX1</text>
<path d="M197 350.1L197 350.1L197.5 350.1L198 350.1L198.5 350.1L198.9 350.1L199.4 350.1L199.9 350.1L200.4 350.1L200.9 350.1L201.4 350.1L201.9 350.1L202.4 350.1L202.8 350.1L203.3 350.1L203.8 350L204.3 350L204.8 350L205.3 349.9L205.8 349.8L206.3 349.6L206.7 349.4L207.2 349.1L207.7 348.6L208.2 348.1L208.7 347.4L209.2 346.6L209.7 345.6L210.2 344.5L210.6 343.2L211.1 341.9L211.6 340.5L212.1 339.2L212.6 337.9L213.1 336.9L213.6 336L214.1 335.5L214.5 335.3L215 335.6L215.5 336.5L216 338L216.5 339.9L217 341.8L217.5 343.8L218 345.5L218.4 346.9L218.9 348L219.4 348.7L219.9 349.3L220.4 349.6L220.9 349.8L221.4 350L221.9 350L222.3 350.1L222.8 350.1L223.3 350.1L223.8 350.1L224.3 350.1L224.8 350.1L225.3 350.1L225.7 350.1L226.2 350.1L226.7 350.1L227.2 350.1L227.7 350.1L228.2 350.1L228.7 350.1L229.2 350.1L229.6 350.1L230.1 350.1L230.6 350.1L231.1 350.1L231.6 350.1L232.1 350.1L232.6 350.1L233.1 350.1L233.5 350.1L234 350.1L234.5 350.1L235 350.1L235.5 350.1L236 350.1L236.5 350.1L237 350.1L237.4 350.1L237.9 350.1L238.4 350.1L238.9 350.1L239.4 350.1L239.9 350.1L240.4 350.1L240.9 350.1L241.3 350.1L241.8 350.1L242.3 350.1L242.8 350.1L243.3 350.1L243.8 350.1L244.3 350.1L244.8 350.1L245.2 350.1L245.7 350.1L246.2 350.1L246.7 350.1L247.2 350.1L247.7 350.1L248.2 350.1L248.7 350.1L249.1 350.1L249.6 350.1L250.1 350.1L250.6 350.1L250.6 350.1Z" fill="rgba(210,210,218,0.5)" stroke="none"/>
<path d="M197 350.1L197.5 350.1L198 350.1L198.5 350.1L198.9 350.1L199.4 350.1L199.9 350.1L200.4 350.1L200.9 350.1L201.4 350.1L201.9 350.1L202.4 350.1L202.8 350.1L203.3 350.1L203.8 350L204.3 350L204.8 350L205.3 349.9L205.8 349.8L206.3 349.6L206.7 349.4L207.2 349.1L207.7 348.6L208.2 348.1L208.7 347.4L209.2 346.6L209.7 345.6L210.2 344.5L210.6 343.2L211.1 341.9L211.6 340.5L212.1 339.2L212.6 337.9L213.1 336.9L213.6 336L214.1 335.5L214.5 335.3L215 335.6L215.5 336.5L216 338L216.5 339.9L217 341.8L217.5 343.8L218 345.5L218.4 346.9L218.9 348L219.4 348.7L219.9 349.3L220.4 349.6L220.9 349.8L221.4 350L221.9 350L222.3 350.1L222.8 350.1L223.3 350.1L223.8 350.1L224.3 350.1L224.8 350.1L225.3 350.1L225.7 350.1L226.2 350.1L226.7 350.1L227.2 350.1L227.7 350.1L228.2 350.1L228.7 350.1L229.2 350.1L229.6 350.1L230.1 350.1L230.6 350.1L231.1 350.1L231.6 350.1L232.1 350.1L232.6 350.1L233.1 350.1L233.5 350.1L234 350.1L234.5 350.1L235 350.1L235.5 350.1L236 350.1L236.5 350.1L237 350.1L237.4 350.1L237.9 350.1L238.4 350.1L238.9 350.1L239.4 350.1L239.9 350.1L240.4 350.1L240.9 350.1L241.3 350.1L241.8 350.1L242.3 350.1L242.8 350.1L243.3 350.1L243.8 350.1L244.3 350.1L244.8 350.1L245.2 350.1L245.7 350.1L246.2 350.1L246.7 350.1L247.2 350.1L247.7 350.1L248.2 350.1L248.7 350.1L249.1 350.1L249.6 350.1L250.1 350.1L250.6 350.1" fill="none" stroke="#aaaab2" stroke-width="0.6" stroke-linejoin="round"/>
<path d="M197 342.2L197 342.2L197.5 342.2L198 342.2L198.5 342.2L198.9 342.2L199.4 342.2L199.9 342.2L200.4 342.2L200.9 342.2L201.4 342.2L201.9 342.2L202.4 342.2L202.8 342.2L203.3 342.2L203.8 342.2L204.3 342.2L204.8 342.2L205.3 342.2L205.8 342.2L206.3 342.2L206.7 342.2L207.2 342.2L207.7 342.2L208.2 342.2L208.7 342.2L209.2 342.2L209.7 342.2L210.2 342.2L210.6 342.2L211.1 342.2L211.6 342.2L212.1 342.2L212.6 342.2L213.1 342.2L213.6 342.2L214.1 342.2L214.5 342.2L215 342.2L215.5 342.2L216 342.2L216.5 342.2L217 342.2L217.5 342.2L218 342.2L218.4 342.2L218.9 342.2L219.4 342.2L219.9 342.2L220.4 342.2L220.9 342.1L221.4 342.1L221.9 342.1L222.3 342L222.8 341.8L223.3 341.6L223.8 341.3L224.3 340.9L224.8 340.4L225.3 339.7L225.7 338.8L226.2 337.8L226.7 336.6L227.2 335.2L227.7 333.7L228.2 332.2L228.7 330.7L229.2 329.3L229.6 328.2L230.1 327.3L230.6 326.8L231.1 326.7L231.6 327.2L232.1 328.2L232.6 329.7L233.1 331.5L233.5 333.4L234 335.2L234.5 336.9L235 338.4L235.5 339.5L236 340.4L236.5 341L237 341.5L237.4 341.8L237.9 342L238.4 342.1L238.9 342.1L239.4 342.2L239.9 342.2L240.4 342.2L240.9 342.2L241.3 342.2L241.8 342.2L242.3 342.2L242.8 342.2L243.3 342.2L243.8 342.2L244.3 342.2L244.8 342.2L245.2 342.2L245.7 342.2L246.2 342.2L246.7 342.2L247.2 342.2L247.7 342.2L248.2 342.2L248.7 342.2L249.1 342.2L249.6 342.2L250.1 342.2L250.6 342.2L250.6 342.2Z" fill="rgba(238,125,110,0.38)" stroke="none"/>
<path d="M197 342.2L197.5 342.2L198 342.2L198.5 342.2L198.9 342.2L199.4 342.2L199.9 342.2L200.4 342.2L200.9 342.2L201.4 342.2L201.9 342.2L202.4 342.2L202.8 342.2L203.3 342.2L203.8 342.2L204.3 342.2L204.8 342.2L205.3 342.2L205.8 342.2L206.3 342.2L206.7 342.2L207.2 342.2L207.7 342.2L208.2 342.2L208.7 342.2L209.2 342.2L209.7 342.2L210.2 342.2L210.6 342.2L211.1 342.2L211.6 342.2L212.1 342.2L212.6 342.2L213.1 342.2L213.6 342.2L214.1 342.2L214.5 342.2L215 342.2L215.5 342.2L216 342.2L216.5 342.2L217 342.2L217.5 342.2L218 342.2L218.4 342.2L218.9 342.2L219.4 342.2L219.9 342.2L220.4 342.2L220.9 342.1L221.4 342.1L221.9 342.1L222.3 342L222.8 341.8L223.3 341.6L223.8 341.3L224.3 340.9L224.8 340.4L225.3 339.7L225.7 338.8L226.2 337.8L226.7 336.6L227.2 335.2L227.7 333.7L228.2 332.2L228.7 330.7L229.2 329.3L229.6 328.2L230.1 327.3L230.6 326.8L231.1 326.7L231.6 327.2L232.1 328.2L232.6 329.7L233.1 331.5L233.5 333.4L234 335.2L234.5 336.9L235 338.4L235.5 339.5L236 340.4L236.5 341L237 341.5L237.4 341.8L237.9 342L238.4 342.1L238.9 342.1L239.4 342.2L239.9 342.2L240.4 342.2L240.9 342.2L241.3 342.2L241.8 342.2L242.3 342.2L242.8 342.2L243.3 342.2L243.8 342.2L244.3 342.2L244.8 342.2L245.2 342.2L245.7 342.2L246.2 342.2L246.7 342.2L247.2 342.2L247.7 342.2L248.2 342.2L248.7 342.2L249.1 342.2L249.6 342.2L250.1 342.2L250.6 342.2" fill="none" stroke="#bb3848" stroke-width="0.9" stroke-linejoin="round"/>
<path d="M197 333.5L197 333.5L197.5 333.5L198 333.5L198.5 333.5L198.9 333.5L199.4 333.5L199.9 333.5L200.4 333.5L200.9 333.5L201.4 333.5L201.9 333.5L202.4 333.5L202.8 333.5L203.3 333.5L203.8 333.5L204.3 333.5L204.8 333.5L205.3 333.5L205.8 333.5L206.3 333.5L206.7 333.5L207.2 333.5L207.7 333.5L208.2 333.5L208.7 333.5L209.2 333.5L209.7 333.5L210.2 333.5L210.6 333.5L211.1 333.5L211.6 333.5L212.1 333.5L212.6 333.5L213.1 333.5L213.6 333.5L214.1 333.5L214.5 333.5L215 333.5L215.5 333.5L216 333.5L216.5 333.5L217 333.5L217.5 333.5L218 333.5L218.4 333.5L218.9 333.5L219.4 333.5L219.9 333.5L220.4 333.5L220.9 333.5L221.4 333.5L221.9 333.5L222.3 333.5L222.8 333.5L223.3 333.5L223.8 333.5L224.3 333.5L224.8 333.5L225.3 333.5L225.7 333.5L226.2 333.5L226.7 333.5L227.2 333.5L227.7 333.4L228.2 333.3L228.7 333.1L229.2 332.7L229.6 332.1L230.1 331.2L230.6 329.8L231.1 328.1L231.6 325.9L232.1 323.5L232.6 321.1L233.1 319L233.5 317.5L234 316.9L234.5 317.1L235 317.7L235.5 318.8L236 320.2L236.5 321.9L237 323.6L237.4 325.4L237.9 327L238.4 328.4L238.9 329.7L239.4 330.7L239.9 331.5L240.4 332.1L240.9 332.6L241.3 332.9L241.8 333.1L242.3 333.3L242.8 333.4L243.3 333.4L243.8 333.5L244.3 333.5L244.8 333.5L245.2 333.5L245.7 333.5L246.2 333.5L246.7 333.5L247.2 333.5L247.7 333.5L248.2 333.5L248.7 333.5L249.1 333.5L249.6 333.5L250.1 333.5L250.6 333.5L250.6 333.5Z" fill="rgba(135,148,205,0.40)" stroke="none"/>
<path d="M197 333.5L197.5 333.5L198 333.5L198.5 333.5L198.9 333.5L199.4 333.5L199.9 333.5L200.4 333.5L200.9 333.5L201.4 333.5L201.9 333.5L202.4 333.5L202.8 333.5L203.3 333.5L203.8 333.5L204.3 333.5L204.8 333.5L205.3 333.5L205.8 333.5L206.3 333.5L206.7 333.5L207.2 333.5L207.7 333.5L208.2 333.5L208.7 333.5L209.2 333.5L209.7 333.5L210.2 333.5L210.6 333.5L211.1 333.5L211.6 333.5L212.1 333.5L212.6 333.5L213.1 333.5L213.6 333.5L214.1 333.5L214.5 333.5L215 333.5L215.5 333.5L216 333.5L216.5 333.5L217 333.5L217.5 333.5L218 333.5L218.4 333.5L218.9 333.5L219.4 333.5L219.9 333.5L220.4 333.5L220.9 333.5L221.4 333.5L221.9 333.5L222.3 333.5L222.8 333.5L223.3 333.5L223.8 333.5L224.3 333.5L224.8 333.5L225.3 333.5L225.7 333.5L226.2 333.5L226.7 333.5L227.2 333.5L227.7 333.4L228.2 333.3L228.7 333.1L229.2 332.7L229.6 332.1L230.1 331.2L230.6 329.8L231.1 328.1L231.6 325.9L232.1 323.5L232.6 321.1L233.1 319L233.5 317.5L234 316.9L234.5 317.1L235 317.7L235.5 318.8L236 320.2L236.5 321.9L237 323.6L237.4 325.4L237.9 327L238.4 328.4L238.9 329.7L239.4 330.7L239.9 331.5L240.4 332.1L240.9 332.6L241.3 332.9L241.8 333.1L242.3 333.3L242.8 333.4L243.3 333.4L243.8 333.5L244.3 333.5L244.8 333.5L245.2 333.5L245.7 333.5L246.2 333.5L246.7 333.5L247.2 333.5L247.7 333.5L248.2 333.5L248.7 333.5L249.1 333.5L249.6 333.5L250.1 333.5L250.6 333.5" fill="none" stroke="#485a7e" stroke-width="0.9" stroke-linejoin="round"/>
<path d="M197 324.7L197 324.7L197.5 324.7L198 324.7L198.5 324.7L198.9 324.7L199.4 324.7L199.9 324.7L200.4 324.7L200.9 324.7L201.4 324.7L201.9 324.7L202.4 324.7L202.8 324.7L203.3 324.7L203.8 324.7L204.3 324.7L204.8 324.7L205.3 324.7L205.8 324.7L206.3 324.7L206.7 324.7L207.2 324.7L207.7 324.7L208.2 324.7L208.7 324.7L209.2 324.7L209.7 324.7L210.2 324.7L210.6 324.7L211.1 324.7L211.6 324.7L212.1 324.7L212.6 324.7L213.1 324.7L213.6 324.7L214.1 324.7L214.5 324.7L215 324.7L215.5 324.7L216 324.7L216.5 324.7L217 324.7L217.5 324.7L218 324.7L218.4 324.7L218.9 324.7L219.4 324.7L219.9 324.7L220.4 324.7L220.9 324.6L221.4 324.6L221.9 324.5L222.3 324.4L222.8 324.2L223.3 324L223.8 323.6L224.3 323.1L224.8 322.4L225.3 321.5L225.7 320.4L226.2 319.1L226.7 317.6L227.2 316L227.7 314.3L228.2 312.6L228.7 311.2L229.2 309.9L229.6 309.1L230.1 308.7L230.6 308.8L231.1 309.6L231.6 311L232.1 312.8L232.6 314.9L233.1 316.9L233.5 318.8L234 320.4L234.5 321.7L235 322.7L235.5 323.4L236 323.9L236.5 324.3L237 324.5L237.4 324.6L237.9 324.6L238.4 324.7L238.9 324.7L239.4 324.7L239.9 324.7L240.4 324.7L240.9 324.7L241.3 324.7L241.8 324.7L242.3 324.7L242.8 324.7L243.3 324.7L243.8 324.7L244.3 324.7L244.8 324.7L245.2 324.7L245.7 324.7L246.2 324.7L246.7 324.7L247.2 324.7L247.7 324.7L248.2 324.7L248.7 324.7L249.1 324.7L249.6 324.7L250.1 324.7L250.6 324.7L250.6 324.7Z" fill="rgba(238,125,110,0.38)" stroke="none"/>
<path d="M197 324.7L197.5 324.7L198 324.7L198.5 324.7L198.9 324.7L199.4 324.7L199.9 324.7L200.4 324.7L200.9 324.7L201.4 324.7L201.9 324.7L202.4 324.7L202.8 324.7L203.3 324.7L203.8 324.7L204.3 324.7L204.8 324.7L205.3 324.7L205.8 324.7L206.3 324.7L206.7 324.7L207.2 324.7L207.7 324.7L208.2 324.7L208.7 324.7L209.2 324.7L209.7 324.7L210.2 324.7L210.6 324.7L211.1 324.7L211.6 324.7L212.1 324.7L212.6 324.7L213.1 324.7L213.6 324.7L214.1 324.7L214.5 324.7L215 324.7L215.5 324.7L216 324.7L216.5 324.7L217 324.7L217.5 324.7L218 324.7L218.4 324.7L218.9 324.7L219.4 324.7L219.9 324.7L220.4 324.7L220.9 324.6L221.4 324.6L221.9 324.5L222.3 324.4L222.8 324.2L223.3 324L223.8 323.6L224.3 323.1L224.8 322.4L225.3 321.5L225.7 320.4L226.2 319.1L226.7 317.6L227.2 316L227.7 314.3L228.2 312.6L228.7 311.2L229.2 309.9L229.6 309.1L230.1 308.7L230.6 308.8L231.1 309.6L231.6 311L232.1 312.8L232.6 314.9L233.1 316.9L233.5 318.8L234 320.4L234.5 321.7L235 322.7L235.5 323.4L236 323.9L236.5 324.3L237 324.5L237.4 324.6L237.9 324.6L238.4 324.7L238.9 324.7L239.4 324.7L239.9 324.7L240.4 324.7L240.9 324.7L241.3 324.7L241.8 324.7L242.3 324.7L242.8 324.7L243.3 324.7L243.8 324.7L244.3 324.7L244.8 324.7L245.2 324.7L245.7 324.7L246.2 324.7L246.7 324.7L247.2 324.7L247.7 324.7L248.2 324.7L248.7 324.7L249.1 324.7L249.6 324.7L250.1 324.7L250.6 324.7" fill="none" stroke="#bb3848" stroke-width="0.9" stroke-linejoin="round"/>
<path d="M197 315.4L197 315.4L197.5 315.4L198 315.4L198.5 315.4L198.9 315.4L199.4 315.4L199.9 315.4L200.4 315.4L200.9 315.4L201.4 315.4L201.9 315.4L202.4 315.4L202.8 315.4L203.3 315.4L203.8 315.4L204.3 315.4L204.8 315.4L205.3 315.4L205.8 315.4L206.3 315.4L206.7 315.4L207.2 315.4L207.7 315.4L208.2 315.4L208.7 315.4L209.2 315.4L209.7 315.4L210.2 315.4L210.6 315.4L211.1 315.4L211.6 315.4L212.1 315.4L212.6 315.4L213.1 315.4L213.6 315.4L214.1 315.4L214.5 315.4L215 315.4L215.5 315.4L216 315.4L216.5 315.4L217 315.4L217.5 315.4L218 315.4L218.4 315.4L218.9 315.4L219.4 315.4L219.9 315.4L220.4 315.4L220.9 315.4L221.4 315.4L221.9 315.4L222.3 315.4L222.8 315.4L223.3 315.4L223.8 315.4L224.3 315.4L224.8 315.4L225.3 315.4L225.7 315.4L226.2 315.4L226.7 315.4L227.2 315.4L227.7 315.3L228.2 315.3L228.7 315.2L229.2 314.9L229.6 314.5L230.1 313.9L230.6 312.9L231.1 311.5L231.6 309.6L232.1 307.4L232.6 305L233.1 302.6L233.5 300.6L234 299.2L234.5 298.8L235 299.1L235.5 299.8L236 301L236.5 302.4L237 304.1L237.4 305.8L237.9 307.6L238.4 309.2L238.9 310.6L239.4 311.8L239.9 312.8L240.4 313.6L240.9 314.1L241.3 314.6L241.8 314.9L242.3 315.1L242.8 315.2L243.3 315.3L243.8 315.3L244.3 315.4L244.8 315.4L245.2 315.4L245.7 315.4L246.2 315.4L246.7 315.4L247.2 315.4L247.7 315.4L248.2 315.4L248.7 315.4L249.1 315.4L249.6 315.4L250.1 315.4L250.6 315.4L250.6 315.4Z" fill="rgba(135,148,205,0.40)" stroke="none"/>
<path d="M197 315.4L197.5 315.4L198 315.4L198.5 315.4L198.9 315.4L199.4 315.4L199.9 315.4L200.4 315.4L200.9 315.4L201.4 315.4L201.9 315.4L202.4 315.4L202.8 315.4L203.3 315.4L203.8 315.4L204.3 315.4L204.8 315.4L205.3 315.4L205.8 315.4L206.3 315.4L206.7 315.4L207.2 315.4L207.7 315.4L208.2 315.4L208.7 315.4L209.2 315.4L209.7 315.4L210.2 315.4L210.6 315.4L211.1 315.4L211.6 315.4L212.1 315.4L212.6 315.4L213.1 315.4L213.6 315.4L214.1 315.4L214.5 315.4L215 315.4L215.5 315.4L216 315.4L216.5 315.4L217 315.4L217.5 315.4L218 315.4L218.4 315.4L218.9 315.4L219.4 315.4L219.9 315.4L220.4 315.4L220.9 315.4L221.4 315.4L221.9 315.4L222.3 315.4L222.8 315.4L223.3 315.4L223.8 315.4L224.3 315.4L224.8 315.4L225.3 315.4L225.7 315.4L226.2 315.4L226.7 315.4L227.2 315.4L227.7 315.3L228.2 315.3L228.7 315.2L229.2 314.9L229.6 314.5L230.1 313.9L230.6 312.9L231.1 311.5L231.6 309.6L232.1 307.4L232.6 305L233.1 302.6L233.5 300.6L234 299.2L234.5 298.8L235 299.1L235.5 299.8L236 301L236.5 302.4L237 304.1L237.4 305.8L237.9 307.6L238.4 309.2L238.9 310.6L239.4 311.8L239.9 312.8L240.4 313.6L240.9 314.1L241.3 314.6L241.8 314.9L242.3 315.1L242.8 315.2L243.3 315.3L243.8 315.3L244.3 315.4L244.8 315.4L245.2 315.4L245.7 315.4L246.2 315.4L246.7 315.4L247.2 315.4L247.7 315.4L248.2 315.4L248.7 315.4L249.1 315.4L249.6 315.4L250.1 315.4L250.6 315.4" fill="none" stroke="#485a7e" stroke-width="0.9" stroke-linejoin="round"/>
<line x1="220.6" y1="299" x2="220.6" y2="350.5" stroke="#505050" stroke-width="0.95" stroke-dasharray="3 3"/>
<rect x="196.4" y="295.5" width="54.8" height="55" fill="none" stroke="#333" stroke-width="1.05"/>
<path d="M196.4 350.5v2.4M199.1 350.5v1.3M200.8 350.5v1.3M201.9 350.5v1.3M202.8 350.5v1.3M203.5 350.5v1.3M204.1 350.5v1.3M204.6 350.5v1.3M205.1 350.5v1.3M205.5 350.5v2.4M208.3 350.5v1.3M209.9 350.5v1.3M211 350.5v1.3M211.9 350.5v1.3M212.6 350.5v1.3M213.3 350.5v1.3M213.8 350.5v1.3M214.2 350.5v1.3M214.7 350.5v2.4M217.4 350.5v1.3M219 350.5v1.3M220.2 350.5v1.3M221.1 350.5v1.3M221.8 350.5v1.3M222.4 350.5v1.3M222.9 350.5v1.3M223.4 350.5v1.3M223.8 350.5v2.4M226.5 350.5v1.3M228.2 350.5v1.3M229.3 350.5v1.3M230.2 350.5v1.3M230.9 350.5v1.3M231.5 350.5v1.3M232 350.5v1.3M232.5 350.5v1.3M232.9 350.5v2.4M235.7 350.5v1.3M237.3 350.5v1.3M238.4 350.5v1.3M239.3 350.5v1.3M240 350.5v1.3M240.7 350.5v1.3M241.2 350.5v1.3M241.6 350.5v1.3M242.1 350.5v2.4M244.8 350.5v1.3M246.4 350.5v1.3M247.6 350.5v1.3M248.5 350.5v1.3M249.2 350.5v1.3M249.8 350.5v1.3M250.3 350.5v1.3M250.8 350.5v1.3M251.2 350.5v2.4" stroke="#222" stroke-width="0.6" fill="none"/>
<text x="289.2" y="288.1" font-size="7.3" text-anchor="middle" textLength="16.4" lengthAdjust="spacingAndGlyphs">PDX2</text>
<path d="M262.2 350.1L262.2 350.1L262.7 350.1L263.2 350.1L263.7 350.1L264.1 350.1L264.6 350.1L265.1 350.1L265.6 350.1L266.1 350L266.6 350L267.1 350L267.6 349.9L268 349.9L268.5 349.8L269 349.6L269.5 349.5L270 349.3L270.5 349L271 348.7L271.5 348.3L271.9 347.8L272.4 347.3L272.9 346.7L273.4 345.9L273.9 345.1L274.4 344.2L274.9 343.3L275.4 342.3L275.8 341.2L276.3 340.2L276.8 339.2L277.3 338.2L277.8 337.4L278.3 336.6L278.8 336L279.3 335.6L279.7 335.3L280.2 335.3L280.7 335.8L281.2 336.8L281.7 338.2L282.2 339.9L282.7 341.7L283.2 343.5L283.6 345.1L284.1 346.5L284.6 347.6L285.1 348.4L285.6 349L286.1 349.4L286.6 349.7L287.1 349.9L287.5 350L288 350L288.5 350.1L289 350.1L289.5 350.1L290 350.1L290.5 350.1L290.9 350.1L291.4 350.1L291.9 350.1L292.4 350.1L292.9 350.1L293.4 350.1L293.9 350.1L294.4 350.1L294.8 350.1L295.3 350.1L295.8 350.1L296.3 350.1L296.8 350.1L297.3 350.1L297.8 350.1L298.3 350.1L298.7 350.1L299.2 350.1L299.7 350.1L300.2 350.1L300.7 350.1L301.2 350.1L301.7 350.1L302.2 350.1L302.6 350.1L303.1 350.1L303.6 350.1L304.1 350.1L304.6 350.1L305.1 350.1L305.6 350.1L306.1 350.1L306.5 350.1L307 350.1L307.5 350.1L308 350.1L308.5 350.1L309 350.1L309.5 350.1L310 350.1L310.4 350.1L310.9 350.1L311.4 350.1L311.9 350.1L312.4 350.1L312.9 350.1L313.4 350.1L313.9 350.1L314.3 350.1L314.8 350.1L315.3 350.1L315.8 350.1L315.8 350.1Z" fill="rgba(210,210,218,0.5)" stroke="none"/>
<path d="M262.2 350.1L262.7 350.1L263.2 350.1L263.7 350.1L264.1 350.1L264.6 350.1L265.1 350.1L265.6 350.1L266.1 350L266.6 350L267.1 350L267.6 349.9L268 349.9L268.5 349.8L269 349.6L269.5 349.5L270 349.3L270.5 349L271 348.7L271.5 348.3L271.9 347.8L272.4 347.3L272.9 346.7L273.4 345.9L273.9 345.1L274.4 344.2L274.9 343.3L275.4 342.3L275.8 341.2L276.3 340.2L276.8 339.2L277.3 338.2L277.8 337.4L278.3 336.6L278.8 336L279.3 335.6L279.7 335.3L280.2 335.3L280.7 335.8L281.2 336.8L281.7 338.2L282.2 339.9L282.7 341.7L283.2 343.5L283.6 345.1L284.1 346.5L284.6 347.6L285.1 348.4L285.6 349L286.1 349.4L286.6 349.7L287.1 349.9L287.5 350L288 350L288.5 350.1L289 350.1L289.5 350.1L290 350.1L290.5 350.1L290.9 350.1L291.4 350.1L291.9 350.1L292.4 350.1L292.9 350.1L293.4 350.1L293.9 350.1L294.4 350.1L294.8 350.1L295.3 350.1L295.8 350.1L296.3 350.1L296.8 350.1L297.3 350.1L297.8 350.1L298.3 350.1L298.7 350.1L299.2 350.1L299.7 350.1L300.2 350.1L300.7 350.1L301.2 350.1L301.7 350.1L302.2 350.1L302.6 350.1L303.1 350.1L303.6 350.1L304.1 350.1L304.6 350.1L305.1 350.1L305.6 350.1L306.1 350.1L306.5 350.1L307 350.1L307.5 350.1L308 350.1L308.5 350.1L309 350.1L309.5 350.1L310 350.1L310.4 350.1L310.9 350.1L311.4 350.1L311.9 350.1L312.4 350.1L312.9 350.1L313.4 350.1L313.9 350.1L314.3 350.1L314.8 350.1L315.3 350.1L315.8 350.1" fill="none" stroke="#aaaab2" stroke-width="0.6" stroke-linejoin="round"/>
<path d="M262.2 342.2L262.2 342.2L262.7 342.2L263.2 342.2L263.7 342.2L264.1 342.2L264.6 342.2L265.1 342.2L265.6 342.2L266.1 342.2L266.6 342.2L267.1 342.2L267.6 342.2L268 342.2L268.5 342.2L269 342.2L269.5 342.2L270 342.2L270.5 342.2L271 342.2L271.5 342.2L271.9 342.2L272.4 342.2L272.9 342.2L273.4 342.2L273.9 342.2L274.4 342.2L274.9 342.2L275.4 342.2L275.8 342.2L276.3 342.2L276.8 342.2L277.3 342.2L277.8 342.2L278.3 342.1L278.8 342.1L279.3 342.1L279.7 342L280.2 342L280.7 341.9L281.2 341.8L281.7 341.6L282.2 341.4L282.7 341.2L283.2 340.9L283.6 340.5L284.1 340.1L284.6 339.5L285.1 338.9L285.6 338.2L286.1 337.5L286.6 336.6L287.1 335.6L287.5 334.6L288 333.6L288.5 332.5L289 331.5L289.5 330.4L290 329.5L290.5 328.6L290.9 327.9L291.4 327.3L291.9 326.9L292.4 326.7L292.9 326.7L293.4 327.2L293.9 328.3L294.4 329.7L294.8 331.5L295.3 333.3L295.8 335.1L296.3 336.7L296.8 338.1L297.3 339.3L297.8 340.2L298.3 340.9L298.7 341.4L299.2 341.7L299.7 341.9L300.2 342L300.7 342.1L301.2 342.2L301.7 342.2L302.2 342.2L302.6 342.2L303.1 342.2L303.6 342.2L304.1 342.2L304.6 342.2L305.1 342.2L305.6 342.2L306.1 342.2L306.5 342.2L307 342.2L307.5 342.2L308 342.2L308.5 342.2L309 342.2L309.5 342.2L310 342.2L310.4 342.2L310.9 342.2L311.4 342.2L311.9 342.2L312.4 342.2L312.9 342.2L313.4 342.2L313.9 342.2L314.3 342.2L314.8 342.2L315.3 342.2L315.8 342.2L315.8 342.2Z" fill="rgba(238,125,110,0.38)" stroke="none"/>
<path d="M262.2 342.2L262.7 342.2L263.2 342.2L263.7 342.2L264.1 342.2L264.6 342.2L265.1 342.2L265.6 342.2L266.1 342.2L266.6 342.2L267.1 342.2L267.6 342.2L268 342.2L268.5 342.2L269 342.2L269.5 342.2L270 342.2L270.5 342.2L271 342.2L271.5 342.2L271.9 342.2L272.4 342.2L272.9 342.2L273.4 342.2L273.9 342.2L274.4 342.2L274.9 342.2L275.4 342.2L275.8 342.2L276.3 342.2L276.8 342.2L277.3 342.2L277.8 342.2L278.3 342.1L278.8 342.1L279.3 342.1L279.7 342L280.2 342L280.7 341.9L281.2 341.8L281.7 341.6L282.2 341.4L282.7 341.2L283.2 340.9L283.6 340.5L284.1 340.1L284.6 339.5L285.1 338.9L285.6 338.2L286.1 337.5L286.6 336.6L287.1 335.6L287.5 334.6L288 333.6L288.5 332.5L289 331.5L289.5 330.4L290 329.5L290.5 328.6L290.9 327.9L291.4 327.3L291.9 326.9L292.4 326.7L292.9 326.7L293.4 327.2L293.9 328.3L294.4 329.7L294.8 331.5L295.3 333.3L295.8 335.1L296.3 336.7L296.8 338.1L297.3 339.3L297.8 340.2L298.3 340.9L298.7 341.4L299.2 341.7L299.7 341.9L300.2 342L300.7 342.1L301.2 342.2L301.7 342.2L302.2 342.2L302.6 342.2L303.1 342.2L303.6 342.2L304.1 342.2L304.6 342.2L305.1 342.2L305.6 342.2L306.1 342.2L306.5 342.2L307 342.2L307.5 342.2L308 342.2L308.5 342.2L309 342.2L309.5 342.2L310 342.2L310.4 342.2L310.9 342.2L311.4 342.2L311.9 342.2L312.4 342.2L312.9 342.2L313.4 342.2L313.9 342.2L314.3 342.2L314.8 342.2L315.3 342.2L315.8 342.2" fill="none" stroke="#bb3848" stroke-width="0.9" stroke-linejoin="round"/>
<path d="M262.2 333.5L262.2 333.5L262.7 333.5L263.2 333.5L263.7 333.5L264.1 333.5L264.6 333.5L265.1 333.5L265.6 333.5L266.1 333.5L266.6 333.5L267.1 333.5L267.6 333.5L268 333.5L268.5 333.5L269 333.5L269.5 333.5L270 333.5L270.5 333.5L271 333.5L271.5 333.5L271.9 333.5L272.4 333.5L272.9 333.5L273.4 333.5L273.9 333.5L274.4 333.5L274.9 333.5L275.4 333.5L275.8 333.5L276.3 333.5L276.8 333.5L277.3 333.5L277.8 333.5L278.3 333.5L278.8 333.5L279.3 333.5L279.7 333.5L280.2 333.5L280.7 333.5L281.2 333.5L281.7 333.5L282.2 333.5L282.7 333.5L283.2 333.5L283.6 333.5L284.1 333.5L284.6 333.5L285.1 333.5L285.6 333.5L286.1 333.5L286.6 333.5L287.1 333.5L287.5 333.5L288 333.5L288.5 333.5L289 333.4L289.5 333.4L290 333.3L290.5 333.1L290.9 332.8L291.4 332.4L291.9 331.7L292.4 330.8L292.9 329.6L293.4 328L293.9 326.1L294.4 324L294.8 321.9L295.3 319.9L295.8 318.3L296.3 317.3L296.8 316.9L297.3 317.2L297.8 318.1L298.3 319.5L298.7 321.2L299.2 323.2L299.7 325.1L300.2 326.9L300.7 328.6L301.2 329.9L301.7 331L302.2 331.8L302.6 332.4L303.1 332.8L303.6 333.1L304.1 333.3L304.6 333.4L305.1 333.4L305.6 333.5L306.1 333.5L306.5 333.5L307 333.5L307.5 333.5L308 333.5L308.5 333.5L309 333.5L309.5 333.5L310 333.5L310.4 333.5L310.9 333.5L311.4 333.5L311.9 333.5L312.4 333.5L312.9 333.5L313.4 333.5L313.9 333.5L314.3 333.5L314.8 333.5L315.3 333.5L315.8 333.5L315.8 333.5Z" fill="rgba(135,148,205,0.40)" stroke="none"/>
<path d="M262.2 333.5L262.7 333.5L263.2 333.5L263.7 333.5L264.1 333.5L264.6 333.5L265.1 333.5L265.6 333.5L266.1 333.5L266.6 333.5L267.1 333.5L267.6 333.5L268 333.5L268.5 333.5L269 333.5L269.5 333.5L270 333.5L270.5 333.5L271 333.5L271.5 333.5L271.9 333.5L272.4 333.5L272.9 333.5L273.4 333.5L273.9 333.5L274.4 333.5L274.9 333.5L275.4 333.5L275.8 333.5L276.3 333.5L276.8 333.5L277.3 333.5L277.8 333.5L278.3 333.5L278.8 333.5L279.3 333.5L279.7 333.5L280.2 333.5L280.7 333.5L281.2 333.5L281.7 333.5L282.2 333.5L282.7 333.5L283.2 333.5L283.6 333.5L284.1 333.5L284.6 333.5L285.1 333.5L285.6 333.5L286.1 333.5L286.6 333.5L287.1 333.5L287.5 333.5L288 333.5L288.5 333.5L289 333.4L289.5 333.4L290 333.3L290.5 333.1L290.9 332.8L291.4 332.4L291.9 331.7L292.4 330.8L292.9 329.6L293.4 328L293.9 326.1L294.4 324L294.8 321.9L295.3 319.9L295.8 318.3L296.3 317.3L296.8 316.9L297.3 317.2L297.8 318.1L298.3 319.5L298.7 321.2L299.2 323.2L299.7 325.1L300.2 326.9L300.7 328.6L301.2 329.9L301.7 331L302.2 331.8L302.6 332.4L303.1 332.8L303.6 333.1L304.1 333.3L304.6 333.4L305.1 333.4L305.6 333.5L306.1 333.5L306.5 333.5L307 333.5L307.5 333.5L308 333.5L308.5 333.5L309 333.5L309.5 333.5L310 333.5L310.4 333.5L310.9 333.5L311.4 333.5L311.9 333.5L312.4 333.5L312.9 333.5L313.4 333.5L313.9 333.5L314.3 333.5L314.8 333.5L315.3 333.5L315.8 333.5" fill="none" stroke="#485a7e" stroke-width="0.9" stroke-linejoin="round"/>
<path d="M262.2 324.7L262.2 324.7L262.7 324.7L263.2 324.7L263.7 324.7L264.1 324.7L264.6 324.7L265.1 324.7L265.6 324.7L266.1 324.7L266.6 324.7L267.1 324.7L267.6 324.7L268 324.7L268.5 324.7L269 324.7L269.5 324.7L270 324.7L270.5 324.7L271 324.7L271.5 324.7L271.9 324.7L272.4 324.7L272.9 324.7L273.4 324.7L273.9 324.7L274.4 324.7L274.9 324.7L275.4 324.7L275.8 324.7L276.3 324.7L276.8 324.7L277.3 324.7L277.8 324.7L278.3 324.7L278.8 324.7L279.3 324.7L279.7 324.6L280.2 324.6L280.7 324.6L281.2 324.5L281.7 324.5L282.2 324.4L282.7 324.2L283.2 324.1L283.6 323.8L284.1 323.5L284.6 323.2L285.1 322.7L285.6 322.2L286.1 321.6L286.6 320.8L287.1 320L287.5 319L288 318L288.5 316.9L289 315.7L289.5 314.5L290 313.4L290.5 312.3L290.9 311.2L291.4 310.3L291.9 309.6L292.4 309.1L292.9 308.8L293.4 308.7L293.9 309.2L294.4 310.3L294.8 311.9L295.3 313.9L295.8 315.9L296.3 317.9L296.8 319.7L297.3 321.1L297.8 322.3L298.3 323.1L298.7 323.7L299.2 324.1L299.7 324.4L300.2 324.5L300.7 324.6L301.2 324.7L301.7 324.7L302.2 324.7L302.6 324.7L303.1 324.7L303.6 324.7L304.1 324.7L304.6 324.7L305.1 324.7L305.6 324.7L306.1 324.7L306.5 324.7L307 324.7L307.5 324.7L308 324.7L308.5 324.7L309 324.7L309.5 324.7L310 324.7L310.4 324.7L310.9 324.7L311.4 324.7L311.9 324.7L312.4 324.7L312.9 324.7L313.4 324.7L313.9 324.7L314.3 324.7L314.8 324.7L315.3 324.7L315.8 324.7L315.8 324.7Z" fill="rgba(238,125,110,0.38)" stroke="none"/>
<path d="M262.2 324.7L262.7 324.7L263.2 324.7L263.7 324.7L264.1 324.7L264.6 324.7L265.1 324.7L265.6 324.7L266.1 324.7L266.6 324.7L267.1 324.7L267.6 324.7L268 324.7L268.5 324.7L269 324.7L269.5 324.7L270 324.7L270.5 324.7L271 324.7L271.5 324.7L271.9 324.7L272.4 324.7L272.9 324.7L273.4 324.7L273.9 324.7L274.4 324.7L274.9 324.7L275.4 324.7L275.8 324.7L276.3 324.7L276.8 324.7L277.3 324.7L277.8 324.7L278.3 324.7L278.8 324.7L279.3 324.7L279.7 324.6L280.2 324.6L280.7 324.6L281.2 324.5L281.7 324.5L282.2 324.4L282.7 324.2L283.2 324.1L283.6 323.8L284.1 323.5L284.6 323.2L285.1 322.7L285.6 322.2L286.1 321.6L286.6 320.8L287.1 320L287.5 319L288 318L288.5 316.9L289 315.7L289.5 314.5L290 313.4L290.5 312.3L290.9 311.2L291.4 310.3L291.9 309.6L292.4 309.1L292.9 308.8L293.4 308.7L293.9 309.2L294.4 310.3L294.8 311.9L295.3 313.9L295.8 315.9L296.3 317.9L296.8 319.7L297.3 321.1L297.8 322.3L298.3 323.1L298.7 323.7L299.2 324.1L299.7 324.4L300.2 324.5L300.7 324.6L301.2 324.7L301.7 324.7L302.2 324.7L302.6 324.7L303.1 324.7L303.6 324.7L304.1 324.7L304.6 324.7L305.1 324.7L305.6 324.7L306.1 324.7L306.5 324.7L307 324.7L307.5 324.7L308 324.7L308.5 324.7L309 324.7L309.5 324.7L310 324.7L310.4 324.7L310.9 324.7L311.4 324.7L311.9 324.7L312.4 324.7L312.9 324.7L313.4 324.7L313.9 324.7L314.3 324.7L314.8 324.7L315.3 324.7L315.8 324.7" fill="none" stroke="#bb3848" stroke-width="0.9" stroke-linejoin="round"/>
<path d="M262.2 315.4L262.2 315.4L262.7 315.4L263.2 315.4L263.7 315.4L264.1 315.4L264.6 315.4L265.1 315.4L265.6 315.4L266.1 315.4L266.6 315.4L267.1 315.4L267.6 315.4L268 315.4L268.5 315.4L269 315.4L269.5 315.4L270 315.4L270.5 315.4L271 315.4L271.5 315.4L271.9 315.4L272.4 315.4L272.9 315.4L273.4 315.4L273.9 315.4L274.4 315.4L274.9 315.4L275.4 315.4L275.8 315.4L276.3 315.4L276.8 315.4L277.3 315.4L277.8 315.4L278.3 315.4L278.8 315.4L279.3 315.4L279.7 315.4L280.2 315.4L280.7 315.4L281.2 315.4L281.7 315.4L282.2 315.4L282.7 315.4L283.2 315.4L283.6 315.4L284.1 315.4L284.6 315.4L285.1 315.4L285.6 315.4L286.1 315.4L286.6 315.4L287.1 315.4L287.5 315.3L288 315.3L288.5 315.1L289 314.9L289.5 314.6L290 314.1L290.5 313.4L290.9 312.4L291.4 311.2L291.9 309.6L292.4 307.8L292.9 305.8L293.4 303.7L293.9 301.8L294.4 300.3L294.8 299.2L295.3 298.8L295.8 299L296.3 299.8L296.8 301L297.3 302.6L297.8 304.4L298.3 306.3L298.7 308.1L299.2 309.8L299.7 311.2L300.2 312.4L300.7 313.3L301.2 314L301.7 314.5L302.2 314.8L302.6 315.1L303.1 315.2L303.6 315.3L304.1 315.3L304.6 315.4L305.1 315.4L305.6 315.4L306.1 315.4L306.5 315.4L307 315.4L307.5 315.4L308 315.4L308.5 315.4L309 315.4L309.5 315.4L310 315.4L310.4 315.4L310.9 315.4L311.4 315.4L311.9 315.4L312.4 315.4L312.9 315.4L313.4 315.4L313.9 315.4L314.3 315.4L314.8 315.4L315.3 315.4L315.8 315.4L315.8 315.4Z" fill="rgba(135,148,205,0.40)" stroke="none"/>
<path d="M262.2 315.4L262.7 315.4L263.2 315.4L263.7 315.4L264.1 315.4L264.6 315.4L265.1 315.4L265.6 315.4L266.1 315.4L266.6 315.4L267.1 315.4L267.6 315.4L268 315.4L268.5 315.4L269 315.4L269.5 315.4L270 315.4L270.5 315.4L271 315.4L271.5 315.4L271.9 315.4L272.4 315.4L272.9 315.4L273.4 315.4L273.9 315.4L274.4 315.4L274.9 315.4L275.4 315.4L275.8 315.4L276.3 315.4L276.8 315.4L277.3 315.4L277.8 315.4L278.3 315.4L278.8 315.4L279.3 315.4L279.7 315.4L280.2 315.4L280.7 315.4L281.2 315.4L281.7 315.4L282.2 315.4L282.7 315.4L283.2 315.4L283.6 315.4L284.1 315.4L284.6 315.4L285.1 315.4L285.6 315.4L286.1 315.4L286.6 315.4L287.1 315.4L287.5 315.3L288 315.3L288.5 315.1L289 314.9L289.5 314.6L290 314.1L290.5 313.4L290.9 312.4L291.4 311.2L291.9 309.6L292.4 307.8L292.9 305.8L293.4 303.7L293.9 301.8L294.4 300.3L294.8 299.2L295.3 298.8L295.8 299L296.3 299.8L296.8 301L297.3 302.6L297.8 304.4L298.3 306.3L298.7 308.1L299.2 309.8L299.7 311.2L300.2 312.4L300.7 313.3L301.2 314L301.7 314.5L302.2 314.8L302.6 315.1L303.1 315.2L303.6 315.3L304.1 315.3L304.6 315.4L305.1 315.4L305.6 315.4L306.1 315.4L306.5 315.4L307 315.4L307.5 315.4L308 315.4L308.5 315.4L309 315.4L309.5 315.4L310 315.4L310.4 315.4L310.9 315.4L311.4 315.4L311.9 315.4L312.4 315.4L312.9 315.4L313.4 315.4L313.9 315.4L314.3 315.4L314.8 315.4L315.3 315.4L315.8 315.4" fill="none" stroke="#485a7e" stroke-width="0.9" stroke-linejoin="round"/>
<line x1="286.4" y1="299" x2="286.4" y2="350.5" stroke="#505050" stroke-width="0.95" stroke-dasharray="3 3"/>
<rect x="261.6" y="295.5" width="54.8" height="55" fill="none" stroke="#333" stroke-width="1.05"/>
<path d="M261.6 350.5v2.4M264.3 350.5v1.3M266 350.5v1.3M267.1 350.5v1.3M268 350.5v1.3M268.7 350.5v1.3M269.3 350.5v1.3M269.8 350.5v1.3M270.3 350.5v1.3M270.7 350.5v2.4M273.5 350.5v1.3M275.1 350.5v1.3M276.2 350.5v1.3M277.1 350.5v1.3M277.8 350.5v1.3M278.5 350.5v1.3M279 350.5v1.3M279.4 350.5v1.3M279.9 350.5v2.4M282.6 350.5v1.3M284.2 350.5v1.3M285.4 350.5v1.3M286.3 350.5v1.3M287 350.5v1.3M287.6 350.5v1.3M288.1 350.5v1.3M288.6 350.5v1.3M289 350.5v2.4M291.7 350.5v1.3M293.4 350.5v1.3M294.5 350.5v1.3M295.4 350.5v1.3M296.1 350.5v1.3M296.7 350.5v1.3M297.2 350.5v1.3M297.7 350.5v1.3M298.1 350.5v2.4M300.9 350.5v1.3M302.5 350.5v1.3M303.6 350.5v1.3M304.5 350.5v1.3M305.2 350.5v1.3M305.9 350.5v1.3M306.4 350.5v1.3M306.8 350.5v1.3M307.3 350.5v2.4M310 350.5v1.3M311.6 350.5v1.3M312.8 350.5v1.3M313.7 350.5v1.3M314.4 350.5v1.3M315 350.5v1.3M315.5 350.5v1.3M316 350.5v1.3M316.4 350.5v2.4" stroke="#222" stroke-width="0.6" fill="none"/>
<text x="354.2" y="288.1" font-size="7.3" text-anchor="middle" textLength="16.4" lengthAdjust="spacingAndGlyphs">PDX3</text>
<path d="M327.2 350.1L327.2 350.1L327.7 350.1L328.2 350.1L328.7 350.1L329.1 350.1L329.6 350.1L330.1 350.1L330.6 350.1L331.1 350.1L331.6 350.1L332.1 350.1L332.6 350.1L333 350L333.5 350L334 350L334.5 349.9L335 349.8L335.5 349.7L336 349.6L336.5 349.4L336.9 349.1L337.4 348.8L337.9 348.4L338.4 347.9L338.9 347.3L339.4 346.6L339.9 345.8L340.4 344.9L340.8 343.9L341.3 342.8L341.8 341.7L342.3 340.6L342.8 339.5L343.3 338.5L343.8 337.5L344.3 336.7L344.7 336.1L345.2 335.8L345.7 335.6L346.2 335.8L346.7 336.6L347.2 338L347.7 339.7L348.2 341.5L348.6 343.3L349.1 345L349.6 346.4L350.1 347.6L350.6 348.4L351.1 349.1L351.6 349.5L352.1 349.7L352.5 349.9L353 350L353.5 350L354 350.1L354.5 350.1L355 350.1L355.5 350.1L355.9 350.1L356.4 350.1L356.9 350.1L357.4 350.1L357.9 350.1L358.4 350.1L358.9 350.1L359.4 350.1L359.8 350.1L360.3 350.1L360.8 350.1L361.3 350.1L361.8 350.1L362.3 350.1L362.8 350.1L363.3 350.1L363.7 350.1L364.2 350.1L364.7 350.1L365.2 350.1L365.7 350.1L366.2 350.1L366.7 350.1L367.2 350.1L367.6 350.1L368.1 350.1L368.6 350.1L369.1 350.1L369.6 350.1L370.1 350.1L370.6 350.1L371.1 350.1L371.5 350.1L372 350.1L372.5 350.1L373 350.1L373.5 350.1L374 350.1L374.5 350.1L375 350.1L375.4 350.1L375.9 350.1L376.4 350.1L376.9 350.1L377.4 350.1L377.9 350.1L378.4 350.1L378.9 350.1L379.3 350.1L379.8 350.1L380.3 350.1L380.8 350.1L380.8 350.1Z" fill="rgba(210,210,218,0.5)" stroke="none"/>
<path d="M327.2 350.1L327.7 350.1L328.2 350.1L328.7 350.1L329.1 350.1L329.6 350.1L330.1 350.1L330.6 350.1L331.1 350.1L331.6 350.1L332.1 350.1L332.6 350.1L333 350L333.5 350L334 350L334.5 349.9L335 349.8L335.5 349.7L336 349.6L336.5 349.4L336.9 349.1L337.4 348.8L337.9 348.4L338.4 347.9L338.9 347.3L339.4 346.6L339.9 345.8L340.4 344.9L340.8 343.9L341.3 342.8L341.8 341.7L342.3 340.6L342.8 339.5L343.3 338.5L343.8 337.5L344.3 336.7L344.7 336.1L345.2 335.8L345.7 335.6L346.2 335.8L346.7 336.6L347.2 338L347.7 339.7L348.2 341.5L348.6 343.3L349.1 345L349.6 346.4L350.1 347.6L350.6 348.4L351.1 349.1L351.6 349.5L352.1 349.7L352.5 349.9L353 350L353.5 350L354 350.1L354.5 350.1L355 350.1L355.5 350.1L355.9 350.1L356.4 350.1L356.9 350.1L357.4 350.1L357.9 350.1L358.4 350.1L358.9 350.1L359.4 350.1L359.8 350.1L360.3 350.1L360.8 350.1L361.3 350.1L361.8 350.1L362.3 350.1L362.8 350.1L363.3 350.1L363.7 350.1L364.2 350.1L364.7 350.1L365.2 350.1L365.7 350.1L366.2 350.1L366.7 350.1L367.2 350.1L367.6 350.1L368.1 350.1L368.6 350.1L369.1 350.1L369.6 350.1L370.1 350.1L370.6 350.1L371.1 350.1L371.5 350.1L372 350.1L372.5 350.1L373 350.1L373.5 350.1L374 350.1L374.5 350.1L375 350.1L375.4 350.1L375.9 350.1L376.4 350.1L376.9 350.1L377.4 350.1L377.9 350.1L378.4 350.1L378.9 350.1L379.3 350.1L379.8 350.1L380.3 350.1L380.8 350.1" fill="none" stroke="#aaaab2" stroke-width="0.6" stroke-linejoin="round"/>
<path d="M327.2 342.2L327.2 342.2L327.7 342.2L328.2 342.2L328.7 342.2L329.1 342.2L329.6 342.2L330.1 342.2L330.6 342.2L331.1 342.2L331.6 342.2L332.1 342.2L332.6 342.2L333 342.2L333.5 342.2L334 342.2L334.5 342.2L335 342.2L335.5 342.2L336 342.2L336.5 342.2L336.9 342.2L337.4 342.2L337.9 342.2L338.4 342.2L338.9 342.2L339.4 342.2L339.9 342.2L340.4 342.2L340.8 342.2L341.3 342.2L341.8 342.2L342.3 342.2L342.8 342.2L343.3 342.2L343.8 342.2L344.3 342.2L344.7 342.2L345.2 342.2L345.7 342.2L346.2 342.2L346.7 342.2L347.2 342.2L347.7 342.2L348.2 342.2L348.6 342.2L349.1 342.1L349.6 342.1L350.1 342.1L350.6 342L351.1 341.9L351.6 341.8L352.1 341.7L352.5 341.4L353 341.2L353.5 340.8L354 340.4L354.5 339.9L355 339.3L355.5 338.5L355.9 337.7L356.4 336.8L356.9 335.7L357.4 334.7L357.9 333.5L358.4 332.4L358.9 331.3L359.4 330.2L359.8 329.3L360.3 328.6L360.8 328L361.3 327.6L361.8 327.5L362.3 328L362.8 329.5L363.3 331.6L363.7 334L364.2 336.3L364.7 338.3L365.2 339.7L365.7 340.8L366.2 341.4L366.7 341.8L367.2 342L367.6 342.1L368.1 342.2L368.6 342.2L369.1 342.2L369.6 342.2L370.1 342.2L370.6 342.2L371.1 342.2L371.5 342.2L372 342.2L372.5 342.2L373 342.2L373.5 342.2L374 342.2L374.5 342.2L375 342.2L375.4 342.2L375.9 342.2L376.4 342.2L376.9 342.2L377.4 342.2L377.9 342.2L378.4 342.2L378.9 342.2L379.3 342.2L379.8 342.2L380.3 342.2L380.8 342.2L380.8 342.2Z" fill="rgba(238,125,110,0.38)" stroke="none"/>
<path d="M327.2 342.2L327.7 342.2L328.2 342.2L328.7 342.2L329.1 342.2L329.6 342.2L330.1 342.2L330.6 342.2L331.1 342.2L331.6 342.2L332.1 342.2L332.6 342.2L333 342.2L333.5 342.2L334 342.2L334.5 342.2L335 342.2L335.5 342.2L336 342.2L336.5 342.2L336.9 342.2L337.4 342.2L337.9 342.2L338.4 342.2L338.9 342.2L339.4 342.2L339.9 342.2L340.4 342.2L340.8 342.2L341.3 342.2L341.8 342.2L342.3 342.2L342.8 342.2L343.3 342.2L343.8 342.2L344.3 342.2L344.7 342.2L345.2 342.2L345.7 342.2L346.2 342.2L346.7 342.2L347.2 342.2L347.7 342.2L348.2 342.2L348.6 342.2L349.1 342.1L349.6 342.1L350.1 342.1L350.6 342L351.1 341.9L351.6 341.8L352.1 341.7L352.5 341.4L353 341.2L353.5 340.8L354 340.4L354.5 339.9L355 339.3L355.5 338.5L355.9 337.7L356.4 336.8L356.9 335.7L357.4 334.7L357.9 333.5L358.4 332.4L358.9 331.3L359.4 330.2L359.8 329.3L360.3 328.6L360.8 328L361.3 327.6L361.8 327.5L362.3 328L362.8 329.5L363.3 331.6L363.7 334L364.2 336.3L364.7 338.3L365.2 339.7L365.7 340.8L366.2 341.4L366.7 341.8L367.2 342L367.6 342.1L368.1 342.2L368.6 342.2L369.1 342.2L369.6 342.2L370.1 342.2L370.6 342.2L371.1 342.2L371.5 342.2L372 342.2L372.5 342.2L373 342.2L373.5 342.2L374 342.2L374.5 342.2L375 342.2L375.4 342.2L375.9 342.2L376.4 342.2L376.9 342.2L377.4 342.2L377.9 342.2L378.4 342.2L378.9 342.2L379.3 342.2L379.8 342.2L380.3 342.2L380.8 342.2" fill="none" stroke="#bb3848" stroke-width="0.9" stroke-linejoin="round"/>
<path d="M327.2 333.5L327.2 333.5L327.7 333.5L328.2 333.5L328.7 333.5L329.1 333.5L329.6 333.5L330.1 333.5L330.6 333.5L331.1 333.5L331.6 333.5L332.1 333.5L332.6 333.5L333 333.5L333.5 333.5L334 333.5L334.5 333.5L335 333.5L335.5 333.5L336 333.5L336.5 333.5L336.9 333.5L337.4 333.5L337.9 333.5L338.4 333.5L338.9 333.5L339.4 333.5L339.9 333.5L340.4 333.5L340.8 333.5L341.3 333.5L341.8 333.5L342.3 333.5L342.8 333.5L343.3 333.5L343.8 333.5L344.3 333.5L344.7 333.5L345.2 333.5L345.7 333.5L346.2 333.5L346.7 333.5L347.2 333.5L347.7 333.5L348.2 333.5L348.6 333.5L349.1 333.5L349.6 333.5L350.1 333.5L350.6 333.5L351.1 333.5L351.6 333.5L352.1 333.5L352.5 333.5L353 333.5L353.5 333.4L354 333.4L354.5 333.4L355 333.3L355.5 333.2L355.9 333.1L356.4 333L356.9 332.9L357.4 332.8L357.9 332.6L358.4 332.5L358.9 332.4L359.4 332.2L359.8 332.1L360.3 332.1L360.8 332L361.3 332L361.8 332.1L362.3 332.1L362.8 332.1L363.3 331.7L363.7 330.4L364.2 327.7L364.7 323.8L365.2 320L365.7 318.5L366.2 320.2L366.7 324.1L367.2 328.3L367.6 331.2L368.1 332.7L368.6 333.2L369.1 333.4L369.6 333.5L370.1 333.5L370.6 333.5L371.1 333.5L371.5 333.5L372 333.5L372.5 333.5L373 333.5L373.5 333.5L374 333.5L374.5 333.5L375 333.5L375.4 333.5L375.9 333.5L376.4 333.5L376.9 333.5L377.4 333.5L377.9 333.5L378.4 333.5L378.9 333.5L379.3 333.5L379.8 333.5L380.3 333.5L380.8 333.5L380.8 333.5Z" fill="rgba(135,148,205,0.40)" stroke="none"/>
<path d="M327.2 333.5L327.7 333.5L328.2 333.5L328.7 333.5L329.1 333.5L329.6 333.5L330.1 333.5L330.6 333.5L331.1 333.5L331.6 333.5L332.1 333.5L332.6 333.5L333 333.5L333.5 333.5L334 333.5L334.5 333.5L335 333.5L335.5 333.5L336 333.5L336.5 333.5L336.9 333.5L337.4 333.5L337.9 333.5L338.4 333.5L338.9 333.5L339.4 333.5L339.9 333.5L340.4 333.5L340.8 333.5L341.3 333.5L341.8 333.5L342.3 333.5L342.8 333.5L343.3 333.5L343.8 333.5L344.3 333.5L344.7 333.5L345.2 333.5L345.7 333.5L346.2 333.5L346.7 333.5L347.2 333.5L347.7 333.5L348.2 333.5L348.6 333.5L349.1 333.5L349.6 333.5L350.1 333.5L350.6 333.5L351.1 333.5L351.6 333.5L352.1 333.5L352.5 333.5L353 333.5L353.5 333.4L354 333.4L354.5 333.4L355 333.3L355.5 333.2L355.9 333.1L356.4 333L356.9 332.9L357.4 332.8L357.9 332.6L358.4 332.5L358.9 332.4L359.4 332.2L359.8 332.1L360.3 332.1L360.8 332L361.3 332L361.8 332.1L362.3 332.1L362.8 332.1L363.3 331.7L363.7 330.4L364.2 327.7L364.7 323.8L365.2 320L365.7 318.5L366.2 320.2L366.7 324.1L367.2 328.3L367.6 331.2L368.1 332.7L368.6 333.2L369.1 333.4L369.6 333.5L370.1 333.5L370.6 333.5L371.1 333.5L371.5 333.5L372 333.5L372.5 333.5L373 333.5L373.5 333.5L374 333.5L374.5 333.5L375 333.5L375.4 333.5L375.9 333.5L376.4 333.5L376.9 333.5L377.4 333.5L377.9 333.5L378.4 333.5L378.9 333.5L379.3 333.5L379.8 333.5L380.3 333.5L380.8 333.5" fill="none" stroke="#485a7e" stroke-width="0.9" stroke-linejoin="round"/>
<path d="M327.2 324.7L327.2 324.7L327.7 324.7L328.2 324.7L328.7 324.7L329.1 324.7L329.6 324.7L330.1 324.7L330.6 324.7L331.1 324.7L331.6 324.7L332.1 324.7L332.6 324.7L333 324.7L333.5 324.7L334 324.7L334.5 324.7L335 324.7L335.5 324.7L336 324.7L336.5 324.7L336.9 324.7L337.4 324.7L337.9 324.7L338.4 324.7L338.9 324.7L339.4 324.7L339.9 324.7L340.4 324.7L340.8 324.7L341.3 324.7L341.8 324.7L342.3 324.7L342.8 324.7L343.3 324.7L343.8 324.7L344.3 324.7L344.7 324.7L345.2 324.7L345.7 324.7L346.2 324.7L346.7 324.7L347.2 324.7L347.7 324.7L348.2 324.7L348.6 324.7L349.1 324.7L349.6 324.7L350.1 324.7L350.6 324.6L351.1 324.6L351.6 324.6L352.1 324.5L352.5 324.4L353 324.3L353.5 324.1L354 323.9L354.5 323.6L355 323.2L355.5 322.8L355.9 322.2L356.4 321.5L356.9 320.8L357.4 319.9L357.9 318.9L358.4 317.9L358.9 316.9L359.4 315.8L359.8 314.8L360.3 313.8L360.8 313L361.3 312.4L361.8 311.9L362.3 311.7L362.8 311.9L363.3 313.1L363.7 315.1L364.2 317.5L364.7 319.7L365.2 321.6L365.7 322.9L366.2 323.8L366.7 324.3L367.2 324.5L367.6 324.6L368.1 324.7L368.6 324.7L369.1 324.7L369.6 324.7L370.1 324.7L370.6 324.7L371.1 324.7L371.5 324.7L372 324.7L372.5 324.7L373 324.7L373.5 324.7L374 324.7L374.5 324.7L375 324.7L375.4 324.7L375.9 324.7L376.4 324.7L376.9 324.7L377.4 324.7L377.9 324.7L378.4 324.7L378.9 324.7L379.3 324.7L379.8 324.7L380.3 324.7L380.8 324.7L380.8 324.7Z" fill="rgba(238,125,110,0.38)" stroke="none"/>
<path d="M327.2 324.7L327.7 324.7L328.2 324.7L328.7 324.7L329.1 324.7L329.6 324.7L330.1 324.7L330.6 324.7L331.1 324.7L331.6 324.7L332.1 324.7L332.6 324.7L333 324.7L333.5 324.7L334 324.7L334.5 324.7L335 324.7L335.5 324.7L336 324.7L336.5 324.7L336.9 324.7L337.4 324.7L337.9 324.7L338.4 324.7L338.9 324.7L339.4 324.7L339.9 324.7L340.4 324.7L340.8 324.7L341.3 324.7L341.8 324.7L342.3 324.7L342.8 324.7L343.3 324.7L343.8 324.7L344.3 324.7L344.7 324.7L345.2 324.7L345.7 324.7L346.2 324.7L346.7 324.7L347.2 324.7L347.7 324.7L348.2 324.7L348.6 324.7L349.1 324.7L349.6 324.7L350.1 324.7L350.6 324.6L351.1 324.6L351.6 324.6L352.1 324.5L352.5 324.4L353 324.3L353.5 324.1L354 323.9L354.5 323.6L355 323.2L355.5 322.8L355.9 322.2L356.4 321.5L356.9 320.8L357.4 319.9L357.9 318.9L358.4 317.9L358.9 316.9L359.4 315.8L359.8 314.8L360.3 313.8L360.8 313L361.3 312.4L361.8 311.9L362.3 311.7L362.8 311.9L363.3 313.1L363.7 315.1L364.2 317.5L364.7 319.7L365.2 321.6L365.7 322.9L366.2 323.8L366.7 324.3L367.2 324.5L367.6 324.6L368.1 324.7L368.6 324.7L369.1 324.7L369.6 324.7L370.1 324.7L370.6 324.7L371.1 324.7L371.5 324.7L372 324.7L372.5 324.7L373 324.7L373.5 324.7L374 324.7L374.5 324.7L375 324.7L375.4 324.7L375.9 324.7L376.4 324.7L376.9 324.7L377.4 324.7L377.9 324.7L378.4 324.7L378.9 324.7L379.3 324.7L379.8 324.7L380.3 324.7L380.8 324.7" fill="none" stroke="#bb3848" stroke-width="0.9" stroke-linejoin="round"/>
<path d="M327.2 315.4L327.2 315.4L327.7 315.4L328.2 315.4L328.7 315.4L329.1 315.4L329.6 315.4L330.1 315.4L330.6 315.4L331.1 315.4L331.6 315.4L332.1 315.4L332.6 315.4L333 315.4L333.5 315.4L334 315.4L334.5 315.4L335 315.4L335.5 315.4L336 315.4L336.5 315.4L336.9 315.4L337.4 315.4L337.9 315.4L338.4 315.4L338.9 315.4L339.4 315.4L339.9 315.4L340.4 315.4L340.8 315.4L341.3 315.4L341.8 315.4L342.3 315.4L342.8 315.4L343.3 315.4L343.8 315.4L344.3 315.4L344.7 315.4L345.2 315.4L345.7 315.4L346.2 315.4L346.7 315.4L347.2 315.4L347.7 315.4L348.2 315.4L348.6 315.4L349.1 315.4L349.6 315.4L350.1 315.4L350.6 315.4L351.1 315.4L351.6 315.4L352.1 315.3L352.5 315.3L353 315.3L353.5 315.2L354 315.2L354.5 315.1L355 315L355.5 314.8L355.9 314.7L356.4 314.5L356.9 314.4L357.4 314.2L357.9 314L358.4 313.9L358.9 313.8L359.4 313.7L359.8 313.6L360.3 313.6L360.8 313.7L361.3 313.8L361.8 313.9L362.3 314L362.8 314L363.3 313.7L363.7 312.4L364.2 309.7L364.7 305.8L365.2 302L365.7 300.4L366.2 302.1L366.7 306.1L367.2 310.2L367.6 313.1L368.1 314.6L368.6 315.2L369.1 315.3L369.6 315.4L370.1 315.4L370.6 315.4L371.1 315.4L371.5 315.4L372 315.4L372.5 315.4L373 315.4L373.5 315.4L374 315.4L374.5 315.4L375 315.4L375.4 315.4L375.9 315.4L376.4 315.4L376.9 315.4L377.4 315.4L377.9 315.4L378.4 315.4L378.9 315.4L379.3 315.4L379.8 315.4L380.3 315.4L380.8 315.4L380.8 315.4Z" fill="rgba(135,148,205,0.40)" stroke="none"/>
<path d="M327.2 315.4L327.7 315.4L328.2 315.4L328.7 315.4L329.1 315.4L329.6 315.4L330.1 315.4L330.6 315.4L331.1 315.4L331.6 315.4L332.1 315.4L332.6 315.4L333 315.4L333.5 315.4L334 315.4L334.5 315.4L335 315.4L335.5 315.4L336 315.4L336.5 315.4L336.9 315.4L337.4 315.4L337.9 315.4L338.4 315.4L338.9 315.4L339.4 315.4L339.9 315.4L340.4 315.4L340.8 315.4L341.3 315.4L341.8 315.4L342.3 315.4L342.8 315.4L343.3 315.4L343.8 315.4L344.3 315.4L344.7 315.4L345.2 315.4L345.7 315.4L346.2 315.4L346.7 315.4L347.2 315.4L347.7 315.4L348.2 315.4L348.6 315.4L349.1 315.4L349.6 315.4L350.1 315.4L350.6 315.4L351.1 315.4L351.6 315.4L352.1 315.3L352.5 315.3L353 315.3L353.5 315.2L354 315.2L354.5 315.1L355 315L355.5 314.8L355.9 314.7L356.4 314.5L356.9 314.4L357.4 314.2L357.9 314L358.4 313.9L358.9 313.8L359.4 313.7L359.8 313.6L360.3 313.6L360.8 313.7L361.3 313.8L361.8 313.9L362.3 314L362.8 314L363.3 313.7L363.7 312.4L364.2 309.7L364.7 305.8L365.2 302L365.7 300.4L366.2 302.1L366.7 306.1L367.2 310.2L367.6 313.1L368.1 314.6L368.6 315.2L369.1 315.3L369.6 315.4L370.1 315.4L370.6 315.4L371.1 315.4L371.5 315.4L372 315.4L372.5 315.4L373 315.4L373.5 315.4L374 315.4L374.5 315.4L375 315.4L375.4 315.4L375.9 315.4L376.4 315.4L376.9 315.4L377.4 315.4L377.9 315.4L378.4 315.4L378.9 315.4L379.3 315.4L379.8 315.4L380.3 315.4L380.8 315.4" fill="none" stroke="#485a7e" stroke-width="0.9" stroke-linejoin="round"/>
<line x1="351.4" y1="299" x2="351.4" y2="350.5" stroke="#505050" stroke-width="0.95" stroke-dasharray="3 3"/>
<rect x="326.6" y="295.5" width="54.8" height="55" fill="none" stroke="#333" stroke-width="1.05"/>
<path d="M326.6 350.5v2.4M329.3 350.5v1.3M331 350.5v1.3M332.1 350.5v1.3M333 350.5v1.3M333.7 350.5v1.3M334.3 350.5v1.3M334.8 350.5v1.3M335.3 350.5v1.3M335.7 350.5v2.4M338.5 350.5v1.3M340.1 350.5v1.3M341.2 350.5v1.3M342.1 350.5v1.3M342.8 350.5v1.3M343.5 350.5v1.3M344 350.5v1.3M344.4 350.5v1.3M344.9 350.5v2.4M347.6 350.5v1.3M349.2 350.5v1.3M350.4 350.5v1.3M351.3 350.5v1.3M352 350.5v1.3M352.6 350.5v1.3M353.1 350.5v1.3M353.6 350.5v1.3M354 350.5v2.4M356.7 350.5v1.3M358.4 350.5v1.3M359.5 350.5v1.3M360.4 350.5v1.3M361.1 350.5v1.3M361.7 350.5v1.3M362.2 350.5v1.3M362.7 350.5v1.3M363.1 350.5v2.4M365.9 350.5v1.3M367.5 350.5v1.3M368.6 350.5v1.3M369.5 350.5v1.3M370.2 350.5v1.3M370.9 350.5v1.3M371.4 350.5v1.3M371.8 350.5v1.3M372.3 350.5v2.4M375 350.5v1.3M376.6 350.5v1.3M377.8 350.5v1.3M378.7 350.5v1.3M379.4 350.5v1.3M380 350.5v1.3M380.5 350.5v1.3M381 350.5v1.3M381.4 350.5v2.4" stroke="#222" stroke-width="0.6" fill="none"/>
<text x="420.3" y="288.1" font-size="7.3" text-anchor="middle" textLength="16.4" lengthAdjust="spacingAndGlyphs">PDX4</text>
<path d="M393.3 350.1L393.3 350.1L393.8 350.1L394.3 350.1L394.8 350.1L395.2 350.1L395.7 350.1L396.2 350.1L396.7 350.1L397.2 350.1L397.7 350.1L398.2 350.1L398.7 350.1L399.1 350L399.6 350L400.1 349.9L400.6 349.9L401.1 349.8L401.6 349.7L402.1 349.5L402.6 349.3L403 349L403.5 348.7L404 348.3L404.5 347.8L405 347.2L405.5 346.5L406 345.7L406.5 344.8L406.9 343.9L407.4 342.8L407.9 341.7L408.4 340.7L408.9 339.6L409.4 338.5L409.9 337.6L410.4 336.8L410.8 336.1L411.3 335.6L411.8 335.4L412.3 335.3L412.8 335.7L413.3 336.5L413.8 337.7L414.3 339.3L414.7 340.9L415.2 342.6L415.7 344.2L416.2 345.6L416.7 346.8L417.2 347.7L417.7 348.5L418.2 349L418.6 349.4L419.1 349.7L419.6 349.8L420.1 350L420.6 350L421.1 350.1L421.6 350.1L422 350.1L422.5 350.1L423 350.1L423.5 350.1L424 350.1L424.5 350.1L425 350.1L425.5 350.1L425.9 350.1L426.4 350.1L426.9 350.1L427.4 350.1L427.9 350.1L428.4 350.1L428.9 350.1L429.4 350.1L429.8 350.1L430.3 350.1L430.8 350.1L431.3 350.1L431.8 350.1L432.3 350.1L432.8 350.1L433.3 350.1L433.7 350.1L434.2 350.1L434.7 350.1L435.2 350.1L435.7 350.1L436.2 350.1L436.7 350.1L437.2 350.1L437.6 350.1L438.1 350.1L438.6 350.1L439.1 350.1L439.6 350.1L440.1 350.1L440.6 350.1L441.1 350.1L441.5 350.1L442 350.1L442.5 350.1L443 350.1L443.5 350.1L444 350.1L444.5 350.1L445 350.1L445.4 350.1L445.9 350.1L446.4 350.1L446.9 350.1L446.9 350.1Z" fill="rgba(210,210,218,0.5)" stroke="none"/>
<path d="M393.3 350.1L393.8 350.1L394.3 350.1L394.8 350.1L395.2 350.1L395.7 350.1L396.2 350.1L396.7 350.1L397.2 350.1L397.7 350.1L398.2 350.1L398.7 350.1L399.1 350L399.6 350L400.1 349.9L400.6 349.9L401.1 349.8L401.6 349.7L402.1 349.5L402.6 349.3L403 349L403.5 348.7L404 348.3L404.5 347.8L405 347.2L405.5 346.5L406 345.7L406.5 344.8L406.9 343.9L407.4 342.8L407.9 341.7L408.4 340.7L408.9 339.6L409.4 338.5L409.9 337.6L410.4 336.8L410.8 336.1L411.3 335.6L411.8 335.4L412.3 335.3L412.8 335.7L413.3 336.5L413.8 337.7L414.3 339.3L414.7 340.9L415.2 342.6L415.7 344.2L416.2 345.6L416.7 346.8L417.2 347.7L417.7 348.5L418.2 349L418.6 349.4L419.1 349.7L419.6 349.8L420.1 350L420.6 350L421.1 350.1L421.6 350.1L422 350.1L422.5 350.1L423 350.1L423.5 350.1L424 350.1L424.5 350.1L425 350.1L425.5 350.1L425.9 350.1L426.4 350.1L426.9 350.1L427.4 350.1L427.9 350.1L428.4 350.1L428.9 350.1L429.4 350.1L429.8 350.1L430.3 350.1L430.8 350.1L431.3 350.1L431.8 350.1L432.3 350.1L432.8 350.1L433.3 350.1L433.7 350.1L434.2 350.1L434.7 350.1L435.2 350.1L435.7 350.1L436.2 350.1L436.7 350.1L437.2 350.1L437.6 350.1L438.1 350.1L438.6 350.1L439.1 350.1L439.6 350.1L440.1 350.1L440.6 350.1L441.1 350.1L441.5 350.1L442 350.1L442.5 350.1L443 350.1L443.5 350.1L444 350.1L444.5 350.1L445 350.1L445.4 350.1L445.9 350.1L446.4 350.1L446.9 350.1" fill="none" stroke="#aaaab2" stroke-width="0.6" stroke-linejoin="round"/>
<path d="M393.3 342.2L393.3 342.2L393.8 342.2L394.3 342.2L394.8 342.2L395.2 342.2L395.7 342.2L396.2 342.2L396.7 342.2L397.2 342.2L397.7 342.2L398.2 342.2L398.7 342.2L399.1 342.2L399.6 342.2L400.1 342.2L400.6 342.2L401.1 342.2L401.6 342.2L402.1 342.2L402.6 342.2L403 342.2L403.5 342.2L404 342.2L404.5 342.2L405 342.2L405.5 342.2L406 342.2L406.5 342.2L406.9 342.2L407.4 342.2L407.9 342.2L408.4 342.2L408.9 342.2L409.4 342.2L409.9 342.2L410.4 342.2L410.8 342.1L411.3 342.1L411.8 342L412.3 341.9L412.8 341.8L413.3 341.6L413.8 341.4L414.3 341L414.7 340.6L415.2 340.1L415.7 339.4L416.2 338.6L416.7 337.6L417.2 336.5L417.7 335.3L418.2 334L418.6 332.7L419.1 331.4L419.6 330.1L420.1 328.9L420.6 328L421.1 327.3L421.6 326.8L422 326.7L422.5 326.9L423 327.6L423.5 328.5L424 329.8L424.5 331.2L425 332.7L425.5 334.2L425.9 335.7L426.4 337L426.9 338.2L427.4 339.1L427.9 340L428.4 340.6L428.9 341.1L429.4 341.4L429.8 341.7L430.3 341.9L430.8 342L431.3 342.1L431.8 342.1L432.3 342.2L432.8 342.2L433.3 342.2L433.7 342.2L434.2 342.2L434.7 342.2L435.2 342.2L435.7 342.2L436.2 342.2L436.7 342.2L437.2 342.2L437.6 342.2L438.1 342.2L438.6 342.2L439.1 342.2L439.6 342.2L440.1 342.2L440.6 342.2L441.1 342.2L441.5 342.2L442 342.2L442.5 342.2L443 342.2L443.5 342.2L444 342.2L444.5 342.2L445 342.2L445.4 342.2L445.9 342.2L446.4 342.2L446.9 342.2L446.9 342.2Z" fill="rgba(238,125,110,0.38)" stroke="none"/>
<path d="M393.3 342.2L393.8 342.2L394.3 342.2L394.8 342.2L395.2 342.2L395.7 342.2L396.2 342.2L396.7 342.2L397.2 342.2L397.7 342.2L398.2 342.2L398.7 342.2L399.1 342.2L399.6 342.2L400.1 342.2L400.6 342.2L401.1 342.2L401.6 342.2L402.1 342.2L402.6 342.2L403 342.2L403.5 342.2L404 342.2L404.5 342.2L405 342.2L405.5 342.2L406 342.2L406.5 342.2L406.9 342.2L407.4 342.2L407.9 342.2L408.4 342.2L408.9 342.2L409.4 342.2L409.9 342.2L410.4 342.2L410.8 342.1L411.3 342.1L411.8 342L412.3 341.9L412.8 341.8L413.3 341.6L413.8 341.4L414.3 341L414.7 340.6L415.2 340.1L415.7 339.4L416.2 338.6L416.7 337.6L417.2 336.5L417.7 335.3L418.2 334L418.6 332.7L419.1 331.4L419.6 330.1L420.1 328.9L420.6 328L421.1 327.3L421.6 326.8L422 326.7L422.5 326.9L423 327.6L423.5 328.5L424 329.8L424.5 331.2L425 332.7L425.5 334.2L425.9 335.7L426.4 337L426.9 338.2L427.4 339.1L427.9 340L428.4 340.6L428.9 341.1L429.4 341.4L429.8 341.7L430.3 341.9L430.8 342L431.3 342.1L431.8 342.1L432.3 342.2L432.8 342.2L433.3 342.2L433.7 342.2L434.2 342.2L434.7 342.2L435.2 342.2L435.7 342.2L436.2 342.2L436.7 342.2L437.2 342.2L437.6 342.2L438.1 342.2L438.6 342.2L439.1 342.2L439.6 342.2L440.1 342.2L440.6 342.2L441.1 342.2L441.5 342.2L442 342.2L442.5 342.2L443 342.2L443.5 342.2L444 342.2L444.5 342.2L445 342.2L445.4 342.2L445.9 342.2L446.4 342.2L446.9 342.2" fill="none" stroke="#bb3848" stroke-width="0.9" stroke-linejoin="round"/>
<path d="M393.3 333.5L393.3 333.5L393.8 333.5L394.3 333.5L394.8 333.5L395.2 333.5L395.7 333.5L396.2 333.5L396.7 333.5L397.2 333.5L397.7 333.5L398.2 333.5L398.7 333.5L399.1 333.5L399.6 333.5L400.1 333.5L400.6 333.5L401.1 333.5L401.6 333.5L402.1 333.5L402.6 333.5L403 333.5L403.5 333.5L404 333.5L404.5 333.5L405 333.5L405.5 333.5L406 333.5L406.5 333.5L406.9 333.5L407.4 333.5L407.9 333.5L408.4 333.5L408.9 333.5L409.4 333.5L409.9 333.5L410.4 333.5L410.8 333.5L411.3 333.5L411.8 333.5L412.3 333.5L412.8 333.5L413.3 333.5L413.8 333.5L414.3 333.5L414.7 333.5L415.2 333.5L415.7 333.5L416.2 333.5L416.7 333.5L417.2 333.5L417.7 333.5L418.2 333.5L418.6 333.5L419.1 333.5L419.6 333.5L420.1 333.5L420.6 333.5L421.1 333.5L421.6 333.5L422 333.5L422.5 333.5L423 333.5L423.5 333.5L424 333.5L424.5 333.4L425 333.3L425.5 333.1L425.9 332.8L426.4 332.3L426.9 331.4L427.4 330.2L427.9 328.5L428.4 326.4L428.9 324L429.4 321.6L429.8 319.4L430.3 317.7L430.8 316.9L431.3 317.1L431.8 318.8L432.3 321.4L432.8 324.5L433.3 327.3L433.7 329.7L434.2 331.3L434.7 332.4L435.2 333L435.7 333.3L436.2 333.4L436.7 333.5L437.2 333.5L437.6 333.5L438.1 333.5L438.6 333.5L439.1 333.5L439.6 333.5L440.1 333.5L440.6 333.5L441.1 333.5L441.5 333.5L442 333.5L442.5 333.5L443 333.5L443.5 333.5L444 333.5L444.5 333.5L445 333.5L445.4 333.5L445.9 333.5L446.4 333.5L446.9 333.5L446.9 333.5Z" fill="rgba(135,148,205,0.40)" stroke="none"/>
<path d="M393.3 333.5L393.8 333.5L394.3 333.5L394.8 333.5L395.2 333.5L395.7 333.5L396.2 333.5L396.7 333.5L397.2 333.5L397.7 333.5L398.2 333.5L398.7 333.5L399.1 333.5L399.6 333.5L400.1 333.5L400.6 333.5L401.1 333.5L401.6 333.5L402.1 333.5L402.6 333.5L403 333.5L403.5 333.5L404 333.5L404.5 333.5L405 333.5L405.5 333.5L406 333.5L406.5 333.5L406.9 333.5L407.4 333.5L407.9 333.5L408.4 333.5L408.9 333.5L409.4 333.5L409.9 333.5L410.4 333.5L410.8 333.5L411.3 333.5L411.8 333.5L412.3 333.5L412.8 333.5L413.3 333.5L413.8 333.5L414.3 333.5L414.7 333.5L415.2 333.5L415.7 333.5L416.2 333.5L416.7 333.5L417.2 333.5L417.7 333.5L418.2 333.5L418.6 333.5L419.1 333.5L419.6 333.5L420.1 333.5L420.6 333.5L421.1 333.5L421.6 333.5L422 333.5L422.5 333.5L423 333.5L423.5 333.5L424 333.5L424.5 333.4L425 333.3L425.5 333.1L425.9 332.8L426.4 332.3L426.9 331.4L427.4 330.2L427.9 328.5L428.4 326.4L428.9 324L429.4 321.6L429.8 319.4L430.3 317.7L430.8 316.9L431.3 317.1L431.8 318.8L432.3 321.4L432.8 324.5L433.3 327.3L433.7 329.7L434.2 331.3L434.7 332.4L435.2 333L435.7 333.3L436.2 333.4L436.7 333.5L437.2 333.5L437.6 333.5L438.1 333.5L438.6 333.5L439.1 333.5L439.6 333.5L440.1 333.5L440.6 333.5L441.1 333.5L441.5 333.5L442 333.5L442.5 333.5L443 333.5L443.5 333.5L444 333.5L444.5 333.5L445 333.5L445.4 333.5L445.9 333.5L446.4 333.5L446.9 333.5" fill="none" stroke="#485a7e" stroke-width="0.9" stroke-linejoin="round"/>
<path d="M393.3 324.7L393.3 324.7L393.8 324.7L394.3 324.7L394.8 324.7L395.2 324.7L395.7 324.7L396.2 324.7L396.7 324.7L397.2 324.7L397.7 324.7L398.2 324.7L398.7 324.7L399.1 324.7L399.6 324.7L400.1 324.7L400.6 324.7L401.1 324.7L401.6 324.7L402.1 324.7L402.6 324.7L403 324.7L403.5 324.7L404 324.7L404.5 324.7L405 324.7L405.5 324.7L406 324.7L406.5 324.7L406.9 324.7L407.4 324.7L407.9 324.7L408.4 324.7L408.9 324.7L409.4 324.7L409.9 324.7L410.4 324.7L410.8 324.7L411.3 324.7L411.8 324.7L412.3 324.7L412.8 324.6L413.3 324.6L413.8 324.5L414.3 324.4L414.7 324.3L415.2 324L415.7 323.7L416.2 323.3L416.7 322.8L417.2 322.1L417.7 321.3L418.2 320.3L418.6 319.1L419.1 317.8L419.6 316.4L420.1 315L420.6 313.5L421.1 312.1L421.6 310.9L422 309.8L422.5 309.1L423 308.7L423.5 308.7L424 309.1L424.5 310L425 311.3L425.5 312.8L425.9 314.4L426.4 316.1L426.9 317.7L427.4 319.2L427.9 320.5L428.4 321.6L428.9 322.5L429.4 323.2L429.8 323.7L430.3 324L430.8 324.3L431.3 324.4L431.8 324.5L432.3 324.6L432.8 324.6L433.3 324.7L433.7 324.7L434.2 324.7L434.7 324.7L435.2 324.7L435.7 324.7L436.2 324.7L436.7 324.7L437.2 324.7L437.6 324.7L438.1 324.7L438.6 324.7L439.1 324.7L439.6 324.7L440.1 324.7L440.6 324.7L441.1 324.7L441.5 324.7L442 324.7L442.5 324.7L443 324.7L443.5 324.7L444 324.7L444.5 324.7L445 324.7L445.4 324.7L445.9 324.7L446.4 324.7L446.9 324.7L446.9 324.7Z" fill="rgba(238,125,110,0.38)" stroke="none"/>
<path d="M393.3 324.7L393.8 324.7L394.3 324.7L394.8 324.7L395.2 324.7L395.7 324.7L396.2 324.7L396.7 324.7L397.2 324.7L397.7 324.7L398.2 324.7L398.7 324.7L399.1 324.7L399.6 324.7L400.1 324.7L400.6 324.7L401.1 324.7L401.6 324.7L402.1 324.7L402.6 324.7L403 324.7L403.5 324.7L404 324.7L404.5 324.7L405 324.7L405.5 324.7L406 324.7L406.5 324.7L406.9 324.7L407.4 324.7L407.9 324.7L408.4 324.7L408.9 324.7L409.4 324.7L409.9 324.7L410.4 324.7L410.8 324.7L411.3 324.7L411.8 324.7L412.3 324.7L412.8 324.6L413.3 324.6L413.8 324.5L414.3 324.4L414.7 324.3L415.2 324L415.7 323.7L416.2 323.3L416.7 322.8L417.2 322.1L417.7 321.3L418.2 320.3L418.6 319.1L419.1 317.8L419.6 316.4L420.1 315L420.6 313.5L421.1 312.1L421.6 310.9L422 309.8L422.5 309.1L423 308.7L423.5 308.7L424 309.1L424.5 310L425 311.3L425.5 312.8L425.9 314.4L426.4 316.1L426.9 317.7L427.4 319.2L427.9 320.5L428.4 321.6L428.9 322.5L429.4 323.2L429.8 323.7L430.3 324L430.8 324.3L431.3 324.4L431.8 324.5L432.3 324.6L432.8 324.6L433.3 324.7L433.7 324.7L434.2 324.7L434.7 324.7L435.2 324.7L435.7 324.7L436.2 324.7L436.7 324.7L437.2 324.7L437.6 324.7L438.1 324.7L438.6 324.7L439.1 324.7L439.6 324.7L440.1 324.7L440.6 324.7L441.1 324.7L441.5 324.7L442 324.7L442.5 324.7L443 324.7L443.5 324.7L444 324.7L444.5 324.7L445 324.7L445.4 324.7L445.9 324.7L446.4 324.7L446.9 324.7" fill="none" stroke="#bb3848" stroke-width="0.9" stroke-linejoin="round"/>
<path d="M393.3 315.4L393.3 315.4L393.8 315.4L394.3 315.4L394.8 315.4L395.2 315.4L395.7 315.4L396.2 315.4L396.7 315.4L397.2 315.4L397.7 315.4L398.2 315.4L398.7 315.4L399.1 315.4L399.6 315.4L400.1 315.4L400.6 315.4L401.1 315.4L401.6 315.4L402.1 315.4L402.6 315.4L403 315.4L403.5 315.4L404 315.4L404.5 315.4L405 315.4L405.5 315.4L406 315.4L406.5 315.4L406.9 315.4L407.4 315.4L407.9 315.4L408.4 315.4L408.9 315.4L409.4 315.4L409.9 315.4L410.4 315.4L410.8 315.4L411.3 315.4L411.8 315.4L412.3 315.4L412.8 315.4L413.3 315.4L413.8 315.4L414.3 315.4L414.7 315.4L415.2 315.4L415.7 315.4L416.2 315.4L416.7 315.4L417.2 315.4L417.7 315.4L418.2 315.4L418.6 315.4L419.1 315.4L419.6 315.4L420.1 315.4L420.6 315.4L421.1 315.4L421.6 315.4L422 315.4L422.5 315.4L423 315.4L423.5 315.3L424 315.3L424.5 315.2L425 314.9L425.5 314.5L425.9 313.8L426.4 312.8L426.9 311.4L427.4 309.6L427.9 307.3L428.4 304.9L428.9 302.5L429.4 300.5L429.8 299.2L430.3 298.8L430.8 299.7L431.3 301.8L431.8 304.7L432.3 307.7L432.8 310.4L433.3 312.4L433.7 313.8L434.2 314.6L434.7 315L435.2 315.2L435.7 315.3L436.2 315.4L436.7 315.4L437.2 315.4L437.6 315.4L438.1 315.4L438.6 315.4L439.1 315.4L439.6 315.4L440.1 315.4L440.6 315.4L441.1 315.4L441.5 315.4L442 315.4L442.5 315.4L443 315.4L443.5 315.4L444 315.4L444.5 315.4L445 315.4L445.4 315.4L445.9 315.4L446.4 315.4L446.9 315.4L446.9 315.4Z" fill="rgba(135,148,205,0.40)" stroke="none"/>
<path d="M393.3 315.4L393.8 315.4L394.3 315.4L394.8 315.4L395.2 315.4L395.7 315.4L396.2 315.4L396.7 315.4L397.2 315.4L397.7 315.4L398.2 315.4L398.7 315.4L399.1 315.4L399.6 315.4L400.1 315.4L400.6 315.4L401.1 315.4L401.6 315.4L402.1 315.4L402.6 315.4L403 315.4L403.5 315.4L404 315.4L404.5 315.4L405 315.4L405.5 315.4L406 315.4L406.5 315.4L406.9 315.4L407.4 315.4L407.9 315.4L408.4 315.4L408.9 315.4L409.4 315.4L409.9 315.4L410.4 315.4L410.8 315.4L411.3 315.4L411.8 315.4L412.3 315.4L412.8 315.4L413.3 315.4L413.8 315.4L414.3 315.4L414.7 315.4L415.2 315.4L415.7 315.4L416.2 315.4L416.7 315.4L417.2 315.4L417.7 315.4L418.2 315.4L418.6 315.4L419.1 315.4L419.6 315.4L420.1 315.4L420.6 315.4L421.1 315.4L421.6 315.4L422 315.4L422.5 315.4L423 315.4L423.5 315.3L424 315.3L424.5 315.2L425 314.9L425.5 314.5L425.9 313.8L426.4 312.8L426.9 311.4L427.4 309.6L427.9 307.3L428.4 304.9L428.9 302.5L429.4 300.5L429.8 299.2L430.3 298.8L430.8 299.7L431.3 301.8L431.8 304.7L432.3 307.7L432.8 310.4L433.3 312.4L433.7 313.8L434.2 314.6L434.7 315L435.2 315.2L435.7 315.3L436.2 315.4L436.7 315.4L437.2 315.4L437.6 315.4L438.1 315.4L438.6 315.4L439.1 315.4L439.6 315.4L440.1 315.4L440.6 315.4L441.1 315.4L441.5 315.4L442 315.4L442.5 315.4L443 315.4L443.5 315.4L444 315.4L444.5 315.4L445 315.4L445.4 315.4L445.9 315.4L446.4 315.4L446.9 315.4" fill="none" stroke="#485a7e" stroke-width="0.9" stroke-linejoin="round"/>
<line x1="417.8" y1="299" x2="417.8" y2="350.5" stroke="#505050" stroke-width="0.95" stroke-dasharray="3 3"/>
<rect x="392.7" y="295.5" width="54.8" height="55" fill="none" stroke="#333" stroke-width="1.05"/>
<path d="M392.7 350.5v2.4M395.4 350.5v1.3M397.1 350.5v1.3M398.2 350.5v1.3M399.1 350.5v1.3M399.8 350.5v1.3M400.4 350.5v1.3M400.9 350.5v1.3M401.4 350.5v1.3M401.8 350.5v2.4M404.6 350.5v1.3M406.2 350.5v1.3M407.3 350.5v1.3M408.2 350.5v1.3M408.9 350.5v1.3M409.6 350.5v1.3M410.1 350.5v1.3M410.5 350.5v1.3M411 350.5v2.4M413.7 350.5v1.3M415.3 350.5v1.3M416.5 350.5v1.3M417.4 350.5v1.3M418.1 350.5v1.3M418.7 350.5v1.3M419.2 350.5v1.3M419.7 350.5v1.3M420.1 350.5v2.4M422.8 350.5v1.3M424.5 350.5v1.3M425.6 350.5v1.3M426.5 350.5v1.3M427.2 350.5v1.3M427.8 350.5v1.3M428.3 350.5v1.3M428.8 350.5v1.3M429.2 350.5v2.4M432 350.5v1.3M433.6 350.5v1.3M434.7 350.5v1.3M435.6 350.5v1.3M436.3 350.5v1.3M437 350.5v1.3M437.5 350.5v1.3M437.9 350.5v1.3M438.4 350.5v2.4M441.1 350.5v1.3M442.7 350.5v1.3M443.9 350.5v1.3M444.8 350.5v1.3M445.5 350.5v1.3M446.1 350.5v1.3M446.6 350.5v1.3M447.1 350.5v1.3M447.5 350.5v2.4" stroke="#222" stroke-width="0.6" fill="none"/>
<text transform="translate(191.8 237) rotate(-90)" text-anchor="middle" font-size="7.0" textLength="16.8" lengthAdjust="spacingAndGlyphs">Day 2</text>
<text transform="translate(191.8 260.7) rotate(-90)" text-anchor="middle" font-size="7.0" textLength="16.8" lengthAdjust="spacingAndGlyphs">Day 4</text>
<text transform="translate(191.5 314.2) rotate(-90)" text-anchor="middle" font-size="7.0" textLength="16.8" lengthAdjust="spacingAndGlyphs">Day 2</text>
<text transform="translate(191.5 337.5) rotate(-90)" text-anchor="middle" font-size="7.0" textLength="16.8" lengthAdjust="spacingAndGlyphs">Day 4</text>
<line x1="195.7" y1="359.2" x2="509" y2="359.2" stroke="#1a1a1a" stroke-width="1.1"/>
<path d="M513 359.2L507 356.9L507 361.5Z" fill="#1a1a1a"/>
<text x="354.3" y="370.1" font-size="8.8" text-anchor="middle" textLength="20.3" lengthAdjust="spacingAndGlyphs">CXCR4</text>
<rect x="272.6" y="376.3" width="6" height="6" fill="#1b4272"/>
<text x="281.6" y="381.6" font-size="7.0" textLength="20.2" lengthAdjust="spacingAndGlyphs">DMSO</text>
<rect x="315.9" y="376.3" width="6" height="6" fill="#b8132e"/>
<text x="324.6" y="381.6" font-size="7.0" textLength="41.6" lengthAdjust="spacingAndGlyphs">BRM014 1μM</text>
<rect x="379.4" y="376.3" width="6" height="6" fill="#a3a3ad"/>
<text x="389.2" y="381.6" font-size="7.0" textLength="44.8" lengthAdjust="spacingAndGlyphs">Isotype control</text>
<text x="7.6" y="409.4" font-size="12.2" font-weight="bold" fill="#111" textLength="6.7" lengthAdjust="spacingAndGlyphs">F</text>
<text x="124.3" y="423.5" font-size="9" text-anchor="middle">Jurkat</text>
<line x1="61.3" y1="429.5" x2="61.3" y2="533.1" stroke="#222" stroke-width="1.3"/>
<line x1="60.8" y1="532.6" x2="187.5" y2="532.6" stroke="#222" stroke-width="1.3"/>
<line x1="58.5" y1="532.6" x2="61.3" y2="532.6" stroke="#222" stroke-width="1.1"/>
<text x="55.2" y="534.9" font-size="6.5" text-anchor="end">10</text>
<line x1="58.5" y1="507.3" x2="61.3" y2="507.3" stroke="#222" stroke-width="1.1"/>
<text x="55.2" y="509.7" font-size="6.5" text-anchor="end">100</text>
<line x1="58.5" y1="482.1" x2="61.3" y2="482.1" stroke="#222" stroke-width="1.1"/>
<text x="55.2" y="484.4" font-size="6.5" text-anchor="end">1,000</text>
<line x1="58.5" y1="456.8" x2="61.3" y2="456.8" stroke="#222" stroke-width="1.1"/>
<text x="55.2" y="459.1" font-size="6.5" text-anchor="end">10,000</text>
<line x1="58.5" y1="431.5" x2="61.3" y2="431.5" stroke="#222" stroke-width="1.1"/>
<text x="55.2" y="433.9" font-size="6.5" text-anchor="end">100,000</text>
<line x1="61" y1="532.6" x2="61" y2="535.3" stroke="#222" stroke-width="1.1"/>
<text x="61" y="544.4" font-size="6.6" text-anchor="middle">0</text>
<line x1="102.2" y1="532.6" x2="102.2" y2="535.3" stroke="#222" stroke-width="1.1"/>
<text x="102.2" y="544.4" font-size="6.6" text-anchor="middle">5</text>
<line x1="143.4" y1="532.6" x2="143.4" y2="535.3" stroke="#222" stroke-width="1.1"/>
<text x="143.4" y="544.4" font-size="6.6" text-anchor="middle">10</text>
<line x1="184.6" y1="532.6" x2="184.6" y2="535.3" stroke="#222" stroke-width="1.1"/>
<text x="184.6" y="544.4" font-size="6.6" text-anchor="middle">15</text>
<text x="124.8" y="557.5" font-size="9.4" text-anchor="middle" textLength="14.7" lengthAdjust="spacingAndGlyphs">Days</text>
<text transform="translate(25 480.2) rotate(-90)" text-anchor="middle" font-size="7.2" textLength="38.5" lengthAdjust="spacingAndGlyphs">CXCR4 (MFI)</text>
<line x1="77.5" y1="470.8" x2="77.5" y2="467.7" stroke="#b8132e" stroke-width="0.9"/>
<line x1="75" y1="470.8" x2="80" y2="470.8" stroke="#b8132e" stroke-width="0.9"/>
<line x1="75" y1="467.7" x2="80" y2="467.7" stroke="#b8132e" stroke-width="0.9"/>
<line x1="94" y1="484.5" x2="94" y2="475.6" stroke="#b8132e" stroke-width="0.9"/>
<line x1="91.5" y1="484.5" x2="96.5" y2="484.5" stroke="#b8132e" stroke-width="0.9"/>
<line x1="91.5" y1="475.6" x2="96.5" y2="475.6" stroke="#b8132e" stroke-width="0.9"/>
<line x1="110.4" y1="498.7" x2="110.4" y2="483.2" stroke="#b8132e" stroke-width="0.9"/>
<line x1="107.9" y1="498.7" x2="112.9" y2="498.7" stroke="#b8132e" stroke-width="0.9"/>
<line x1="107.9" y1="483.2" x2="112.9" y2="483.2" stroke="#b8132e" stroke-width="0.9"/>
<line x1="126.9" y1="507.9" x2="126.9" y2="486" stroke="#b8132e" stroke-width="0.9"/>
<line x1="124.4" y1="507.9" x2="129.4" y2="507.9" stroke="#b8132e" stroke-width="0.9"/>
<line x1="124.4" y1="486" x2="129.4" y2="486" stroke="#b8132e" stroke-width="0.9"/>
<line x1="143.4" y1="505.3" x2="143.4" y2="496.4" stroke="#b8132e" stroke-width="0.9"/>
<line x1="140.9" y1="505.3" x2="145.9" y2="505.3" stroke="#b8132e" stroke-width="0.9"/>
<line x1="140.9" y1="496.4" x2="145.9" y2="496.4" stroke="#b8132e" stroke-width="0.9"/>
<line x1="159.9" y1="499.7" x2="159.9" y2="488.4" stroke="#b8132e" stroke-width="0.9"/>
<line x1="157.4" y1="499.7" x2="162.4" y2="499.7" stroke="#b8132e" stroke-width="0.9"/>
<line x1="157.4" y1="488.4" x2="162.4" y2="488.4" stroke="#b8132e" stroke-width="0.9"/>
<line x1="176.4" y1="504.5" x2="176.4" y2="487.3" stroke="#b8132e" stroke-width="0.9"/>
<line x1="173.9" y1="504.5" x2="178.9" y2="504.5" stroke="#b8132e" stroke-width="0.9"/>
<line x1="173.9" y1="487.3" x2="178.9" y2="487.3" stroke="#b8132e" stroke-width="0.9"/>
<line x1="94" y1="442.1" x2="94" y2="436.8" stroke="#1f5694" stroke-width="0.9"/>
<line x1="91.7" y1="442.1" x2="96.3" y2="442.1" stroke="#1f5694" stroke-width="0.9"/>
<line x1="91.7" y1="436.8" x2="96.3" y2="436.8" stroke="#1f5694" stroke-width="0.9"/>
<line x1="110.4" y1="441.3" x2="110.4" y2="437.5" stroke="#1f5694" stroke-width="0.9"/>
<line x1="108.1" y1="441.3" x2="112.7" y2="441.3" stroke="#1f5694" stroke-width="0.9"/>
<line x1="108.1" y1="437.5" x2="112.7" y2="437.5" stroke="#1f5694" stroke-width="0.9"/>
<line x1="126.9" y1="440.3" x2="126.9" y2="437.1" stroke="#1f5694" stroke-width="0.9"/>
<line x1="124.6" y1="440.3" x2="129.2" y2="440.3" stroke="#1f5694" stroke-width="0.9"/>
<line x1="124.6" y1="437.1" x2="129.2" y2="437.1" stroke="#1f5694" stroke-width="0.9"/>
<line x1="143.4" y1="440.5" x2="143.4" y2="438.5" stroke="#1f5694" stroke-width="0.9"/>
<line x1="141.1" y1="440.5" x2="145.7" y2="440.5" stroke="#1f5694" stroke-width="0.9"/>
<line x1="141.1" y1="438.5" x2="145.7" y2="438.5" stroke="#1f5694" stroke-width="0.9"/>
<line x1="159.9" y1="440" x2="159.9" y2="437.9" stroke="#1f5694" stroke-width="0.9"/>
<line x1="157.6" y1="440" x2="162.2" y2="440" stroke="#1f5694" stroke-width="0.9"/>
<line x1="157.6" y1="437.9" x2="162.2" y2="437.9" stroke="#1f5694" stroke-width="0.9"/>
<line x1="176.4" y1="439.1" x2="176.4" y2="436.8" stroke="#1f5694" stroke-width="0.9"/>
<line x1="174.1" y1="439.1" x2="178.7" y2="439.1" stroke="#1f5694" stroke-width="0.9"/>
<line x1="174.1" y1="436.8" x2="178.7" y2="436.8" stroke="#1f5694" stroke-width="0.9"/>
<polyline points="77.5,469.3 94,479.2 110.4,487.7 126.9,491.3 143.4,498 159.9,499.7 176.4,493.3" fill="none" stroke="#b8132e" stroke-width="1.5"/>
<polyline points="126.9,491.3 143.4,448.1 159.9,440.3 176.4,439.1" fill="none" stroke="#3aa83a" stroke-width="1.0"/>
<polyline points="77.5,439.6 94,439.5 110.4,439.5 126.9,438.7 143.4,439.6 159.9,438.8 176.4,437.9" fill="none" stroke="#1f5694" stroke-width="1.1"/>
<rect x="75.9" y="467.7" width="3.2" height="3.2" fill="#b8132e"/>
<rect x="92.4" y="477.6" width="3.2" height="3.2" fill="#b8132e"/>
<rect x="108.8" y="486.1" width="3.2" height="3.2" fill="#b8132e"/>
<rect x="125.3" y="489.7" width="3.2" height="3.2" fill="#b8132e"/>
<rect x="141.8" y="496.4" width="3.2" height="3.2" fill="#b8132e"/>
<rect x="158.3" y="498.1" width="3.2" height="3.2" fill="#b8132e"/>
<rect x="174.8" y="491.7" width="3.2" height="3.2" fill="#b8132e"/>
<circle cx="143.4" cy="448.1" r="1.6" fill="#3aa83a"/>
<circle cx="159.9" cy="440.3" r="1.6" fill="#3aa83a"/>
<circle cx="176.4" cy="439.1" r="1.6" fill="#3aa83a"/>
<circle cx="77.5" cy="439.6" r="1.9" fill="#1f5694"/>
<circle cx="94" cy="439.5" r="1.9" fill="#1f5694"/>
<circle cx="110.4" cy="439.5" r="1.9" fill="#1f5694"/>
<circle cx="126.9" cy="438.7" r="1.9" fill="#1f5694"/>
<circle cx="143.4" cy="439.6" r="1.9" fill="#1f5694"/>
<circle cx="159.9" cy="438.8" r="1.9" fill="#1f5694"/>
<circle cx="176.4" cy="437.9" r="1.9" fill="#1f5694"/>
<text x="77.5" y="467" font-size="7.2" text-anchor="middle">***</text>
<text x="94" y="477" font-size="7.2" text-anchor="middle">**</text>
<text x="110.4" y="485.4" font-size="7.2" text-anchor="middle">**</text>
<text x="126.9" y="487.3" font-size="7.2" text-anchor="middle">**</text>
<text x="143.4" y="496.2" font-size="7.2" text-anchor="middle">***</text>
<text x="159.9" y="490" font-size="7.2" text-anchor="middle">***</text>
<text x="176.4" y="490" font-size="7.2" text-anchor="middle">***</text>
<text x="143.4" y="461" font-size="6.2" text-anchor="middle">*</text>
<text x="161" y="449.3" font-size="6.3" text-anchor="middle">n.s.</text>
<text x="176.8" y="449.3" font-size="6.3" text-anchor="middle">n.s.</text>
<line x1="67" y1="503.5" x2="75.5" y2="503.5" stroke="#1f5694" stroke-width="1.0"/>
<circle cx="71.3" cy="503.5" r="1.5" fill="#1f5694"/>
<text x="78" y="506" font-size="6.9">DMSO</text>
<line x1="67" y1="513.7" x2="75.5" y2="513.7" stroke="#b8132e" stroke-width="1.0"/>
<rect x="69.7" y="512.1" width="3.2" height="3.2" fill="#b8132e"/>
<text x="78" y="516.2" font-size="6.9">BRM014</text>
<line x1="67" y1="523" x2="75.5" y2="523" stroke="#3aa83a" stroke-width="1.0"/>
<circle cx="71.3" cy="523" r="1.2" fill="#3aa83a"/>
<text x="78" y="525.5" font-size="6.9">WASH</text>
<text x="205" y="409.5" font-size="12.2" font-weight="bold" fill="#111" textLength="9.0" lengthAdjust="spacingAndGlyphs">G</text>
<text x="306.3" y="423.5" font-size="9" text-anchor="middle">Jurkat</text>
<line x1="261.5" y1="429.5" x2="261.5" y2="523.5" stroke="#222" stroke-width="1.3"/>
<line x1="260.9" y1="523" x2="348.5" y2="523" stroke="#222" stroke-width="1.3"/>
<line x1="258.7" y1="523" x2="261.5" y2="523" stroke="#222" stroke-width="1.1"/>
<text x="255.2" y="525.3" font-size="6.5" text-anchor="end">0</text>
<line x1="258.7" y1="492.6" x2="261.5" y2="492.6" stroke="#222" stroke-width="1.1"/>
<text x="255.2" y="495" font-size="6.5" text-anchor="end">50,000</text>
<line x1="258.7" y1="462.3" x2="261.5" y2="462.3" stroke="#222" stroke-width="1.1"/>
<text x="255.2" y="464.6" font-size="6.5" text-anchor="end">100,000</text>
<line x1="258.7" y1="431.9" x2="261.5" y2="431.9" stroke="#222" stroke-width="1.1"/>
<text x="255.2" y="434.2" font-size="6.5" text-anchor="end">150,000</text>
<text transform="translate(224.7 475.1) rotate(-90)" text-anchor="middle" font-size="6.8">CXCR4 (MFI)</text>
<line x1="271.9" y1="523" x2="271.9" y2="525.8" stroke="#222" stroke-width="1.1"/>
<text transform="translate(276.2 533.5) rotate(-45)" text-anchor="end" font-size="7.0">gAAVS1</text>
<line x1="294.9" y1="523" x2="294.9" y2="525.8" stroke="#222" stroke-width="1.1"/>
<text transform="translate(299.2 533.5) rotate(-45)" text-anchor="end" font-size="7.0">gSMARCA4</text>
<line x1="318" y1="523" x2="318" y2="525.8" stroke="#222" stroke-width="1.1"/>
<text transform="translate(322.3 533.5) rotate(-45)" text-anchor="end" font-size="7.0">gSMARCA4/2</text>
<line x1="341.2" y1="523" x2="341.2" y2="525.8" stroke="#222" stroke-width="1.1"/>
<text transform="translate(345.5 533.5) rotate(-45)" text-anchor="end" font-size="7.0">gARID1A/B</text>
<circle cx="316.9" cy="435.6" r="1.9" fill="#1c4f7e"/>
<text x="321.9" y="438.1" font-size="6.9">Control</text>
<circle cx="316.9" cy="444.3" r="1.9" fill="#bf1230"/>
<text x="321.9" y="446.8" font-size="6.9">CXCR4</text>
<circle cx="265" cy="494.4" r="1.8" fill="#1c4f7e"/>
<circle cx="266.9" cy="491.8" r="1.8" fill="#1c4f7e"/>
<circle cx="268.6" cy="493" r="1.8" fill="#1c4f7e"/>
<circle cx="289" cy="523.6" r="1.7" fill="#1c4f7e"/>
<circle cx="290.9" cy="521" r="1.7" fill="#1c4f7e"/>
<circle cx="292.6" cy="522.2" r="1.7" fill="#1c4f7e"/>
<circle cx="312.1" cy="523.6" r="1.7" fill="#1c4f7e"/>
<circle cx="314" cy="521" r="1.7" fill="#1c4f7e"/>
<circle cx="315.7" cy="522.2" r="1.7" fill="#1c4f7e"/>
<circle cx="335.3" cy="523.6" r="1.7" fill="#1c4f7e"/>
<circle cx="337.2" cy="521" r="1.7" fill="#1c4f7e"/>
<circle cx="338.9" cy="522.2" r="1.7" fill="#1c4f7e"/>
<line x1="275.8" y1="454.4" x2="275.8" y2="473.2" stroke="#444" stroke-width="0.8"/>
<line x1="273.8" y1="454.4" x2="277.8" y2="454.4" stroke="#444" stroke-width="0.8"/>
<line x1="273.8" y1="473.2" x2="277.8" y2="473.2" stroke="#444" stroke-width="0.8"/>
<line x1="272.3" y1="462.9" x2="279.3" y2="462.9" stroke="#444" stroke-width="0.8"/>
<circle cx="275.8" cy="454.4" r="1.8" fill="#bf1230"/>
<circle cx="275.8" cy="462.9" r="1.8" fill="#bf1230"/>
<circle cx="275.8" cy="473.2" r="1.8" fill="#bf1230"/>
<line x1="299.2" y1="470.8" x2="299.2" y2="499.3" stroke="#444" stroke-width="0.8"/>
<line x1="297.2" y1="470.8" x2="301.2" y2="470.8" stroke="#444" stroke-width="0.8"/>
<line x1="297.2" y1="499.3" x2="301.2" y2="499.3" stroke="#444" stroke-width="0.8"/>
<line x1="295.7" y1="484.1" x2="302.7" y2="484.1" stroke="#444" stroke-width="0.8"/>
<circle cx="299.2" cy="474.4" r="1.8" fill="#bf1230"/>
<circle cx="298.7" cy="478.7" r="1.8" fill="#bf1230"/>
<circle cx="299.2" cy="499.3" r="1.8" fill="#bf1230"/>
<line x1="322.3" y1="487.2" x2="322.3" y2="504.8" stroke="#444" stroke-width="0.8"/>
<line x1="320.3" y1="487.2" x2="324.3" y2="487.2" stroke="#444" stroke-width="0.8"/>
<line x1="320.3" y1="504.8" x2="324.3" y2="504.8" stroke="#444" stroke-width="0.8"/>
<line x1="318.8" y1="495.7" x2="325.8" y2="495.7" stroke="#444" stroke-width="0.8"/>
<circle cx="322.3" cy="489.6" r="1.8" fill="#bf1230"/>
<circle cx="323.1" cy="490.8" r="1.8" fill="#bf1230"/>
<circle cx="322" cy="504.8" r="1.8" fill="#bf1230"/>
<line x1="345.4" y1="461.1" x2="345.4" y2="489" stroke="#444" stroke-width="0.8"/>
<line x1="343.4" y1="461.1" x2="347.4" y2="461.1" stroke="#444" stroke-width="0.8"/>
<line x1="343.4" y1="489" x2="347.4" y2="489" stroke="#444" stroke-width="0.8"/>
<line x1="341.9" y1="474.4" x2="348.9" y2="474.4" stroke="#444" stroke-width="0.8"/>
<circle cx="344.9" cy="466.5" r="1.8" fill="#bf1230"/>
<circle cx="346.2" cy="467.1" r="1.8" fill="#bf1230"/>
<circle cx="345.4" cy="489" r="1.8" fill="#bf1230"/>
<line x1="266.2" y1="445.4" x2="278.8" y2="445.4" stroke="#222" stroke-width="1.2"/>
<text x="272.5" y="447.4" font-size="7.4" text-anchor="middle">**</text>
<line x1="289.6" y1="464.8" x2="301.9" y2="464.8" stroke="#222" stroke-width="1.2"/>
<text x="295.8" y="466.8" font-size="7.4" text-anchor="middle">**</text>
<line x1="312.3" y1="481.3" x2="324" y2="481.3" stroke="#222" stroke-width="1.2"/>
<text x="318.1" y="483.3" font-size="7.4" text-anchor="middle">**</text>
<line x1="334.8" y1="457.1" x2="347.5" y2="457.1" stroke="#222" stroke-width="1.2"/>
<text x="341.1" y="459.1" font-size="7.4" text-anchor="middle">**</text>
<text x="368.5" y="409.6" font-size="12.2" font-weight="bold" fill="#111" textLength="7.7" lengthAdjust="spacingAndGlyphs">H</text>
<text x="466.6" y="423.5" font-size="9" text-anchor="middle">Jurkat</text>
<line x1="420" y1="428.8" x2="420" y2="526.6" stroke="#222" stroke-width="1.3"/>
<line x1="419.4" y1="526" x2="512.5" y2="526" stroke="#222" stroke-width="1.3"/>
<line x1="417.2" y1="526" x2="420" y2="526" stroke="#222" stroke-width="1.1"/>
<text x="413.6" y="528.4" font-size="6.6" text-anchor="end">0.0</text>
<line x1="417.2" y1="494.6" x2="420" y2="494.6" stroke="#222" stroke-width="1.1"/>
<text x="413.6" y="497" font-size="6.6" text-anchor="end">0.5</text>
<line x1="417.2" y1="463.2" x2="420" y2="463.2" stroke="#222" stroke-width="1.1"/>
<text x="413.6" y="465.6" font-size="6.6" text-anchor="end">1.0</text>
<line x1="417.2" y1="431.8" x2="420" y2="431.8" stroke="#222" stroke-width="1.1"/>
<text x="413.6" y="434.2" font-size="6.6" text-anchor="end">1.5</text>
<text transform="translate(388.3 474.4) rotate(-90)" text-anchor="middle" font-size="7.6" textLength="48.4" lengthAdjust="spacingAndGlyphs">Migration activity</text>
<text transform="translate(399.3 475.7) rotate(-90)" text-anchor="middle" font-size="7.6" textLength="74.9" lengthAdjust="spacingAndGlyphs">relative to control-gAAVS1</text>
<line x1="430.4" y1="526" x2="430.4" y2="528.7" stroke="#222" stroke-width="1.1"/>
<text transform="translate(434.7 536.5) rotate(-45)" text-anchor="end" font-size="7.0">gAAVS1</text>
<line x1="454.4" y1="526" x2="454.4" y2="528.7" stroke="#222" stroke-width="1.1"/>
<text transform="translate(458.7 536.5) rotate(-45)" text-anchor="end" font-size="7.0">gSMARCA4</text>
<line x1="478.5" y1="526" x2="478.5" y2="528.7" stroke="#222" stroke-width="1.1"/>
<text transform="translate(482.8 536.5) rotate(-45)" text-anchor="end" font-size="7.0">gSMARCA4/2</text>
<line x1="502.5" y1="526" x2="502.5" y2="528.7" stroke="#222" stroke-width="1.1"/>
<text transform="translate(506.8 536.5) rotate(-45)" text-anchor="end" font-size="7.0">gARID1A/B</text>
<circle cx="478.5" cy="439.4" r="1.9" fill="#1c4f7e"/>
<text x="483.3" y="441.9" font-size="6.9">Control</text>
<circle cx="478.5" cy="448.5" r="1.9" fill="#bf1230"/>
<text x="483.3" y="451" font-size="6.9">CXCR4</text>
<line x1="422.9" y1="463.2" x2="427.9" y2="463.2" stroke="#1c4f7e" stroke-width="0.8"/>
<line x1="425.6" y1="467.6" x2="425.6" y2="457.5" stroke="#1c4f7e" stroke-width="0.8"/>
<circle cx="426.2" cy="457.5" r="1.8" fill="#1c4f7e"/>
<circle cx="427.4" cy="464.5" r="1.8" fill="#1c4f7e"/>
<circle cx="424.4" cy="467.6" r="1.8" fill="#1c4f7e"/>
<circle cx="432.9" cy="464.7" r="1.8" fill="#bf1230"/>
<circle cx="434.8" cy="462.1" r="1.8" fill="#bf1230"/>
<circle cx="436.5" cy="463.3" r="1.8" fill="#bf1230"/>
<circle cx="449.9" cy="505.3" r="1.8" fill="#1c4f7e"/>
<circle cx="448.9" cy="509" r="1.8" fill="#1c4f7e"/>
<circle cx="451.1" cy="507.2" r="1.8" fill="#1c4f7e"/>
<circle cx="458.9" cy="480.8" r="1.8" fill="#bf1230"/>
<circle cx="459.9" cy="484.6" r="1.8" fill="#bf1230"/>
<circle cx="457.9" cy="482.7" r="1.8" fill="#bf1230"/>
<circle cx="474" cy="506.5" r="1.8" fill="#1c4f7e"/>
<circle cx="473" cy="510.3" r="1.8" fill="#1c4f7e"/>
<circle cx="475.2" cy="508.4" r="1.8" fill="#1c4f7e"/>
<circle cx="483" cy="487.7" r="1.8" fill="#bf1230"/>
<circle cx="484" cy="487.7" r="1.8" fill="#bf1230"/>
<circle cx="482" cy="487.7" r="1.8" fill="#bf1230"/>
<circle cx="498" cy="509" r="1.8" fill="#1c4f7e"/>
<circle cx="497" cy="510.9" r="1.8" fill="#1c4f7e"/>
<circle cx="499.2" cy="510" r="1.8" fill="#1c4f7e"/>
<circle cx="507" cy="480.8" r="1.8" fill="#bf1230"/>
<circle cx="508" cy="483.3" r="1.8" fill="#bf1230"/>
<circle cx="506" cy="482" r="1.8" fill="#bf1230"/>
<line x1="448.3" y1="474.4" x2="461" y2="474.4" stroke="#222" stroke-width="1.2"/>
<text x="454" y="473.9" font-size="7.2" text-anchor="middle">***</text>
<line x1="472.1" y1="476.3" x2="484.4" y2="476.3" stroke="#222" stroke-width="1.2"/>
<text x="477.6" y="475.8" font-size="7.2" text-anchor="middle">***</text>
<line x1="496.2" y1="471.5" x2="508.9" y2="471.5" stroke="#222" stroke-width="1.2"/>
<text x="501.9" y="471" font-size="7.2" text-anchor="middle">***</text>
<rect x="0.5" y="0.5" width="519" height="572.5" fill="none" stroke="#474747" stroke-width="1"/>
<line x1="0" y1="573.2" x2="520" y2="573.2" stroke="#474747" stroke-width="1.6"/>
<line x1="519.2" y1="0" x2="519.2" y2="574" stroke="#474747" stroke-width="1.6"/>
</svg>
</body></html>
